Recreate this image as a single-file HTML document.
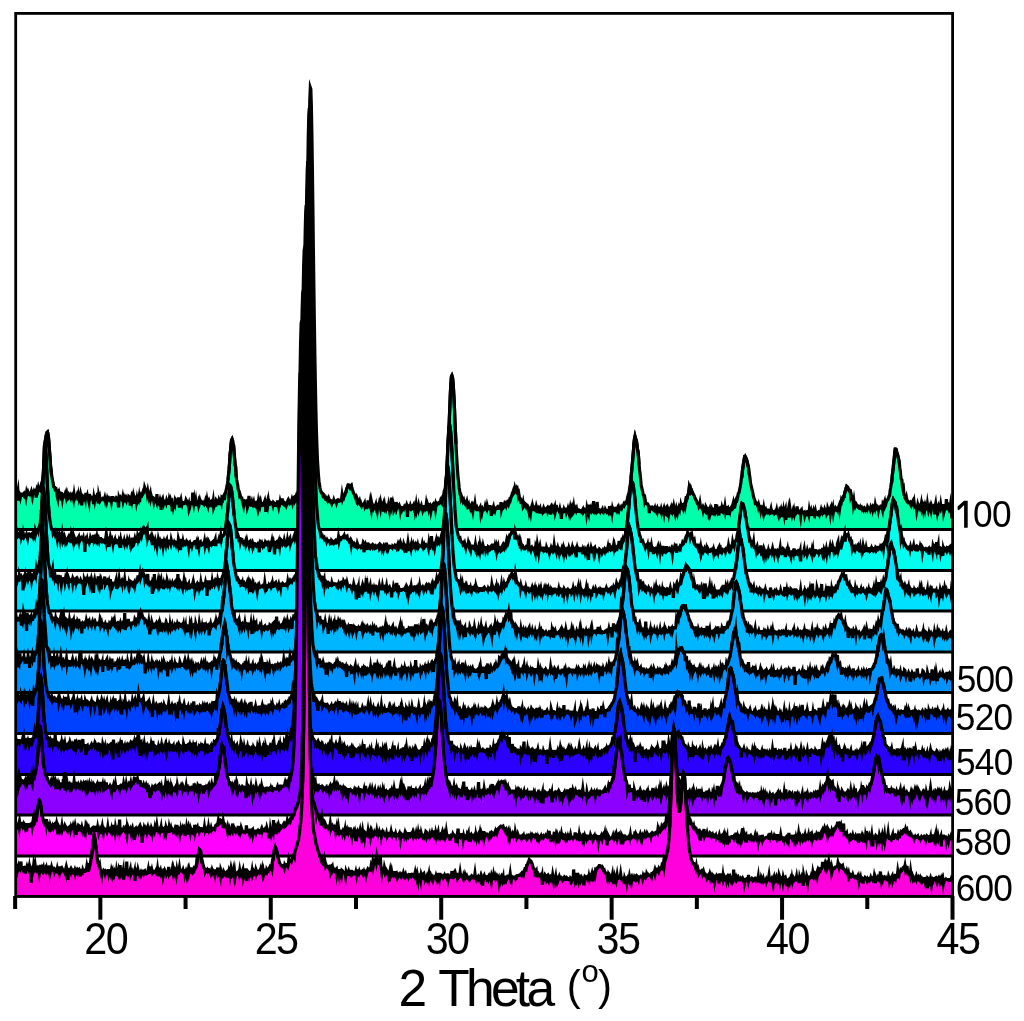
<!DOCTYPE html>
<html><head><meta charset="utf-8"><style>
html,body{margin:0;padding:0;background:#fff;}
body{width:1024px;height:1021px;overflow:hidden;}
svg{display:block;}
</style></head><body>
<svg width="1024" height="1021" viewBox="0 0 1024 1021"><defs><clipPath id="c"><rect x="15.3" y="13" width="937.7" height="884"/></clipPath></defs><g clip-path="url(#c)"><g stroke="#000" stroke-width="3.2" stroke-linejoin="miter" stroke-miterlimit="8"><path fill="#00FFAA" d="M15.30 529.5L15.30 493.5l.51 2 .51 -2 .51 1 .52 -1 .51 -2.5 .51 9.5 .51 -6 .51 -1 .51 1 .51 2.5 .51 -2.5 .52 -.5 .51 0 .51 1.5 .51 0 .51 -1 .51 1 .51 -1.5 .51 -1 .52 .5 .51 3 .51 -3.5 .51 2 .51 -.5 .51 -2 .51 1.5 .51 0 .52 .5 .51 -.5 .51 -.5 .51 -1.5 .51 3 .51 2 .51 -4 .52 1 .51 -.5 .51 -2 .51 1 .51 1 .51 -1.5 .51 5.5 .51 -3.5 .52 -4.5 .51 1 .51 -2.5 .51 2 .51 -.5 .51 .5 .51 -2.5 .51 -.5 .52 -2.5 .51 .5 .51 -3.5 .51 -4 .51 -3.5 .51 -5.5 .51 -4 .51 -6.5 .52 -8.5 .51 -5.5 .51 -7 .51 -4.5 .51 -.5 .51 2 .51 4 .52 5.5 .51 8 .51 6 .51 9 .51 3.5 .51 5 .51 2.5 .51 3.5 .52 1.5 .51 4 .51 1 .51 0 .51 2.5 .51 0 .51 -.5 .51 2 .52 5 .51 2 .51 -6 .51 -1 .51 2 .51 -.5 .51 0 .51 3.5 .52 -1 .51 -.5 .51 3.5 .51 -3.5 .51 .5 .51 0 .51 .5 .52 -1.5 .51 1.5 .51 -2 .51 3 .51 -2 .51 3 .51 -1 .51 -1.5 .52 1.5 .51 -1 .51 -1 .51 1.5 .51 -3.5 .51 5 .51 -.5 .51 -2 .52 1 .51 2.5 .51 -4 .51 3.5 .51 -1.5 .51 .5 .51 -.5 .51 -1 .52 -1.5 .51 1.5 .51 4.5 .51 -4 .51 3 .51 -1.5 .51 .5 .52 -3.5 .51 2.5 .51 8 .51 -8 .51 4 .51 -5 .51 .5 .51 -.5 .52 -.5 .51 2.5 .51 -5.5 .51 5.5 .51 -.5 .51 -2 .51 2.5 .51 .5 .52 2.5 .51 -7.5 .51 5.5 .51 -1 .51 -1.5 .51 0 .51 1 .51 0 .52 0 .51 6 .51 -6 .51 2.5 .51 -3.5 .51 0 .51 4 .52 -6 .51 3.5 .51 -5.5 .51 10.5 .51 -7.5 .51 2.5 .51 -1.5 .51 3.5 .52 -1 .51 0 .51 -.5 .51 0 .51 -.5 .51 .5 .51 1 .51 0 .52 -2 .51 2.5 .51 -2 .51 0 .51 2.5 .51 -2.5 .51 1.5 .51 -.5 .52 -1 .51 1 .51 -1 .51 -.5 .51 0 .51 3 .51 -3.5 .52 0 .51 0 .51 2 .51 -.5 .51 .5 .51 .5 .51 -1 .51 .5 .52 -1.5 .51 .5 .51 0 .51 4 .51 5 .51 -9.5 .51 1.5 .51 0 .52 -1.5 .51 1 .51 .5 .51 .5 .51 -2.5 .51 3.5 .51 -2 .51 2 .52 0 .51 -2.5 .51 1.5 .51 1 .51 -2.5 .51 1 .51 0 .52 .5 .51 -3.5 .51 .5 .51 2.5 .51 6 .51 -4.5 .51 -2.5 .51 2.5 .52 -3 .51 2 .51 4 .51 -7 .51 2 .51 .5 .51 -1.5 .51 -.5 .52 4 .51 -3 .51 2.5 .51 -1.5 .51 1 .51 -3 .51 4.5 .51 -4 .52 -2.5 .51 1 .51 0 .51 -1.5 .51 -2 .51 -1.5 .51 1 .52 -1 .51 -4 .51 1.5 .51 .5 .51 0 .51 .5 .51 3.5 .51 -2.5 .52 3 .51 0 .51 3.5 .51 -1.5 .51 -2 .51 4.5 .51 -2 .51 2 .52 0 .51 -.5 .51 .5 .51 3 .51 -2.5 .51 .5 .51 1 .51 -.5 .52 1.5 .51 -7.5 .51 7.5 .51 0 .51 1 .51 1 .51 -1.5 .52 -2 .51 2 .51 8 .51 -9 .51 -1.5 .51 -1 .51 3 .51 2 .52 -2 .51 -.5 .51 0 .51 .5 .51 1.5 .51 -2.5 .51 1.5 .51 1.5 .52 0 .51 0 .51 -3.5 .51 2 .51 1 .51 -3 .51 1.5 .51 -.5 .52 10.5 .51 -9.5 .51 4 .51 -2.5 .51 -.5 .51 1.5 .51 -4.5 .52 1 .51 1.5 .51 -.5 .51 .5 .51 -1 .51 -4 .51 5 .51 5 .52 -6 .51 .5 .51 -2 .51 3 .51 1.5 .51 -2 .51 0 .51 0 .52 .5 .51 -.5 .51 .5 .51 -.5 .51 -2.5 .51 1 .51 1 .51 2 .52 1.5 .51 -1.5 .51 5.5 .51 -1.5 .51 -4 .51 -1.5 .51 0 .52 0 .51 .5 .51 -10.5 .51 9 .51 2.5 .51 -3.5 .51 4 .51 0 .52 -3 .51 4.5 .51 -4.5 .51 0 .51 .5 .51 2.5 .51 -3 .51 1.5 .52 -2.5 .51 2 .51 -.5 .51 -.5 .51 .5 .51 1.5 .51 0 .51 .5 .52 .5 .51 -2 .51 .5 .51 -2 .51 2 .51 1 .51 -3.5 .52 3 .51 2 .51 -3 .51 -1.5 .51 1.5 .51 1.5 .51 -1 .51 1 .52 -1.5 .51 1 .51 1 .51 -3 .51 6 .51 -1.5 .51 -3 .51 -1 .52 4.5 .51 -5 .51 1 .51 -1.5 .51 .5 .51 -.5 .51 4 .51 -5 .52 1 .51 -.5 .51 -.5 .51 2 .51 -4.5 .51 .5 .51 1 .52 -2.5 .51 -1 .51 4.5 .51 -5.5 .51 -1 .51 -2.5 .51 -2.5 .51 -2.5 .52 -2.5 .51 -3.5 .51 -5 .51 -5 .51 -6.5 .51 -9 .51 -4 .51 -6.5 .52 -4 .51 -1 .51 1.5 .51 4.5 .51 .5 .51 7 .51 6.5 .51 6 .52 2 .51 9.5 .51 3.5 .51 2.5 .51 2.5 .51 4.5 .51 1.5 .52 .5 .51 4.5 .51 -.5 .51 2 .51 .5 .51 0 .51 2.5 .51 2.5 .52 2 .51 -5 .51 3.5 .51 -2 .51 .5 .51 -.5 .51 1.5 .51 -.5 .52 5 .51 -1.5 .51 -4 .51 -6 .51 6 .51 2 .51 .5 .51 -1 .52 -1.5 .51 3 .51 .5 .51 -2 .51 -1.5 .51 3 .51 .5 .52 -2 .51 -.5 .51 1.5 .51 -1.5 .51 0 .51 3.5 .51 -3.5 .51 4 .52 -2.5 .51 -2 .51 2.5 .51 -2.5 .51 2.5 .51 .5 .51 0 .51 -2 .52 0 .51 .5 .51 -1.5 .51 -1.5 .51 3 .51 8 .51 -9 .51 .5 .52 -2 .51 3 .51 -3.5 .51 3.5 .51 0 .51 -2 .51 1 .51 0 .52 -.5 .51 .5 .51 -.5 .51 2 .51 -2.5 .51 .5 .51 1 .52 1.5 .51 0 .51 -1.5 .51 -.5 .51 1 .51 -4 .51 4.5 .51 2 .52 -3 .51 .5 .51 -3 .51 2 .51 0 .51 0 .51 -5 .51 4 .52 1.5 .51 .5 .51 -2 .51 .5 .51 0 .51 1 .51 1.5 .51 -1.5 .52 -1.5 .51 -2 .51 -1 .51 1 .51 1 .51 2 .51 -.5 .52 -1 .51 0 .51 -2 .51 2 .51 -3.5 .51 -.5 .51 3.5 .51 -5.5 .52 3.5 .51 -1.5 .51 -1.5 .51 2.5 .51 -1 .51 -1.5 .51 -1 .51 -.5 .52 -1.5 .51 -1.5 .51 -2.5 .51 -2.5 .51 .5 .51 -4 .51 -5.5 .51 -4 .52 -7.5 .51 -11 .51 -12 .51 -17.5 .51 -20.5 .51 -25.5 .51 -30 .52 -34.5 .51 -38 .51 -41 .51 -40.5 .51 -39 .51 -33.5 .51 -24 .51 -12 .52 1.5 .51 16 .51 27 .51 35 .51 39.5 .51 42.5 .51 39.5 .51 37 .52 33 .51 28.5 .51 24.5 .51 20.5 .51 15 .51 13 .51 8 .51 7.5 .52 6 .51 3 .51 3.5 .51 3 .51 .5 .51 1.5 .51 .5 .52 1.5 .51 -1 .51 .5 .51 .5 .51 2 .51 1.5 .51 1 .51 0 .52 -1 .51 1.5 .51 1 .51 -1 .51 -1.5 .51 1.5 .51 1 .51 -.5 .52 .5 .51 1 .51 1.5 .51 -1.5 .51 .5 .51 -.5 .51 -2 .51 1.5 .52 0 .51 .5 .51 -.5 .51 1.5 .51 -2 .51 -.5 .51 1 .52 0 .51 -1 .51 .5 .51 0 .51 -1 .51 -.5 .51 0 .51 -4 .52 3.5 .51 -1.5 .51 .5 .51 -2.5 .51 0 .51 -2 .51 -1 .51 -.5 .52 -3 .51 -1 .51 -1.5 .51 -1.5 .51 0 .51 .5 .51 0 .51 1.5 .52 -1 .51 -.5 .51 2.5 .51 2 .51 .5 .51 2 .51 1 .52 1 .51 1 .51 2 .51 1 .51 1.5 .51 -2 .51 1.5 .51 2.5 .52 -1 .51 .5 .51 -1 .51 2.5 .51 -.5 .51 2.5 .51 1 .51 -1.5 .52 .5 .51 0 .51 0 .51 -1 .51 -1 .51 3.5 .51 -1 .51 .5 .52 1 .51 .5 .51 -.5 .51 -6.5 .51 4.5 .51 0 .51 1 .52 -3.5 .51 4 .51 2.5 .51 -6 .51 2.5 .51 -.5 .51 1 .51 2.5 .52 -1 .51 -1 .51 -.5 .51 -1.5 .51 3.5 .51 -1 .51 3 .51 -4 .52 .5 .51 -.5 .51 -2.5 .51 2 .51 2.5 .51 -4.5 .51 2.5 .51 -1 .52 1.5 .51 -1.5 .51 6.5 .51 -4 .51 -2.5 .51 3.5 .51 -1 .52 1.5 .51 -2 .51 1 .51 .5 .51 -1.5 .51 -2.5 .51 3 .51 3 .52 -3.5 .51 -1 .51 1.5 .51 -10 .51 9 .51 -.5 .51 -3 .51 2 .52 4 .51 -1.5 .51 .5 .51 1 .51 -7 .51 6 .51 -1.5 .51 -1.5 .52 .5 .51 1 .51 -1 .51 1.5 .51 3.5 .51 -3 .51 .5 .52 1.5 .51 -1.5 .51 -.5 .51 0 .51 1 .51 -1.5 .51 1 .51 0 .52 -1 .51 -1.5 .51 2.5 .51 9 .51 -10 .51 1 .51 -1 .51 1 .52 .5 .51 -2.5 .51 1.5 .51 -.5 .51 1.5 .51 -.5 .51 -2 .51 -1 .52 3 .51 -1 .51 4 .51 -2.5 .51 -3.5 .51 4 .51 -2.5 .52 .5 .51 2 .51 -3 .51 2.5 .51 -1.5 .51 .5 .51 0 .51 -1.5 .52 2.5 .51 -.5 .51 2.5 .51 -1.5 .51 -1.5 .51 -1 .51 0 .51 2 .52 -1 .51 -4 .51 2.5 .51 5 .51 -4.5 .51 2 .51 -3.5 .51 .5 .52 -.5 .51 1.5 .51 4.5 .51 -2.5 .51 -1 .51 -1.5 .51 1 .52 -1.5 .51 1.5 .51 -1 .51 -1.5 .51 4 .51 -3.5 .51 0 .51 -1.5 .52 .5 .51 0 .51 -1 .51 -.5 .51 .5 .51 -.5 .51 -2 .51 1 .52 1 .51 -3 .51 -3 .51 -.5 .51 -1.5 .51 -3.5 .51 -1 .51 -2.5 .52 -5.5 .51 -5 .51 -5.5 .51 -8.5 .51 -9.5 .51 -11 .51 -12 .52 -13 .51 -13 .51 -12.5 .51 -9 .51 -6.5 .51 -1 .51 1.5 .51 4.5 .52 7 .51 9 .51 11.5 .51 13.5 .51 10.5 .51 11 .51 11 .51 7.5 .52 8 .51 7.5 .51 3.5 .51 6 .51 3 .51 4 .51 1 .51 3 .52 -1.5 .51 1.5 .51 0 .51 2.5 .51 -1 .51 2 .51 1 .52 -.5 .51 1.5 .51 -1 .51 -1.5 .51 3 .51 2.5 .51 -.5 .51 -1.5 .52 2.5 .51 .5 .51 1 .51 -3 .51 -1 .51 2.5 .51 0 .51 3 .52 -3.5 .51 1.5 .51 -.5 .51 -3.5 .51 4 .51 .5 .51 -.5 .51 -1 .52 1.5 .51 -.5 .51 .5 .51 .5 .51 -1 .51 -1 .51 4.5 .52 -3.5 .51 -.5 .51 3.5 .51 -2.5 .51 .5 .51 -.5 .51 .5 .51 -.5 .52 -2.5 .51 2 .51 0 .51 1 .51 -3.5 .51 2 .51 0 .51 1 .52 0 .51 -2.5 .51 0 .51 1.5 .51 8 .51 -7.5 .51 .5 .51 -.5 .52 -1.5 .51 3 .51 -1 .51 1.5 .51 -2 .51 0 .51 -.5 .52 -.5 .51 -.5 .51 1.5 .51 0 .51 -1 .51 0 .51 -1 .51 3 .52 -7.5 .51 7 .51 -2 .51 0 .51 -1 .51 1 .51 -1 .51 -2 .52 1 .51 -1 .51 1.5 .51 -2 .51 -1 .51 1 .51 -1 .51 1.5 .52 -1.5 .51 -2.5 .51 .5 .51 -2 .51 -2 .51 -.5 .51 -2.5 .52 -1 .51 -1.5 .51 1.5 .51 -1 .51 -3 .51 2 .51 -1 .51 -1 .52 2 .51 -1 .51 2.5 .51 4 .51 -1.5 .51 3 .51 1.5 .51 0 .52 3.5 .51 0 .51 -.5 .51 2.5 .51 -2 .51 3.5 .51 -1 .51 .5 .52 -2 .51 .5 .51 2.5 .51 -.5 .51 1 .51 1.5 .51 -1.5 .52 1 .51 3.5 .51 -2.5 .51 0 .51 3 .51 -4 .51 -1.5 .51 4.5 .52 -4.5 .51 2 .51 0 .51 -.5 .51 1.5 .51 .5 .51 -1 .51 -2.5 .52 2 .51 4.5 .51 -4 .51 1 .51 -1.5 .51 1 .51 -1 .51 5 .52 -4.5 .51 .5 .51 .5 .51 1.5 .51 -1.5 .51 -1.5 .51 2 .52 -1 .51 1 .51 -1 .51 -.5 .51 1 .51 -1 .51 2 .51 -2 .52 1 .51 -1.5 .51 1 .51 -1 .51 6 .51 -4 .51 -2 .51 2 .52 .5 .51 -2.5 .51 1.5 .51 -1.5 .51 -1.5 .51 5 .51 -2 .51 -5 .52 4.5 .51 .5 .51 0 .51 -.5 .51 0 .51 1.5 .51 -2 .52 2.5 .51 -.5 .51 8 .51 -9 .51 0 .51 1.5 .51 0 .51 -2 .52 1.5 .51 -.5 .51 -1.5 .51 0 .51 3 .51 -1.5 .51 .5 .51 -2 .52 2 .51 -5 .51 5 .51 -2.5 .51 3.5 .51 -2.5 .51 2 .51 -2.5 .52 2.5 .51 -1.5 .51 -3 .51 4 .51 -1 .51 .5 .51 -1.5 .52 1.5 .51 -1.5 .51 2.5 .51 0 .51 0 .51 0 .51 -1 .51 .5 .52 -.5 .51 0 .51 1 .51 -1 .51 0 .51 -1 .51 2.5 .51 -1 .52 -1.5 .51 .5 .51 0 .51 0 .51 3.5 .51 -4.5 .51 2.5 .51 -1 .52 2 .51 -8 .51 7 .51 -1 .51 .5 .51 -2 .51 2 .52 -1 .51 1 .51 .5 .51 -10.5 .51 8 .51 1 .51 2 .51 .5 .52 -2 .51 .5 .51 -9 .51 6 .51 2.5 .51 .5 .51 -1 .51 .5 .52 1 .51 -1.5 .51 0 .51 .5 .51 -1 .51 2.5 .51 .5 .51 -1.5 .52 .5 .51 0 .51 -2 .51 1 .51 1 .51 -1 .51 0 .52 1 .51 1 .51 -1.5 .51 -3.5 .51 0 .51 3 .51 -1.5 .51 1 .52 3 .51 -4 .51 2 .51 -.5 .51 -1.5 .51 .5 .51 .5 .51 -1 .52 .5 .51 1 .51 -2 .51 -1 .51 1.5 .51 -1.5 .51 2 .51 -2 .52 0 .51 .5 .51 -1 .51 1 .51 -1.5 .51 -.5 .51 0 .52 -1.5 .51 1 .51 -1 .51 -1 .51 -1.5 .51 0 .51 .5 .51 -3.5 .52 -2 .51 -2.5 .51 -1 .51 -3 .51 -4 .51 -2.5 .51 -5 .51 -5 .52 -6 .51 -5 .51 -7 .51 -5.5 .51 -7.5 .51 -4 .51 -2.5 .51 2 .52 1 .51 2 .51 3.5 .51 4.5 .51 2 .51 6 .51 7 .52 5.5 .51 4 .51 5.5 .51 5 .51 3 .51 2 .51 2 .51 3 .52 .5 .51 2.5 .51 4 .51 -1.5 .51 3 .51 .5 .51 0 .51 .5 .52 0 .51 1.5 .51 2 .51 5.5 .51 -5.5 .51 .5 .51 -1 .51 0 .52 0 .51 2 .51 .5 .51 -1.5 .51 .5 .51 1 .51 -1.5 .52 2 .51 1 .51 -2 .51 -1 .51 2.5 .51 -2.5 .51 0 .51 2 .52 1 .51 -.5 .51 1 .51 -2 .51 2.5 .51 -2.5 .51 .5 .51 .5 .52 -1.5 .51 3.5 .51 -3.5 .51 1.5 .51 -1 .51 4.5 .51 .5 .51 -4 .52 -2 .51 1.5 .51 3 .51 -3.5 .51 0 .51 -1 .51 1.5 .52 -2 .51 2 .51 -1.5 .51 2.5 .51 -1.5 .51 -3 .51 2.5 .51 2.5 .52 -5 .51 4.5 .51 -2.5 .51 2 .51 2.5 .51 -2.5 .51 -1 .51 -2 .52 1.5 .51 -4 .51 5 .51 -4.5 .51 2 .51 -.5 .51 -.5 .51 1.5 .52 -3.5 .51 0 .51 -1 .51 2.5 .51 -3.5 .51 -3.5 .51 .5 .52 -1.5 .51 -2.5 .51 -1 .51 -1.5 .51 -4.5 .51 2 .51 1 .51 -2 .52 2 .51 -.5 .51 1.5 .51 1 .51 .5 .51 1 .51 1 .51 2 .52 .5 .51 1.5 .51 .5 .51 1.5 .51 1.5 .51 .5 .51 .5 .51 2 .52 -1 .51 -2.5 .51 3.5 .51 0 .51 1 .51 1 .51 -1 .52 2.5 .51 -2.5 .51 1 .51 1 .51 2 .51 .5 .51 -5 .51 1 .52 2 .51 0 .51 -.5 .51 3.5 .51 -2 .51 -1.5 .51 4 .51 -2 .52 -1 .51 4.5 .51 -5.5 .51 1 .51 1 .51 -2 .51 -.5 .51 3 .52 -1 .51 -7 .51 7 .51 -1 .51 -1 .51 3 .51 -1 .52 4.5 .51 -5 .51 -1 .51 1.5 .51 -.5 .51 .5 .51 -3 .51 2 .52 1 .51 -2.5 .51 -3.5 .51 5.5 .51 -3.5 .51 4 .51 -2.5 .51 -.5 .52 .5 .51 -.5 .51 7 .51 -6 .51 -.5 .51 0 .51 2 .51 -2.5 .52 -.5 .51 3.5 .51 -5 .51 -.5 .51 -2 .51 4 .51 -.5 .52 -3.5 .51 1 .51 -2.5 .51 -3 .51 -1 .51 1 .51 -2 .51 -3.5 .52 -.5 .51 -1.5 .51 -3 .51 -2 .51 -3.5 .51 -4.5 .51 -1.5 .51 -5.5 .52 -4 .51 -3.5 .51 -3 .51 -3 .51 .5 .51 -1.5 .51 1 .51 1 .52 2 .51 2 .51 2.5 .51 2 .51 6 .51 1.5 .51 3.5 .52 5 .51 2 .51 2 .51 2.5 .51 2 .51 2.5 .51 2.5 .51 1.5 .52 1.5 .51 2.5 .51 -.5 .51 .5 .51 1.5 .51 1 .51 0 .51 2 .52 -2 .51 2 .51 1 .51 -.5 .51 3 .51 -2.5 .51 -.5 .51 1 .52 .5 .51 3 .51 -3.5 .51 3 .51 -2 .51 -.5 .51 2.5 .52 -1 .51 1 .51 -1.5 .51 0 .51 1 .51 1 .51 1 .51 -1 .52 -1 .51 -2 .51 3 .51 -.5 .51 1.5 .51 0 .51 -1.5 .51 0 .52 2 .51 -.5 .51 -1.5 .51 .5 .51 -2 .51 3 .51 0 .51 1.5 .52 -5 .51 3.5 .51 -2.5 .51 1 .51 -1.5 .51 4 .51 -1 .51 -2 .52 1.5 .51 4.5 .51 -5 .51 3 .51 -4 .51 -1.5 .51 10.5 .52 -8 .51 .5 .51 .5 .51 -1 .51 -2.5 .51 8 .51 -5 .51 -4 .52 3.5 .51 -.5 .51 1 .51 2.5 .51 -2 .51 4.5 .51 -4 .51 -2.5 .52 3 .51 -2 .51 .5 .51 .5 .51 -1 .51 -5.5 .51 3.5 .51 1 .52 0 .51 2 .51 .5 .51 -1 .51 3.5 .51 -4.5 .51 -1 .52 2.5 .51 0 .51 -.5 .51 .5 .51 -.5 .51 3 .51 -2 .51 0 .52 .5 .51 -2 .51 -.5 .51 0 .51 1 .51 2 .51 -4.5 .51 2.5 .52 0 .51 -1.5 .51 3.5 .51 0 .51 -2.5 .51 1 .51 1 .51 -3 .52 1.5 .51 1.5 .51 -2.5 .51 2.5 .51 -.5 .51 0 .51 .5 .52 -1.5 .51 -.5 .51 .5 .51 2 .51 -1.5 .51 -1 .51 -2 .51 2 .52 1 .51 -1.5 .51 1.5 .51 -.5 .51 -1 .51 -2 .51 1.5 .51 -1 .52 .5 .51 3.5 .51 -1 .51 -4.5 .51 1.5 .51 .5 .51 1.5 .51 -1.5 .52 3.5 .51 -4 .51 -2 .51 2.5 .51 -1 .51 -2 .51 4.5 .52 -3 .51 0 .51 0 .51 -1 .51 1 .51 -1 .51 0 .51 1.5 .52 -1.5 .51 -.5 .51 -1.5 .51 3.5 .51 -3.5 .51 -2 .51 0 .51 -4 .52 1 .51 -.5 .51 -2.5 .51 -1.5 .51 0 .51 -3 .51 -2 .51 -1.5 .52 -2 .51 -1.5 .51 .5 .51 .5 .51 1.5 .51 1 .51 0 .52 1 .51 0 .51 5.5 .51 -1.5 .51 2.5 .51 1 .51 -.5 .51 5.5 .52 -3 .51 4 .51 -.5 .51 2.5 .51 -1 .51 -1 .51 1 .51 0 .52 .5 .51 1.5 .51 0 .51 1 .51 0 .51 -1.5 .51 1 .51 -.5 .52 1.5 .51 -1 .51 .5 .51 1.5 .51 -1 .51 -1 .51 .5 .52 1.5 .51 -1 .51 -.5 .51 1 .51 -2.5 .51 1 .51 0 .51 0 .52 0 .51 1.5 .51 -2 .51 1.5 .51 -.5 .51 -1 .51 2.5 .51 -2 .52 -1 .51 1.5 .51 1 .51 -4 .51 2.5 .51 .5 .51 -.5 .51 -1.5 .52 .5 .51 3 .51 -3 .51 0 .51 1 .51 -.5 .51 -1.5 .52 0 .51 1.5 .51 2 .51 -5 .51 1 .51 -2 .51 -1.5 .51 4.5 .52 -1 .51 -4.5 .51 .5 .51 -1.5 .51 0 .51 -1 .51 -1.5 .51 -1.5 .52 -.5 .51 -5 .51 -2.5 .51 -4 .51 -1.5 .51 -5.5 .51 -5 .51 -4 .52 -5 .51 -4.5 .51 -5.5 .51 -4 .51 0 .51 .5 .51 3 .52 1 .51 2 .51 2.5 .51 2 .51 3 .51 5 .51 3.5 .51 6 .52 2 .51 .5 .51 6.5 .51 2.5 .51 -1 .51 6.5 .51 1 .51 2.5 .52 .5 .51 1 .51 -2 .51 2.5 .51 1.5 .51 0 .51 1.5 .51 0 .52 0 .51 -.5 .51 2 .51 1 .51 -2 .51 -1 .51 -1 .52 3.5 .51 0 .51 -2.5 .51 4 .51 -.5 .51 .5 .51 .5 .51 4 .52 -3 .51 -3 .51 2 .51 -1.5 .51 1 .51 -.5 .51 2 .51 -1 .52 -3 .51 4 .51 -2 .51 2.5 .51 -7 .51 5.5 .51 -.5 .51 2.5 .52 -3.5 .51 1.5 .51 2 .51 0 .51 -4.5 .51 3.5 .51 2.5 .52 -2 .51 -1 .51 -1.5 .51 1.5 .51 2.5 .51 -4 .51 1.5 .51 0 .52 0 .51 -1.5 .51 -.5 .51 9 .51 -8 .51 -2.5 .51 4.5 .51 -.5 .52 3.5 .51 -3.5 .51 -1.5 .51 2.5 .51 -2.5 .51 1 .51 1 .51 -3.5 .52 3.5 .51 -1 .51 -.5 .51 -1.5 .51 0 .51 7 .51 -2 .52 -3.5 .51 0 .51 .5 .51 -8.5 .51 7.5 .51 -4 .51 4.5 .51 .5 .52 1.5 .51 -1.5 .51 1 .51 -3.5 .51 4.5 .51 -2.5 .51 -.5 .51 -.5 .52 5L953.01 529.5Z"/><path fill="none" stroke-miterlimit="40" d="M43.42 474.0l.51 -5.5 .51 -4 .51 -6.5 .52 -8.5 .51 -5.5 .51 -7 .51 -4.5 .51 -.5 .51 2 .51 4 .52 5.5 .51 8 .51 6 .51 9 .51 3.5M44.44 464.5l.51 -6.5 .52 -8.5 .51 -5.5 .51 -7 .51 -4.5 .51 -.5 .51 2 .51 4 .52 5.5 .51 8 .51 6 .51 9 .51 3.5 .51 5M228.00 480.0l.51 -5 .51 -5 .51 -6.5 .51 -9 .51 -4 .51 -6.5 .52 -4 .51 -1 .51 1.5 .51 4.5 .51 .5 .51 7 .51 6.5 .51 6 .52 2 .51 9.5M229.02 470.0l.51 -6.5 .51 -9 .51 -4 .51 -6.5 .52 -4 .51 -1 .51 1.5 .51 4.5 .51 .5 .51 7 .51 6.5 .51 6 .52 2 .51 9.5M344.06 495.5l.51 0 .51 -2 .51 -1 .51 -.5 .52 -3 .51 -1 .51 -1.5 .51 -1.5 .51 0 .51 .5 .51 0 .51 1.5 .52 -1 .51 -.5 .51 2.5 .51 2M447.85 453.5l.51 -11 .51 -12 .52 -13 .51 -13 .51 -12.5 .51 -9 .51 -6.5 .51 -1 .51 1.5 .51 4.5 .52 7 .51 9 .51 11.5 .51 13.5 .51 10.5 .51 11M448.87 430.5l.52 -13 .51 -13 .51 -12.5 .51 -9 .51 -6.5 .51 -1 .51 1.5 .51 4.5 .52 7 .51 9 .51 11.5 .51 13.5 .51 10.5 .51 11M630.89 479.0l.51 -5 .52 -6 .51 -5 .51 -7 .51 -5.5 .51 -7.5 .51 -4 .51 -2.5 .51 2 .52 1 .51 2 .51 3.5 .51 4.5 .51 2 .51 6 .51 7M632.43 463.0l.51 -7 .51 -5.5 .51 -7.5 .51 -4 .51 -2.5 .51 2 .52 1 .51 2 .51 3.5 .51 4.5 .51 2 .51 6 .51 7M685.09 506.0l.51 -3.5 .51 -3.5 .51 .5 .52 -1.5 .51 -2.5 .51 -1 .51 -1.5 .51 -4.5 .51 2 .51 1 .51 -2 .52 2 .51 -.5 .51 1.5 .51 1 .51 .5M741.33 478.5l.51 -1.5 .51 -5.5 .52 -4 .51 -3.5 .51 -3 .51 -3 .51 .5 .51 -1.5 .51 1 .51 1 .52 2 .51 2 .51 2.5 .51 2 .51 6 .51 1.5M741.33 478.5l.51 -1.5 .51 -5.5 .52 -4 .51 -3.5 .51 -3 .51 -3 .51 .5 .51 -1.5 .51 1 .51 1 .52 2 .51 2 .51 2.5 .51 2 .51 6 .51 1.5M842.57 500.5l.51 -2.5 .51 -1.5 .51 0 .51 -3 .51 -2 .51 -1.5 .52 -2 .51 -1.5 .51 .5 .51 .5 .51 1.5 .51 1 .51 0 .52 1 .51 0 .51 5.5M891.14 484.0l.51 -1.5 .51 -5.5 .51 -5 .51 -4 .52 -5 .51 -4.5 .51 -5.5 .51 -4 .51 0 .51 .5 .51 3 .52 1 .51 2 .51 2.5 .51 2 .51 3M894.21 458.5l.51 -5.5 .51 -4 .51 0 .51 .5 .51 3 .52 1 .51 2 .51 2.5 .51 2 .51 3"/><path fill="#00FFEE" d="M15.30 570.5L15.30 533.0l.51 4.5 .51 0 .51 -3.5 .52 3 .51 -.5 .51 -.5 .51 -.5 .51 -1.5 .51 3 .51 .5 .51 -7.5 .52 6 .51 -2 .51 1.5 .51 4 .51 -5 .51 2.5 .51 -1 .51 0 .52 -.5 .51 .5 .51 -1.5 .51 1.5 .51 2 .51 -3.5 .51 0 .51 -.5 .52 .5 .51 1 .51 .5 .51 -1.5 .51 -.5 .51 1 .51 -1 .52 2 .51 -2 .51 .5 .51 1.5 .51 -4.5 .51 2 .51 -2 .51 -1 .52 0 .51 -1 .51 1.5 .51 -3 .51 -.5 .51 -2.5 .51 -2.5 .51 -6 .52 -5 .51 -8 .51 -8.5 .51 -10.5 .51 -12.5 .51 -14 .51 -12 .51 -3 .52 4 .51 6.5 .51 10.5 .51 13 .51 11.5 .51 9.5 .51 8 .52 8 .51 3.5 .51 4 .51 3.5 .51 2 .51 2.5 .51 .5 .51 0 .52 3.5 .51 -1 .51 0 .51 -1 .51 2 .51 2.5 .51 -.5 .51 .5 .52 3 .51 -4.5 .51 1.5 .51 .5 .51 -1.5 .51 3 .51 -5.5 .51 5 .52 0 .51 2 .51 -4.5 .51 3.5 .51 1.5 .51 -2 .51 -1.5 .52 2 .51 3 .51 -1.5 .51 -.5 .51 2 .51 -1.5 .51 -2 .51 -1 .52 2.5 .51 -.5 .51 0 .51 -2 .51 6 .51 -7.5 .51 2 .51 2 .52 -3 .51 4 .51 -3.5 .51 1.5 .51 2.5 .51 -1.5 .51 .5 .51 1 .52 -2 .51 -1 .51 0 .51 -1 .51 3.5 .51 -3 .51 0 .52 1.5 .51 -1 .51 1 .51 .5 .51 0 .51 -1.5 .51 3 .51 0 .52 11 .51 -11.5 .51 -1.5 .51 1 .51 -1.5 .51 3 .51 -.5 .51 -.5 .52 0 .51 2 .51 -1.5 .51 -3 .51 1.5 .51 2 .51 0 .51 -1.5 .52 -1.5 .51 -3.5 .51 5 .51 -1.5 .51 1.5 .51 -1.5 .51 2 .52 1 .51 -4 .51 2.5 .51 .5 .51 -1.5 .51 2 .51 -2.5 .51 0 .52 0 .51 2.5 .51 .5 .51 -1 .51 -.5 .51 .5 .51 0 .51 1.5 .52 .5 .51 -.5 .51 -4 .51 3.5 .51 -3.5 .51 4 .51 0 .51 5 .52 -8 .51 .5 .51 1.5 .51 -3.5 .51 2.5 .51 0 .51 -1 .52 2 .51 3 .51 -3.5 .51 0 .51 .5 .51 -1.5 .51 2.5 .51 -.5 .52 .5 .51 -1 .51 .5 .51 0 .51 1.5 .51 -2.5 .51 1.5 .51 -1.5 .52 7.5 .51 -7.5 .51 2 .51 -1.5 .51 0 .51 0 .51 1.5 .51 -2 .52 2.5 .51 -2.5 .51 0 .51 1.5 .51 1.5 .51 -3 .51 2 .52 -.5 .51 .5 .51 -2 .51 2.5 .51 -2 .51 .5 .51 4.5 .51 -1.5 .52 -7 .51 8.5 .51 -.5 .51 -4.5 .51 .5 .51 -2.5 .51 2 .51 -.5 .52 1 .51 0 .51 -4 .51 2.5 .51 -2 .51 -1.5 .51 2 .51 -1.5 .52 -1 .51 -2.5 .51 2 .51 -2.5 .51 -1 .51 -2 .51 1 .52 -2 .51 1 .51 -1 .51 .5 .51 3 .51 -2 .51 -1.5 .51 8.5 .52 -2 .51 1 .51 1.5 .51 .5 .51 0 .51 -1.5 .51 2.5 .51 -.5 .52 6 .51 -7 .51 1.5 .51 .5 .51 -.5 .51 3.5 .51 -2.5 .51 2 .52 .5 .51 3 .51 -5 .51 3.5 .51 -5 .51 2 .51 1.5 .52 1.5 .51 -2.5 .51 1.5 .51 1 .51 -5.5 .51 4 .51 3.5 .51 -3.5 .52 -2 .51 1.5 .51 0 .51 2 .51 -4 .51 -1 .51 4.5 .51 1 .52 -4 .51 0 .51 .5 .51 1 .51 0 .51 1.5 .51 -4 .51 2 .52 .5 .51 -.5 .51 0 .51 1.5 .51 -1.5 .51 1 .51 .5 .52 1.5 .51 -2 .51 .5 .51 -1 .51 2 .51 -5.5 .51 2 .51 6 .52 -4 .51 7 .51 -4.5 .51 -6.5 .51 5 .51 .5 .51 -3 .51 2.5 .52 0 .51 -1 .51 1 .51 -1 .51 -1 .51 2 .51 .5 .51 -1.5 .52 1 .51 3 .51 -4.5 .51 -.5 .51 2 .51 .5 .51 1 .52 1.5 .51 -2 .51 -1.5 .51 0 .51 0 .51 -1.5 .51 -.5 .51 0 .52 2.5 .51 -1.5 .51 6.5 .51 -7 .51 -1 .51 3 .51 3 .51 -4.5 .52 0 .51 -.5 .51 2.5 .51 .5 .51 -.5 .51 -.5 .51 -.5 .51 -.5 .52 1 .51 -2.5 .51 4 .51 -2.5 .51 1 .51 -2 .51 1.5 .52 4.5 .51 -4 .51 2 .51 -4 .51 1 .51 0 .51 1.5 .51 .5 .52 -1.5 .51 -1 .51 -.5 .51 2.5 .51 0 .51 -2 .51 -1.5 .51 -1.5 .52 6.5 .51 -4.5 .51 0 .51 0 .51 .5 .51 0 .51 -2 .51 2 .52 0 .51 -3.5 .51 -3 .51 3.5 .51 -3 .51 .5 .51 -.5 .52 -.5 .51 -.5 .51 -1 .51 -3.5 .51 -3 .51 -1.5 .51 -4.5 .51 -5 .52 -3.5 .51 -6 .51 -5.5 .51 -6 .51 -4.5 .51 -5.5 .51 .5 .51 2 .52 2.5 .51 3.5 .51 4.5 .51 6.5 .51 4.5 .51 6 .51 3.5 .51 4 .52 3.5 .51 2.5 .51 9.5 .51 -5.5 .51 1.5 .51 1.5 .51 3 .52 -.5 .51 0 .51 4 .51 -2 .51 -.5 .51 1 .51 -.5 .51 1.5 .52 .5 .51 1.5 .51 -.5 .51 -.5 .51 -1.5 .51 3.5 .51 -1.5 .51 -2.5 .52 2.5 .51 -.5 .51 .5 .51 2 .51 -3.5 .51 -.5 .51 4 .51 .5 .52 -.5 .51 -1.5 .51 2.5 .51 -2.5 .51 1.5 .51 -2 .51 0 .52 1 .51 1 .51 .5 .51 -1 .51 -.5 .51 -.5 .51 -1 .51 0 .52 9.5 .51 -9.5 .51 -1.5 .51 .5 .51 3.5 .51 .5 .51 -2 .51 1.5 .52 -1.5 .51 .5 .51 1 .51 -1 .51 -2 .51 1 .51 -.5 .51 2 .52 0 .51 -1 .51 2.5 .51 -1 .51 6.5 .51 -7 .51 -1 .51 1.5 .52 -2 .51 -2.5 .51 3 .51 .5 .51 -2 .51 2.5 .51 9.5 .52 -10 .51 -1.5 .51 -.5 .51 6 .51 -3.5 .51 -2 .51 0 .51 -1.5 .52 2 .51 3 .51 -4 .51 2 .51 0 .51 -4 .51 .5 .51 2.5 .52 -1 .51 .5 .51 -2.5 .51 2.5 .51 -1 .51 .5 .51 2 .51 -1 .52 -3 .51 3.5 .51 -.5 .51 -1.5 .51 -2.5 .51 -1 .51 5 .52 -2 .51 -1 .51 .5 .51 -1 .51 0 .51 -.5 .51 -2.5 .51 -1.5 .52 2.5 .51 -2 .51 1 .51 -3 .51 1 .51 -2.5 .51 -1.5 .51 0 .52 -.5 .51 -3.5 .51 -2 .51 -2 .51 -8 .51 -5.5 .51 -9.5 .51 -14.5 .52 -10.5 .51 -18.5 .51 -24 .51 -28 .51 -33 .51 -37 .51 -41 .52 -43.5 .51 -42.5 .51 -38.5 .51 -32.5 .51 -21 .51 -7.5 .51 7 .51 21 .52 31.5 .51 39 .51 42 .51 43 .51 41.5 .51 37.5 .51 33 .51 28.5 .52 23 .51 19.5 .51 14 .51 13 .51 8 .51 6 .51 6.5 .51 4.5 .52 2 .51 1 .51 1.5 .51 3.5 .51 -1 .51 1.5 .51 0 .52 2.5 .51 .5 .51 0 .51 -.5 .51 2 .51 -.5 .51 .5 .51 0 .52 2 .51 -1.5 .51 1 .51 -.5 .51 0 .51 .5 .51 0 .51 2.5 .52 -.5 .51 -2 .51 1 .51 -1 .51 .5 .51 .5 .51 1.5 .51 -.5 .52 -2 .51 -.5 .51 1 .51 1 .51 -.5 .51 -1.5 .51 .5 .52 -3.5 .51 3.5 .51 -2.5 .51 1.5 .51 0 .51 -.5 .51 -2 .51 0 .52 0 .51 -1 .51 0 .51 -1 .51 2.5 .51 0 .51 -2 .51 0 .52 1 .51 -.5 .51 3 .51 0 .51 1 .51 1 .51 -.5 .51 -1 .52 1.5 .51 3.5 .51 -3.5 .51 1 .51 .5 .51 1 .51 -.5 .52 1.5 .51 -1 .51 .5 .51 1.5 .51 -.5 .51 1 .51 -3 .51 1.5 .52 .5 .51 1 .51 -.5 .51 0 .51 0 .51 1 .51 -1 .51 -.5 .52 1 .51 -2.5 .51 1.5 .51 7 .51 -7.5 .51 1 .51 -1.5 .51 1.5 .52 1 .51 3 .51 -7.5 .51 3.5 .51 .5 .51 1 .51 .5 .52 -1.5 .51 1 .51 -1 .51 -1 .51 -.5 .51 1.5 .51 -1.5 .51 .5 .52 1 .51 1.5 .51 -.5 .51 -1 .51 1 .51 -.5 .51 -.5 .51 -.5 .52 1 .51 -1 .51 2.5 .51 -1 .51 .5 .51 -3 .51 .5 .51 3 .52 -2 .51 0 .51 2.5 .51 -2.5 .51 1 .51 1 .51 -.5 .52 -4 .51 0 .51 4.5 .51 -1 .51 2 .51 -1.5 .51 -2 .51 0 .52 .5 .51 1 .51 0 .51 0 .51 .5 .51 -2 .51 .5 .51 0 .52 0 .51 .5 .51 -1.5 .51 .5 .51 0 .51 1.5 .51 -1.5 .51 5 .52 -4.5 .51 -1.5 .51 2.5 .51 -.5 .51 0 .51 -3.5 .51 1.5 .52 2 .51 -.5 .51 1 .51 1 .51 -4 .51 1.5 .51 0 .51 6.5 .52 -6.5 .51 .5 .51 1.5 .51 -2 .51 -3.5 .51 3.5 .51 0 .51 5 .52 -3.5 .51 -1.5 .51 2.5 .51 -3 .51 3 .51 -.5 .51 -1 .51 -2.5 .52 1.5 .51 0 .51 -1 .51 2.5 .51 -1.5 .51 1.5 .51 -.5 .52 -2 .51 2.5 .51 -1 .51 -1 .51 .5 .51 0 .51 0 .51 0 .52 .5 .51 -2.5 .51 2.5 .51 1.5 .51 -1 .51 -2 .51 1.5 .51 -1 .52 -.5 .51 1 .51 0 .51 -.5 .51 .5 .51 2 .51 -4.5 .51 3 .52 .5 .51 -4.5 .51 5 .51 -11.5 .51 8 .51 1.5 .51 -2.5 .52 .5 .51 2 .51 2.5 .51 -3 .51 -2 .51 -2 .51 4 .51 -4.5 .52 1.5 .51 -1.5 .51 1.5 .51 1 .51 -2 .51 -2 .51 0 .51 -2 .52 2.5 .51 -6 .51 -2.5 .51 -4.5 .51 -3.5 .51 -6.5 .51 -7 .51 -8 .52 -9 .51 -11 .51 -12 .51 -11.5 .51 -11.5 .51 -10.5 .51 -7.5 .52 -2.5 .51 0 .51 3.5 .51 5 .51 8 .51 9 .51 10.5 .51 11 .52 11 .51 8.5 .51 8 .51 10 .51 6 .51 8.5 .51 3 .51 2.5 .52 2 .51 2.5 .51 2.5 .51 0 .51 1.5 .51 -.5 .51 2.5 .51 1 .52 .5 .51 0 .51 1.5 .51 -1 .51 1 .51 1 .51 -1.5 .52 2.5 .51 2 .51 -2.5 .51 .5 .51 -.5 .51 .5 .51 -3 .51 2 .52 2 .51 -2 .51 1.5 .51 2.5 .51 -3 .51 0 .51 1 .51 0 .52 1 .51 .5 .51 -1.5 .51 1.5 .51 -3.5 .51 3.5 .51 2 .51 -2.5 .52 -.5 .51 2.5 .51 -2.5 .51 2 .51 2 .51 -5 .51 3 .52 -2 .51 2 .51 -1.5 .51 1.5 .51 -3.5 .51 2 .51 -.5 .51 0 .52 0 .51 3 .51 -2 .51 -1 .51 0 .51 2 .51 -2.5 .51 .5 .52 .5 .51 -.5 .51 2 .51 -.5 .51 -2 .51 .5 .51 -2.5 .51 0 .52 3.5 .51 0 .51 0 .51 -2.5 .51 2.5 .51 -1 .51 3 .52 -4.5 .51 1.5 .51 -1.5 .51 4 .51 -1 .51 -1 .51 -.5 .51 0 .52 3.5 .51 -.5 .51 -4 .51 -1 .51 1.5 .51 -1.5 .51 1.5 .51 -2.5 .52 -.5 .51 1.5 .51 -2.5 .51 -2.5 .51 2 .51 -2 .51 1.5 .51 -2 .52 -1.5 .51 -3.5 .51 0 .51 -1 .51 -.5 .51 -1.5 .51 -.5 .52 -.5 .51 0 .51 1 .51 0 .51 7.5 .51 -6.5 .51 2 .51 1 .52 .5 .51 1 .51 1 .51 2 .51 -1.5 .51 2.5 .51 2 .51 5 .52 -4.5 .51 2.5 .51 -1.5 .51 .5 .51 1.5 .51 .5 .51 1.5 .51 0 .52 -1 .51 0 .51 -1 .51 -1 .51 0 .51 1.5 .51 -2.5 .52 -6.5 .51 12.5 .51 -2.5 .51 0 .51 1.5 .51 -2.5 .51 -.5 .51 1 .52 .5 .51 .5 .51 1 .51 -1 .51 2 .51 2 .51 -6 .51 1.5 .52 1.5 .51 -5 .51 3 .51 -.5 .51 4.5 .51 -3.5 .51 -2 .51 3.5 .52 0 .51 -1 .51 -1 .51 0 .51 1.5 .51 -.5 .51 2 .52 -.5 .51 -1 .51 .5 .51 .5 .51 -3 .51 1.5 .51 0 .51 1 .52 0 .51 2 .51 -4.5 .51 4 .51 -1.5 .51 -2 .51 1.5 .51 -1 .52 1 .51 1.5 .51 -1 .51 -4.5 .51 3.5 .51 -1 .51 1 .51 2 .52 -5 .51 4 .51 -2 .51 2 .51 -.5 .51 3 .51 -3 .52 0 .51 1.5 .51 -1.5 .51 -1.5 .51 2 .51 2 .51 -2.5 .51 3.5 .52 -3.5 .51 1.5 .51 1 .51 1.5 .51 -3.5 .51 .5 .51 -1.5 .51 .5 .52 1.5 .51 -3 .51 1.5 .51 0 .51 3 .51 -1 .51 -1.5 .51 -2 .52 3 .51 -1 .51 -1.5 .51 1 .51 1.5 .51 -1 .51 -1 .52 8.5 .51 -7 .51 -2.5 .51 2 .51 -1 .51 -.5 .51 .5 .51 1 .52 -.5 .51 -.5 .51 1 .51 .5 .51 2.5 .51 0 .51 -4 .51 1 .52 0 .51 2 .51 -2.5 .51 1 .51 1 .51 -1.5 .51 3.5 .51 -2 .52 8.5 .51 -10 .51 -.5 .51 .5 .51 .5 .51 -2.5 .51 2 .52 -1 .51 -1 .51 0 .51 3.5 .51 -3.5 .51 -.5 .51 4.5 .51 -2.5 .52 1 .51 -.5 .51 0 .51 1 .51 -.5 .51 -.5 .51 3.5 .51 -4 .52 .5 .51 .5 .51 0 .51 0 .51 2.5 .51 -1 .51 -2 .51 .5 .52 -1 .51 1.5 .51 -2 .51 .5 .51 1 .51 -1 .51 .5 .52 -2.5 .51 3.5 .51 -8 .51 5.5 .51 .5 .51 -1 .51 1.5 .51 -.5 .52 -1 .51 1 .51 -.5 .51 -3 .51 3 .51 -2.5 .51 2.5 .51 1.5 .52 -.5 .51 -1.5 .51 .5 .51 -2.5 .51 -.5 .51 0 .51 -4.5 .51 6 .52 .5 .51 -3 .51 -2 .51 1.5 .51 -3.5 .51 -1.5 .51 2 .52 -1 .51 -2.5 .51 -.5 .51 -1 .51 -5.5 .51 -2.5 .51 -3 .51 -3 .52 -5.5 .51 -4.5 .51 -5.5 .51 -6.5 .51 -6 .51 -5.5 .51 -5 .51 -3 .52 1.5 .51 .5 .51 1.5 .51 3 .51 4 .51 3.5 .51 5 .51 6.5 .52 5.5 .51 4.5 .51 4.5 .51 3.5 .51 4 .51 2.5 .51 2 .52 3 .51 .5 .51 2 .51 3.5 .51 0 .51 0 .51 -.5 .51 1.5 .52 1 .51 2 .51 .5 .51 1.5 .51 -2 .51 -.5 .51 2 .51 0 .52 -2 .51 3 .51 -5.5 .51 4.5 .51 4.5 .51 -4 .51 .5 .51 -2.5 .52 3.5 .51 -.5 .51 0 .51 5.5 .51 -5 .51 .5 .51 -.5 .52 1 .51 -1 .51 .5 .51 2 .51 -3.5 .51 -1.5 .51 3 .51 -1 .52 0 .51 4 .51 -4 .51 2 .51 -.5 .51 1 .51 -5 .51 5.5 .52 -1 .51 .5 .51 .5 .51 -2.5 .51 .5 .51 -2 .51 0 .51 3.5 .52 -.5 .51 -.5 .51 0 .51 -1 .51 1 .51 .5 .51 .5 .52 -1.5 .51 1.5 .51 3 .51 -5 .51 1 .51 0 .51 -2 .51 2 .52 0 .51 -6.5 .51 8 .51 0 .51 -2.5 .51 -1 .51 0 .51 -.5 .52 1 .51 -1.5 .51 1 .51 -2.5 .51 -.5 .51 0 .51 -2 .51 1 .52 -.5 .51 -1.5 .51 -.5 .51 -2 .51 -1.5 .51 1 .51 -2.5 .52 -1 .51 -3 .51 1 .51 .5 .51 .5 .51 0 .51 3 .51 -2 .52 1 .51 -1.5 .51 3.5 .51 0 .51 1 .51 2 .51 -1 .51 3.5 .52 .5 .51 1 .51 -.5 .51 0 .51 1.5 .51 1 .51 1.5 .51 -1.5 .52 2 .51 -.5 .51 3 .51 -4 .51 3 .51 -3 .51 1 .52 .5 .51 2 .51 -1 .51 -1.5 .51 1.5 .51 0 .51 .5 .51 -2.5 .52 2 .51 1 .51 -2.5 .51 1 .51 1.5 .51 0 .51 -1.5 .51 0 .52 -.5 .51 .5 .51 -.5 .51 1.5 .51 -1.5 .51 3.5 .51 -2.5 .51 1.5 .52 -1.5 .51 0 .51 2 .51 -1 .51 -.5 .51 1.5 .51 -4 .52 -1 .51 6.5 .51 -9 .51 4.5 .51 1 .51 -1.5 .51 0 .51 2.5 .52 -1 .51 -.5 .51 0 .51 0 .51 -.5 .51 2 .51 -2 .51 .5 .52 -.5 .51 -1.5 .51 1 .51 -3.5 .51 2.5 .51 1.5 .51 -2.5 .51 -.5 .52 2 .51 -1.5 .51 -.5 .51 -4 .51 2.5 .51 -.5 .51 1.5 .52 -3.5 .51 -1 .51 -1 .51 -.5 .51 -2.5 .51 -3 .51 -2 .51 -.5 .52 -7.5 .51 -2 .51 -5 .51 -3.5 .51 -5 .51 -3.5 .51 -2 .51 .5 .52 0 .51 1.5 .51 2 .51 1.5 .51 3 .51 4.5 .51 .5 .51 4.5 .52 3.5 .51 3 .51 0 .51 6.5 .51 2 .51 3.5 .51 -.5 .52 2 .51 1 .51 2 .51 -1 .51 2 .51 0 .51 -3 .51 5 .52 .5 .51 0 .51 -.5 .51 3 .51 -2.5 .51 -1.5 .51 2.5 .51 2.5 .52 -1 .51 0 .51 -.5 .51 1 .51 -5.5 .51 5.5 .51 -1 .51 1 .52 2.5 .51 -2.5 .51 3 .51 -4 .51 1.5 .51 .5 .51 2.5 .52 -3 .51 -.5 .51 -.5 .51 2.5 .51 -2.5 .51 2 .51 -2 .51 .5 .52 1 .51 -.5 .51 1.5 .51 -2.5 .51 -2 .51 2.5 .51 1.5 .51 2 .52 -4.5 .51 0 .51 1.5 .51 1 .51 -.5 .51 1.5 .51 2 .51 -4.5 .52 .5 .51 1.5 .51 -2 .51 -3 .51 4.5 .51 .5 .51 -2 .51 -1 .52 2 .51 1 .51 .5 .51 -2.5 .51 1 .51 5 .51 -4.5 .52 -1.5 .51 1.5 .51 0 .51 -3 .51 2.5 .51 -1 .51 2.5 .51 -.5 .52 1.5 .51 2 .51 -4 .51 -.5 .51 -.5 .51 -.5 .51 2 .51 -4.5 .52 4.5 .51 .5 .51 -1.5 .51 1 .51 -1 .51 -.5 .51 .5 .51 1.5 .52 -.5 .51 -4 .51 4.5 .51 -2 .51 10 .51 -9.5 .51 0 .52 .5 .51 -.5 .51 .5 .51 -.5 .51 -2.5 .51 4 .51 -1 .51 -.5 .52 -.5 .51 2 .51 -2.5 .51 2 .51 -1.5 .51 .5 .51 -.5 .51 -1 .52 1 .51 1 .51 1.5 .51 -3 .51 3 .51 -3 .51 5.5 .51 -3.5 .52 1 .51 -1.5 .51 -2 .51 0 .51 1.5 .51 0 .51 .5 .52 -.5 .51 -.5 .51 2 .51 -1 .51 -1 .51 -.5 .51 -.5 .51 0 .52 2 .51 -4.5 .51 4 .51 2 .51 -4 .51 1.5 .51 2 .51 -1.5 .52 -2.5 .51 3.5 .51 -4 .51 .5 .51 1 .51 .5 .51 1.5 .51 -4.5 .52 -2.5 .51 2 .51 3 .51 0 .51 0 .51 -3.5 .51 2 .52 2.5 .51 -2 .51 1 .51 1 .51 -2 .51 .5 .51 1 .51 -7.5 .52 -1.5 .51 7.5 .51 -2 .51 -1 .51 0 .51 .5 .51 -3 .51 -2.5 .52 2 .51 -2 .51 -1 .51 -3 .51 0 .51 -2.5 .51 6.5 .51 -6 .52 -1 .51 0 .51 .5 .51 .5 .51 -1 .51 2 .51 1 .52 3 .51 1 .51 -1 .51 2.5 .51 -.5 .51 5.5 .51 -2 .51 0 .52 0 .51 2.5 .51 -1 .51 2 .51 -1.5 .51 0 .51 -1 .51 2 .52 .5 .51 -2 .51 2 .51 -.5 .51 -2 .51 5.5 .51 -4 .51 0 .52 3.5 .51 -2 .51 -3.5 .51 3 .51 -1.5 .51 1.5 .51 1 .52 -.5 .51 -2.5 .51 2.5 .51 .5 .51 -.5 .51 -1.5 .51 0 .51 2 .52 1 .51 -.5 .51 -2 .51 -1 .51 2.5 .51 0 .51 -1 .51 1 .52 -1 .51 .5 .51 -1 .51 1 .51 -2.5 .51 .5 .51 1.5 .51 -1 .52 .5 .51 -1 .51 .5 .51 .5 .51 0 .51 -2 .51 1 .52 -2.5 .51 -.5 .51 0 .51 -.5 .51 3.5 .51 -4.5 .51 -1 .51 .5 .52 -3 .51 1.5 .51 -2.5 .51 3 .51 -6 .51 1 .51 -5.5 .51 -1.5 .52 -6 .51 -3 .51 -4 .51 -3.5 .51 -4.5 .51 -4 .51 -4 .51 -1.5 .52 1 .51 .5 .51 2 .51 0 .51 3 .51 3.5 .51 -.5 .52 4.5 .51 3.5 .51 3.5 .51 5 .51 .5 .51 4 .51 2 .51 6 .52 -3 .51 5 .51 -1 .51 2 .51 -.5 .51 3.5 .51 -1 .51 1 .52 1 .51 1 .51 1 .51 1 .51 .5 .51 -1.5 .51 0 .51 .5 .52 -.5 .51 2.5 .51 -2.5 .51 2 .51 -.5 .51 .5 .51 -1 .52 -.5 .51 -2 .51 3 .51 .5 .51 -2 .51 0 .51 -.5 .51 2 .52 1.5 .51 0 .51 -2.5 .51 .5 .51 .5 .51 0 .51 -2.5 .51 1.5 .52 -1 .51 1.5 .51 4 .51 -3.5 .51 1 .51 -.5 .51 .5 .51 0 .52 -.5 .51 1 .51 -.5 .51 1 .51 -.5 .51 -1 .51 -.5 .52 6 .51 -5 .51 0 .51 0 .51 -1 .51 -.5 .51 0 .51 3 .52 -5 .51 1.5 .51 -3.5 .51 6 .51 0 .51 -2 .51 2 .51 -8 .52 5 .51 1 .51 -2.5 .51 9 .51 -7 .51 0 .51 .5 .51 4.5 .52 -2.5 .51 0 .51 -1 .51 7 .51 -7 .51 2 .51 -1 .52 -1.5 .51 .5 .51 1 .51 -1 .51 1.5 .51 -1.5 .51 -1.5 .51 0 .52 1.5 .51 -2 .51 -.5 .51 3.5 .51 -1.5 .51 -1 .51 2 .51 .5 .52 0L953.01 570.5Z"/><path fill="none" stroke-miterlimit="40" d="M41.38 511.5l.51 -8 .51 -8.5 .51 -10.5 .51 -12.5 .51 -14 .51 -12 .51 -3 .52 4 .51 6.5 .51 10.5 .51 13 .51 11.5 .51 9.5M42.91 484.5l.51 -12.5 .51 -14 .51 -12 .51 -3 .52 4 .51 6.5 .51 10.5 .51 13 .51 11.5 .51 9.5 .51 8 .52 8M225.95 526.0l.51 -4.5 .51 -5 .52 -3.5 .51 -6 .51 -5.5 .51 -6 .51 -4.5 .51 -5.5 .51 .5 .51 2 .52 2.5 .51 3.5 .51 4.5 .51 6.5 .51 4.5 .51 6M227.49 513.0l.51 -6 .51 -5.5 .51 -6 .51 -4.5 .51 -5.5 .51 .5 .51 2 .52 2.5 .51 3.5 .51 4.5 .51 6.5 .51 4.5 .51 6M445.29 501.5l.52 -9 .51 -11 .51 -12 .51 -11.5 .51 -11.5 .51 -10.5 .51 -7.5 .52 -2.5 .51 0 .51 3.5 .51 5 .51 8 .51 9 .51 10.5 .51 11 .52 11M446.83 469.5l.51 -11.5 .51 -11.5 .51 -10.5 .51 -7.5 .52 -2.5 .51 0 .51 3.5 .51 5 .51 8 .51 9 .51 10.5 .51 11 .52 11M627.31 522.0l.52 -5.5 .51 -4.5 .51 -5.5 .51 -6.5 .51 -6 .51 -5.5 .51 -5 .51 -3 .52 1.5 .51 .5 .51 1.5 .51 3 .51 4 .51 3.5 .51 5 .51 6.5M629.36 500.0l.51 -6 .51 -5.5 .51 -5 .51 -3 .52 1.5 .51 .5 .51 1.5 .51 3 .51 4 .51 3.5 .51 5 .51 6.5M737.75 532.5l.51 -.5 .52 -7.5 .51 -2 .51 -5 .51 -3.5 .51 -5 .51 -3.5 .51 -2 .51 .5 .52 0 .51 1.5 .51 2 .51 1.5 .51 3 .51 4.5 .51 .5M740.31 514.0l.51 -5 .51 -3.5 .51 -2 .51 .5 .52 0 .51 1.5 .51 2 .51 1.5 .51 3 .51 4.5 .51 .5M889.09 530.0l.52 -6 .51 -3 .51 -4 .51 -3.5 .51 -4.5 .51 -4 .51 -4 .51 -1.5 .52 1 .51 .5 .51 2 .51 0 .51 3 .51 3.5 .51 -.5 .52 4.5M891.65 509.0l.51 -4 .51 -4 .51 -1.5 .52 1 .51 .5 .51 2 .51 0 .51 3 .51 3.5 .51 -.5 .52 4.5"/><path fill="#00E1FF" d="M15.30 611.0L15.30 576.5l.51 0 .51 2 .51 -.5 .52 2 .51 -2 .51 0 .51 3.5 .51 -6 .51 2 .51 -1 .51 -.5 .52 1.5 .51 0 .51 2 .51 11 .51 -13 .51 -1 .51 1 .51 -2 .52 4.5 .51 -2 .51 -1.5 .51 1 .51 -1.5 .51 2.5 .51 -2 .51 -7.5 .52 8.5 .51 1 .51 -4 .51 1 .51 4.5 .51 -3 .51 -1 .52 1 .51 -2 .51 -1.5 .51 1.5 .51 -2 .51 2 .51 -5 .51 3 .52 -1 .51 -2.5 .51 -2 .51 -2 .51 -3 .51 -3 .51 -6.5 .51 -5.5 .52 -8.5 .51 -12 .51 -11.5 .51 -13 .51 -10 .51 -1 .51 5 .51 5.5 .52 10 .51 12 .51 10.5 .51 9.5 .51 8 .51 9 .51 2 .52 3 .51 2 .51 2 .51 7.5 .51 -4 .51 -1.5 .51 0 .51 -2.5 .52 6.5 .51 -1 .51 1.5 .51 2.5 .51 -2 .51 3.5 .51 .5 .51 -3 .52 .5 .51 2.5 .51 -6 .51 5 .51 1 .51 0 .51 -5.5 .51 5 .52 4 .51 -3.5 .51 -1.5 .51 0 .51 -1 .51 0 .51 0 .52 3.5 .51 -3 .51 2 .51 -1 .51 -3 .51 4.5 .51 1 .51 1.5 .52 -4.5 .51 1.5 .51 0 .51 -.5 .51 1 .51 0 .51 -1.5 .51 3 .52 -4.5 .51 1 .51 2.5 .51 -1 .51 -1.5 .51 -.5 .51 4 .51 -2 .52 .5 .51 -1.5 .51 1.5 .51 -.5 .51 .5 .51 .5 .51 0 .52 -2 .51 1 .51 1.5 .51 -1 .51 0 .51 6 .51 7.5 .51 -15 .52 1.5 .51 -1 .51 2.5 .51 -1.5 .51 -.5 .51 -2 .51 2 .51 .5 .52 -1 .51 2.5 .51 -5 .51 4 .51 -2 .51 4 .51 -3 .51 2 .52 0 .51 10 .51 -11.5 .51 -2 .51 3 .51 -1 .51 .5 .52 .5 .51 -1.5 .51 2 .51 -6.5 .51 6.5 .51 0 .51 2.5 .51 -3.5 .52 2.5 .51 5 .51 -8.5 .51 1.5 .51 0 .51 .5 .51 0 .51 -.5 .52 -6 .51 8 .51 -1 .51 -2.5 .51 -.5 .51 3 .51 0 .51 -1 .52 -1.5 .51 3 .51 -2 .51 -3 .51 9.5 .51 -2.5 .51 -3 .52 0 .51 2.5 .51 -1.5 .51 -.5 .51 0 .51 0 .51 -1 .51 -2 .52 8.5 .51 -4 .51 1 .51 -1.5 .51 -1 .51 -4 .51 4 .51 -1 .52 1 .51 -1.5 .51 -1 .51 2.5 .51 -5 .51 4 .51 1 .51 .5 .52 -4 .51 4 .51 -1.5 .51 0 .51 0 .51 .5 .51 1.5 .52 2 .51 -3 .51 2.5 .51 -3.5 .51 -1 .51 .5 .51 1.5 .51 1 .52 -1.5 .51 .5 .51 1.5 .51 -2 .51 -1 .51 3 .51 -2.5 .51 0 .52 -1.5 .51 -.5 .51 0 .51 -5 .51 3.5 .51 -1 .51 -1 .51 -3 .52 3.5 .51 -2 .51 -2 .51 -1 .51 3.5 .51 0 .51 -1.5 .52 1.5 .51 3.5 .51 -2.5 .51 1 .51 1 .51 2 .51 -.5 .51 -6.5 .52 11.5 .51 -4 .51 .5 .51 2.5 .51 -.5 .51 -.5 .51 -.5 .51 -1 .52 12 .51 -9.5 .51 1.5 .51 -1.5 .51 -10.5 .51 11.5 .51 -1.5 .51 2 .52 .5 .51 -3 .51 0 .51 -2.5 .51 4 .51 -2 .51 -2 .52 4 .51 -1.5 .51 -2 .51 6.5 .51 -3.5 .51 .5 .51 -1.5 .51 5.5 .52 -4.5 .51 -1 .51 2 .51 -1 .51 -.5 .51 1 .51 -4.5 .51 2 .52 5.5 .51 -3.5 .51 -.5 .51 2 .51 -2.5 .51 1.5 .51 -1 .51 .5 .52 -1.5 .51 2 .51 0 .51 0 .51 -1.5 .51 -1 .51 2.5 .52 -.5 .51 .5 .51 1 .51 -3.5 .51 -8.5 .51 10.5 .51 0 .51 2 .52 -1.5 .51 -2.5 .51 1 .51 2 .51 1.5 .51 1.5 .51 -4 .51 .5 .52 -4 .51 3.5 .51 1.5 .51 -2 .51 3 .51 -1.5 .51 -.5 .51 1.5 .52 -1.5 .51 -1 .51 5.5 .51 -4 .51 0 .51 -.5 .51 0 .52 1 .51 -.5 .51 -2 .51 5 .51 -5 .51 2.5 .51 4.5 .51 -3 .52 -1 .51 -1 .51 -1 .51 2.5 .51 -1.5 .51 -1.5 .51 .5 .51 3.5 .52 -2 .51 .5 .51 -4 .51 3 .51 -1.5 .51 0 .51 2 .51 -1.5 .52 .5 .51 .5 .51 -.5 .51 -2.5 .51 2.5 .51 0 .51 11 .52 -11 .51 1 .51 -5.5 .51 6 .51 -1 .51 -1 .51 2 .51 -1 .52 .5 .51 -4 .51 3.5 .51 0 .51 -1.5 .51 -1.5 .51 2 .51 -1.5 .52 -1.5 .51 1.5 .51 0 .51 1 .51 -4 .51 2 .51 2.5 .51 -2.5 .52 -1 .51 -1.5 .51 0 .51 2 .51 -3 .51 -2 .51 -.5 .52 -2.5 .51 -3 .51 -2.5 .51 -1 .51 -4.5 .51 -8 .51 -5 .51 -4.5 .52 -7.5 .51 -5 .51 -5.5 .51 -3 .51 1 .51 1 .51 3 .51 5.5 .52 5 .51 6.5 .51 5 .51 5 .51 6 .51 4 .51 1.5 .51 3.5 .52 2 .51 3.5 .51 1 .51 2.5 .51 0 .51 -1 .51 1 .52 2.5 .51 0 .51 1.5 .51 -1 .51 1.5 .51 -.5 .51 -1.5 .51 3.5 .52 -5.5 .51 5 .51 0 .51 -1 .51 -.5 .51 2 .51 -1.5 .51 -1.5 .52 3.5 .51 0 .51 -2.5 .51 4 .51 -1.5 .51 -2.5 .51 2 .51 6 .52 -6 .51 1.5 .51 -3 .51 2.5 .51 -2 .51 2.5 .51 -1.5 .52 0 .51 -1 .51 1 .51 2 .51 3 .51 -4 .51 -1.5 .51 1 .52 -1.5 .51 1.5 .51 .5 .51 -.5 .51 0 .51 0 .51 -.5 .51 1 .52 0 .51 -1 .51 1.5 .51 -4.5 .51 3.5 .51 4 .51 -.5 .51 -4.5 .52 0 .51 1.5 .51 -.5 .51 -1.5 .51 1 .51 .5 .51 -1 .51 -1 .52 2.5 .51 -1 .51 -2.5 .51 3 .51 0 .51 -.5 .51 0 .52 -3 .51 -.5 .51 3 .51 .5 .51 -.5 .51 2 .51 -2 .51 -1.5 .52 2.5 .51 -1 .51 0 .51 2.5 .51 -4 .51 0 .51 .5 .51 -1 .52 .5 .51 1 .51 .5 .51 0 .51 0 .51 -1 .51 -.5 .51 -.5 .52 1.5 .51 -3.5 .51 2.5 .51 -.5 .51 -.5 .51 -1.5 .51 -1.5 .52 .5 .51 0 .51 1 .51 -1.5 .51 0 .51 -1 .51 .5 .51 -1 .52 -2.5 .51 -.5 .51 1 .51 -3 .51 0 .51 -2 .51 -2 .51 -3 .52 -3 .51 -5.5 .51 -4.5 .51 -8 .51 -12 .51 -14 .51 -18 .51 -24 .52 -26 .51 -31.5 .51 -36.5 .51 -39.5 .51 -41.5 .51 -41.5 .51 -38.5 .52 -31.5 .51 -21.5 .51 -8.5 .51 6 .51 19 .51 31 .51 37.5 .51 41 .52 42 .51 40 .51 36.5 .51 33 .51 28.5 .51 23 .51 19.5 .51 14 .52 10.5 .51 14.5 .51 1 .51 8.5 .51 -.5 .51 4 .51 1 .51 3.5 .52 -.5 .51 1.5 .51 3 .51 0 .51 1 .51 -2 .51 .5 .52 3.5 .51 -2 .51 1 .51 -1.5 .51 6 .51 -3 .51 -.5 .51 1 .52 0 .51 2.5 .51 -1 .51 1 .51 -2 .51 .5 .51 1 .51 1 .52 0 .51 0 .51 -2.5 .51 2 .51 -.5 .51 -.5 .51 .5 .51 0 .52 -.5 .51 .5 .51 0 .51 1 .51 -1.5 .51 0 .51 1.5 .52 -1.5 .51 2 .51 -1 .51 -1.5 .51 -.5 .51 2 .51 -2.5 .51 -.5 .52 0 .51 1.5 .51 -2.5 .51 1 .51 1 .51 .5 .51 -1 .51 1.5 .52 2 .51 -3 .51 2 .51 .5 .51 .5 .51 .5 .51 0 .51 -.5 .52 1 .51 .5 .51 1.5 .51 -2.5 .51 -.5 .51 1 .51 -3 .52 2 .51 .5 .51 0 .51 2 .51 11 .51 -11.5 .51 -1 .51 3.5 .52 -2.5 .51 10 .51 -9.5 .51 -.5 .51 0 .51 -.5 .51 2 .51 -2 .52 2 .51 -4 .51 1.5 .51 2 .51 -1.5 .51 4 .51 -5 .51 3 .52 -11.5 .51 12.5 .51 -5 .51 2.5 .51 5.5 .51 -6 .51 .5 .52 -2 .51 5 .51 -2.5 .51 1.5 .51 0 .51 -2 .51 1 .51 1.5 .52 -2.5 .51 1.5 .51 -1 .51 -1 .51 1 .51 2 .51 -3 .51 .5 .52 3.5 .51 -3.5 .51 -2.5 .51 2.5 .51 .5 .51 0 .51 .5 .51 0 .52 -3 .51 3 .51 0 .51 0 .51 -1 .51 1.5 .51 -1.5 .52 .5 .51 -2.5 .51 3.5 .51 -1.5 .51 1.5 .51 -1.5 .51 .5 .51 -1 .52 1.5 .51 1.5 .51 0 .51 7 .51 -7.5 .51 -1 .51 .5 .51 -3.5 .52 1.5 .51 2 .51 -.5 .51 -1.5 .51 1 .51 -5.5 .51 5.5 .51 .5 .52 -3.5 .51 5.5 .51 -2 .51 1 .51 0 .51 .5 .51 0 .52 -1 .51 0 .51 0 .51 -.5 .51 0 .51 .5 .51 -1 .51 -1 .52 2 .51 2 .51 -4.5 .51 1 .51 1 .51 5 .51 -3 .51 -1 .52 -2 .51 .5 .51 -2.5 .51 4 .51 -1 .51 .5 .51 -1 .51 1 .52 -1 .51 -1 .51 .5 .51 -.5 .51 2.5 .51 -1.5 .51 1 .52 -1.5 .51 2 .51 -2 .51 2.5 .51 -4 .51 3 .51 -1 .51 -1 .52 .5 .51 0 .51 -1 .51 1 .51 2.5 .51 -1.5 .51 -1 .51 -1 .52 -1 .51 2 .51 -2 .51 1 .51 -1 .51 2 .51 .5 .51 -1.5 .52 1.5 .51 -2 .51 .5 .51 -1.5 .51 9 .51 -8.5 .51 -1.5 .52 2 .51 -2 .51 -.5 .51 -1 .51 1.5 .51 -2 .51 -3 .51 3 .52 -.5 .51 -3 .51 -1.5 .51 1 .51 -1 .51 -4 .51 -1.5 .51 -3.5 .52 -4.5 .51 -5 .51 -6.5 .51 -9 .51 -8.5 .51 -10 .51 -11.5 .51 -12 .52 -13 .51 -8.5 .51 -9 .51 -3.5 .51 -.5 .51 2.5 .51 6.5 .52 6 .51 10.5 .51 10.5 .51 10.5 .51 10.5 .51 10 .51 8.5 .51 9 .52 5.5 .51 7.5 .51 3.5 .51 4 .51 1 .51 4 .51 2.5 .51 .5 .52 .5 .51 0 .51 1.5 .51 1 .51 1 .51 2.5 .51 -3 .51 4 .52 -2 .51 -2 .51 4 .51 -4.5 .51 4.5 .51 -1 .51 .5 .52 1.5 .51 -2 .51 2 .51 -2 .51 2 .51 4.5 .51 -6.5 .51 0 .52 2 .51 .5 .51 -1.5 .51 2.5 .51 1.5 .51 -2.5 .51 -1 .51 .5 .52 .5 .51 -1 .51 2 .51 0 .51 .5 .51 -4.5 .51 2 .51 1 .52 -.5 .51 1 .51 1.5 .51 -.5 .51 -.5 .51 -1.5 .51 0 .52 1.5 .51 .5 .51 0 .51 -1.5 .51 -.5 .51 -.5 .51 1 .51 -1 .52 1 .51 0 .51 0 .51 0 .51 .5 .51 1 .51 -2 .51 1 .52 -.5 .51 1 .51 0 .51 -1 .51 0 .51 -4 .51 3 .51 -1 .52 1.5 .51 -.5 .51 .5 .51 1 .51 -1.5 .51 2 .51 1 .52 -4.5 .51 2 .51 -1 .51 4 .51 -2.5 .51 -1 .51 .5 .51 4 .52 -4.5 .51 -3.5 .51 3.5 .51 -2 .51 1.5 .51 0 .51 -3 .51 2 .52 -1.5 .51 -1 .51 -.5 .51 1 .51 -1.5 .51 -1 .51 -.5 .51 -2.5 .52 0 .51 -2 .51 .5 .51 -1 .51 -2 .51 -1 .51 1 .52 1.5 .51 -1.5 .51 0 .51 1 .51 2 .51 -4 .51 3 .51 3 .52 2.5 .51 1 .51 0 .51 1.5 .51 .5 .51 0 .51 -.5 .51 4 .52 -3 .51 2 .51 -.5 .51 .5 .51 1 .51 -.5 .51 2 .51 0 .52 -.5 .51 2 .51 -3.5 .51 2 .51 -1 .51 -1 .51 0 .52 2 .51 1 .51 -1 .51 -.5 .51 .5 .51 0 .51 -1.5 .51 3.5 .52 -3.5 .51 1.5 .51 -1 .51 2 .51 -2 .51 3.5 .51 -2 .51 -1.5 .52 1.5 .51 2.5 .51 -2.5 .51 .5 .51 -2 .51 2 .51 -1.5 .51 2 .52 -2.5 .51 3 .51 1.5 .51 -5 .51 4 .51 -1.5 .51 0 .52 -2.5 .51 1.5 .51 -1.5 .51 3 .51 -1 .51 .5 .51 -6.5 .51 7 .52 -2.5 .51 2 .51 -1 .51 -3 .51 8 .51 -4 .51 1.5 .51 -2 .52 1 .51 .5 .51 -1.5 .51 .5 .51 -2 .51 0 .51 .5 .51 1 .52 1.5 .51 -1.5 .51 -.5 .51 1.5 .51 -2.5 .51 2.5 .51 -1.5 .52 1 .51 -1 .51 1 .51 1.5 .51 -1 .51 6 .51 -7.5 .51 3.5 .52 -4 .51 1 .51 1 .51 1 .51 -2 .51 -.5 .51 4 .51 -3 .52 -1 .51 .5 .51 0 .51 1 .51 -.5 .51 -.5 .51 2.5 .51 -1 .52 -1 .51 -2.5 .51 2.5 .51 2.5 .51 -3.5 .51 -1 .51 1.5 .52 .5 .51 -1 .51 2 .51 -3.5 .51 -2 .51 5 .51 .5 .51 -1 .52 -2.5 .51 4.5 .51 -3 .51 1.5 .51 -.5 .51 1 .51 1 .51 -2 .52 -.5 .51 2 .51 -2 .51 0 .51 -3 .51 3 .51 -1.5 .51 4 .52 -2.5 .51 -.5 .51 .5 .51 .5 .51 2.5 .51 -4 .51 7 .52 -5.5 .51 0 .51 -1.5 .51 2 .51 0 .51 0 .51 -.5 .51 -2 .52 1.5 .51 3.5 .51 -1 .51 -2.5 .51 0 .51 -1 .51 .5 .51 2 .52 .5 .51 -3.5 .51 .5 .51 .5 .51 1.5 .51 1 .51 -4.5 .51 4.5 .52 -2 .51 -.5 .51 0 .51 -.5 .51 -1.5 .51 1.5 .51 .5 .52 1 .51 -1 .51 .5 .51 .5 .51 -2 .51 -.5 .51 3 .51 -1 .52 -1.5 .51 1 .51 -.5 .51 -2 .51 1.5 .51 2 .51 -6 .51 3.5 .52 -2 .51 -3 .51 1.5 .51 1 .51 -.5 .51 1 .51 -1.5 .51 -1 .52 -1.5 .51 1 .51 -3 .51 -1 .51 -3.5 .51 2.5 .51 -6.5 .52 1.5 .51 -5.5 .51 -2.5 .51 -3.5 .51 -6.5 .51 -3 .51 -6 .51 -5.5 .52 -5.5 .51 -5 .51 -1.5 .51 -2 .51 1.5 .51 2 .51 2.5 .51 2.5 .52 4 .51 4 .51 5 .51 4.5 .51 3.5 .51 6 .51 4 .51 3.5 .52 2.5 .51 2.5 .51 2 .51 -1 .51 4.5 .51 1 .51 5 .52 -2.5 .51 -4.5 .51 6.5 .51 -1 .51 -3.5 .51 5 .51 2.5 .51 -.5 .52 -2 .51 2 .51 0 .51 2.5 .51 .5 .51 -4 .51 .5 .51 2 .52 0 .51 0 .51 -2 .51 1 .51 1 .51 2 .51 -1.5 .51 -1 .52 1 .51 .5 .51 -.5 .51 0 .51 3 .51 -4 .51 2 .52 -1.5 .51 -2.5 .51 3.5 .51 -1 .51 0 .51 -1.5 .51 1 .51 1 .52 -1.5 .51 2 .51 -1.5 .51 -.5 .51 1 .51 5 .51 -4.5 .51 2.5 .52 -3 .51 -1 .51 .5 .51 1 .51 -.5 .51 6 .51 -6 .51 -.5 .52 1 .51 -.5 .51 3.5 .51 0 .51 -3.5 .51 -2 .51 2.5 .52 0 .51 0 .51 -.5 .51 0 .51 8 .51 -7.5 .51 -4 .51 1 .52 .5 .51 -.5 .51 -2 .51 2 .51 -2.5 .51 2 .51 -3 .51 0 .52 .5 .51 -.5 .51 -1.5 .51 -4 .51 1.5 .51 -2.5 .51 -1 .51 -2 .52 -1.5 .51 -2.5 .51 -1 .51 -1 .51 .5 .51 -3 .51 1 .52 -.5 .51 .5 .51 1.5 .51 0 .51 2 .51 1 .51 1.5 .51 -.5 .52 4 .51 2 .51 1 .51 1 .51 1.5 .51 6 .51 -5 .51 2.5 .52 1.5 .51 -1 .51 0 .51 1 .51 -.5 .51 1.5 .51 1 .51 .5 .52 1 .51 -2 .51 1 .51 0 .51 -2 .51 2 .51 .5 .52 .5 .51 8.5 .51 -9 .51 1.5 .51 -8 .51 6 .51 2.5 .51 -2 .52 2 .51 1 .51 -2 .51 -.5 .51 -.5 .51 -3 .51 4.5 .51 .5 .52 -1 .51 -2.5 .51 3.5 .51 .5 .51 6 .51 -8 .51 -1.5 .51 2.5 .52 2 .51 -1.5 .51 1 .51 1 .51 -3 .51 0 .51 1 .52 0 .51 1 .51 -2 .51 0 .51 -1 .51 2.5 .51 1 .51 -3 .52 -1.5 .51 -4 .51 5 .51 .5 .51 0 .51 .5 .51 -4 .51 2 .52 -.5 .51 -2 .51 3 .51 -1.5 .51 0 .51 -1.5 .51 -1.5 .51 1.5 .52 -1 .51 -2.5 .51 1.5 .51 -4.5 .51 -.5 .51 -1 .51 -3 .52 -2 .51 -5 .51 0 .51 -5.5 .51 -3 .51 -4.5 .51 -5 .51 -5 .52 -4.5 .51 -2.5 .51 -4 .51 3 .51 2.5 .51 0 .51 5 .51 .5 .52 3 .51 3.5 .51 4.5 .51 4 .51 4 .51 3.5 .51 5 .51 0 .52 2 .51 2.5 .51 1.5 .51 4 .51 1 .51 1.5 .51 -.5 .52 0 .51 7.5 .51 -5.5 .51 1 .51 -.5 .51 1 .51 -1.5 .51 3.5 .52 -1 .51 .5 .51 .5 .51 .5 .51 -1.5 .51 1.5 .51 -.5 .51 1.5 .52 -1.5 .51 -1 .51 2 .51 .5 .51 1 .51 -2 .51 1 .51 0 .52 -1 .51 -1 .51 0 .51 4 .51 -2.5 .51 -2 .51 2 .52 .5 .51 .5 .51 -.5 .51 .5 .51 0 .51 2 .51 -.5 .51 4 .52 -10.5 .51 5.5 .51 -.5 .51 -.5 .51 1 .51 -.5 .51 2 .51 -2.5 .52 -1 .51 1 .51 .5 .51 .5 .51 -2 .51 1 .51 0 .51 1 .52 .5 .51 -1 .51 .5 .51 0 .51 -2.5 .51 2 .51 .5 .51 .5 .52 .5 .51 -1 .51 0 .51 0 .51 -6 .51 7 .51 -.5 .52 0 .51 -3 .51 3 .51 -2 .51 -1 .51 1.5 .51 -.5 .51 1 .52 .5 .51 -4 .51 .5 .51 1 .51 2.5 .51 0 .51 -1 .51 2 .52 1.5 .51 -2 .51 -5 .51 4 .51 -.5 .51 2.5 .51 -3 .51 .5 .52 .5 .51 2 .51 -1.5 .51 .5 .51 -3.5 .51 4 .51 0 .52 -.5 .51 0 .51 -.5 .51 0 .51 -1.5 .51 3.5 .51 -4.5 .51 1 .52 1 .51 0 .51 -1 .51 3.5 .51 -2.5 .51 -.5 .51 1.5 .51 -3 .52 3.5 .51 1.5 .51 -2 .51 .5 .51 -10.5 .51 7.5 .51 2.5 .51 0 .52 -1 .51 .5 .51 2 .51 -1 .51 0 .51 -6 .51 2 .52 2 .51 1.5 .51 -1.5 .51 -1 .51 3.5 .51 -2.5 .51 4 .51 -12 .52 10.5 .51 -.5 .51 .5 .51 -2 .51 0 .51 0 .51 1.5 .51 -2.5 .52 3.5 .51 -2 .51 -7 .51 6 .51 -1 .51 1.5 .51 -6 .51 6 .52 -1.5 .51 -.5 .51 6 .51 -6.5 .51 2.5 .51 -2 .51 -2 .52 .5 .51 1 .51 -1.5 .51 -1 .51 1.5 .51 -1.5 .51 -1 .51 .5 .52 -2.5 .51 -2.5 .51 -1 .51 0 .51 -1.5 .51 -1.5 .51 -1.5 .51 -.5 .52 -1.5 .51 .5 .51 0 .51 -1 .51 2.5 .51 .5 .51 3.5 .51 -6 .52 4 .51 1.5 .51 3.5 .51 1 .51 .5 .51 0 .51 -1 .52 4 .51 .5 .51 1 .51 -2 .51 1 .51 0 .51 2 .51 -.5 .52 1 .51 0 .51 1.5 .51 -4 .51 2.5 .51 1 .51 .5 .51 -2.5 .52 1.5 .51 .5 .51 0 .51 -2.5 .51 0 .51 1 .51 -1.5 .51 2.5 .52 -.5 .51 -1.5 .51 -.5 .51 1.5 .51 1 .51 0 .51 1 .52 -.5 .51 -1 .51 3 .51 -2 .51 -.5 .51 0 .51 -2 .51 2.5 .52 0 .51 -2.5 .51 .5 .51 2 .51 .5 .51 -2 .51 -1 .51 1.5 .52 -2.5 .51 3.5 .51 1 .51 -3.5 .51 1 .51 -4.5 .51 3 .51 1.5 .52 -1 .51 -7.5 .51 7 .51 -.5 .51 1 .51 -2.5 .51 -2 .52 2.5 .51 -2.5 .51 -.5 .51 0 .51 -3 .51 2 .51 -2.5 .51 -.5 .52 -1.5 .51 -2 .51 -4.5 .51 -4 .51 -2.5 .51 -4.5 .51 -4 .51 -3 .52 -5 .51 -3.5 .51 -1.5 .51 -1 .51 2 .51 1.5 .51 1 .51 1.5 .52 1 .51 3.5 .51 2 .51 3 .51 3.5 .51 2.5 .51 4 .52 6 .51 -1 .51 4 .51 1.5 .51 .5 .51 1 .51 -1.5 .51 5.5 .52 0 .51 -1 .51 2 .51 -.5 .51 2.5 .51 0 .51 -1.5 .51 3 .52 -2.5 .51 1.5 .51 1 .51 1 .51 -2.5 .51 1 .51 -2 .51 4 .52 -1 .51 2 .51 -2.5 .51 1 .51 -.5 .51 .5 .51 -.5 .52 .5 .51 1.5 .51 -2 .51 1.5 .51 -2 .51 .5 .51 .5 .51 1 .52 -1 .51 1.5 .51 0 .51 -.5 .51 -1 .51 -2.5 .51 3 .51 -1.5 .52 -2 .51 3.5 .51 1 .51 -2 .51 -.5 .51 2.5 .51 -1 .51 0 .52 1.5 .51 -1 .51 0 .51 .5 .51 -2.5 .51 5 .51 -6 .52 4.5 .51 -1.5 .51 -1.5 .51 2.5 .51 -6.5 .51 6 .51 -2 .51 1 .52 -.5 .51 -.5 .51 0 .51 .5 .51 .5 .51 .5 .51 -1 .51 3.5 .52 -1 .51 -1.5 .51 .5 .51 -.5 .51 5 .51 -3 .51 -3.5 .51 2 .52 6 .51 -6 .51 -1.5 .51 2.5 .51 -3.5 .51 -1 .51 4 .52 -4.5 .51 2 .51 2 .51 -1.5 .51 2.5 .51 -1.5 .51 0 .51 -.5 .52 1 .51 -.5 .51 -.5 .51 1.5 .51 2.5 .51 -5.5 .51 2 .51 0 .52 -3.5L953.01 611.0Z"/><path fill="none" stroke-miterlimit="40" d="M40.35 553.0l.51 -5.5 .52 -8.5 .51 -12 .51 -11.5 .51 -13 .51 -10 .51 -1 .51 5 .51 5.5 .52 10 .51 12 .51 10.5M41.89 527.0l.51 -11.5 .51 -13 .51 -10 .51 -1 .51 5 .51 5.5 .52 10 .51 12 .51 10.5 .51 9.5 .51 8 .51 9M224.93 567.0l.51 -4.5 .51 -8 .51 -5 .51 -4.5 .52 -7.5 .51 -5 .51 -5.5 .51 -3 .51 1 .51 1 .51 3 .51 5.5 .52 5 .51 6.5 .51 5 .51 5M226.46 549.5l.51 -4.5 .52 -7.5 .51 -5 .51 -5.5 .51 -3 .51 1 .51 1 .51 3 .51 5.5 .52 5 .51 6.5 .51 5 .51 5M443.76 535.0l.51 -10 .51 -11.5 .51 -12 .52 -13 .51 -8.5 .51 -9 .51 -3.5 .51 -.5 .51 2.5 .51 6.5 .52 6 .51 10.5 .51 10.5 .51 10.5 .51 10.5 .51 10M444.78 513.5l.51 -12 .52 -13 .51 -8.5 .51 -9 .51 -3.5 .51 -.5 .51 2.5 .51 6.5 .52 6 .51 10.5 .51 10.5 .51 10.5 .51 10.5 .51 10M625.27 562.0l.51 -6.5 .51 -3 .51 -6 .51 -5.5 .52 -5.5 .51 -5 .51 -1.5 .51 -2 .51 1.5 .51 2 .51 2.5 .51 2.5 .52 4 .51 4 .51 5 .51 4.5M626.80 546.5l.51 -5.5 .52 -5.5 .51 -5 .51 -1.5 .51 -2 .51 1.5 .51 2 .51 2.5 .51 2.5 .52 4 .51 4 .51 5 .51 4.5M682.02 577.5l.51 -1 .51 -2 .52 -1.5 .51 -2.5 .51 -1 .51 -1 .51 .5 .51 -3 .51 1 .52 -.5 .51 .5 .51 1.5 .51 0 .51 2 .51 1 .51 1.5M735.71 568.5l.51 -5.5 .51 -3 .51 -4.5 .51 -5 .51 -5 .52 -4.5 .51 -2.5 .51 -4 .51 3 .51 2.5 .51 0 .51 5 .51 .5 .52 3 .51 3.5 .51 4.5M737.75 550.5l.51 -5 .52 -4.5 .51 -2.5 .51 -4 .51 3 .51 2.5 .51 0 .51 5 .51 .5 .52 3 .51 3.5 .51 4.5M887.05 568.5l.51 -2.5 .51 -4.5 .51 -4 .51 -3 .52 -5 .51 -3.5 .51 -1.5 .51 -1 .51 2 .51 1.5 .51 1 .51 1.5 .52 1 .51 3.5 .51 2 .51 3M889.09 554.5l.52 -5 .51 -3.5 .51 -1.5 .51 -1 .51 2 .51 1.5 .51 1 .51 1.5 .52 1 .51 3.5 .51 2 .51 3"/><path fill="#00B6FF" d="M15.30 652.0L15.30 617.5l.51 -2 .51 4.5 .51 -1 .52 -.5 .51 .5 .51 1 .51 0 .51 -1 .51 -1.5 .51 3 .51 .5 .52 4.5 .51 -5 .51 1.5 .51 -3.5 .51 -5.5 .51 2.5 .51 3 .51 -1.5 .52 4.5 .51 -5 .51 14.5 .51 -18 .51 6.5 .51 0 .51 1 .51 -4 .52 .5 .51 1 .51 -1 .51 2.5 .51 -2 .51 2 .51 0 .52 -2.5 .51 0 .51 0 .51 -3.5 .51 1 .51 -1.5 .51 -4 .51 3 .52 -7 .51 3 .51 -5 .51 -1 .51 -5.5 .51 -7 .51 -9 .51 -11 .52 -12.5 .51 -11.5 .51 -10.5 .51 -2.5 .51 4.5 .51 6.5 .51 10 .51 12.5 .52 12 .51 7.5 .51 7.5 .51 5.5 .51 5 .51 3 .51 3 .52 3 .51 .5 .51 0 .51 2 .51 0 .51 3 .51 1.5 .51 -1.5 .52 0 .51 1.5 .51 0 .51 0 .51 2.5 .51 -3.5 .51 2.5 .51 0 .52 -1 .51 1 .51 -1 .51 .5 .51 1.5 .51 2 .51 -3.5 .51 1.5 .52 -2 .51 -10.5 .51 12.5 .51 2 .51 -2 .51 -3.5 .51 4.5 .52 2 .51 -4 .51 -2 .51 .5 .51 5.5 .51 -3 .51 0 .51 2 .52 .5 .51 -4 .51 3 .51 -2 .51 -.5 .51 8 .51 -2.5 .51 -1.5 .52 -3 .51 -1.5 .51 5 .51 -2 .51 -1.5 .51 -.5 .51 2 .51 -1 .52 6 .51 -5.5 .51 1.5 .51 -5.5 .51 4.5 .51 -.5 .51 .5 .52 4.5 .51 -6.5 .51 12 .51 -9 .51 -1.5 .51 .5 .51 0 .51 5 .52 -3.5 .51 -2 .51 .5 .51 -3 .51 2 .51 1 .51 -1 .51 2.5 .52 -1.5 .51 -1.5 .51 2.5 .51 0 .51 -.5 .51 1.5 .51 -2.5 .51 -1.5 .52 2 .51 .5 .51 .5 .51 -1.5 .51 2 .51 -2 .51 1.5 .52 -.5 .51 0 .51 -.5 .51 .5 .51 .5 .51 .5 .51 -3.5 .51 3 .52 -2.5 .51 2.5 .51 -1.5 .51 2.5 .51 .5 .51 -2 .51 .5 .51 2.5 .52 -1.5 .51 -1.5 .51 1.5 .51 -1 .51 .5 .51 2 .51 2 .51 -3.5 .52 .5 .51 -2 .51 1 .51 -1 .51 2 .51 -1 .51 -2.5 .52 2 .51 -.5 .51 -2.5 .51 1.5 .51 -2 .51 4 .51 1 .51 -2 .52 0 .51 -.5 .51 3 .51 -1 .51 3 .51 -1 .51 -2.5 .51 -1.5 .52 3 .51 -2 .51 1.5 .51 -.5 .51 -1.5 .51 1 .51 4 .51 -4.5 .52 -11.5 .51 17 .51 -5 .51 -.5 .51 -.5 .51 1.5 .51 -.5 .52 -6 .51 4.5 .51 0 .51 0 .51 .5 .51 1.5 .51 -2.5 .51 0 .52 .5 .51 -.5 .51 -.5 .51 -.5 .51 1 .51 -3.5 .51 1 .51 0 .52 1.5 .51 -2 .51 .5 .51 -1.5 .51 -1 .51 -6.5 .51 6 .51 -2 .52 -2 .51 2.5 .51 .5 .51 -1.5 .51 2 .51 .5 .51 1 .52 0 .51 2.5 .51 -1 .51 0 .51 1 .51 1.5 .51 1 .51 2 .52 -1 .51 -3 .51 4 .51 9 .51 -8.5 .51 -.5 .51 1 .51 -4 .52 2 .51 .5 .51 .5 .51 3.5 .51 -5 .51 0 .51 1 .51 -1 .52 4 .51 -5 .51 3.5 .51 -3 .51 -1 .51 4 .51 -2.5 .52 3.5 .51 4 .51 -6 .51 1.5 .51 1 .51 -4.5 .51 5 .51 -3.5 .52 .5 .51 2 .51 -1.5 .51 -2 .51 2.5 .51 -2 .51 2 .51 -.5 .52 2.5 .51 -2.5 .51 .5 .51 5 .51 -6 .51 3 .51 -1.5 .51 0 .52 -2 .51 2.5 .51 -1 .51 1 .51 .5 .51 -2 .51 1.5 .52 -1.5 .51 1 .51 -.5 .51 -2.5 .51 1.5 .51 1 .51 -1.5 .51 -1 .52 .5 .51 0 .51 1 .51 -.5 .51 1.5 .51 .5 .51 -1 .51 -2 .52 3.5 .51 -1 .51 2.5 .51 -2.5 .51 6 .51 -7 .51 .5 .51 .5 .52 5.5 .51 -4.5 .51 -1 .51 2.5 .51 -5 .51 2 .51 -2 .52 4.5 .51 -3.5 .51 .5 .51 0 .51 -.5 .51 2 .51 0 .51 3 .52 -6 .51 2 .51 2.5 .51 -1 .51 -1.5 .51 0 .51 2 .51 -4.5 .52 3 .51 0 .51 1 .51 2 .51 -2.5 .51 4 .51 -4.5 .51 1 .52 -5 .51 3.5 .51 3 .51 -1.5 .51 -1.5 .51 2 .51 -.5 .52 -1 .51 -1 .51 .5 .51 9.5 .51 -13 .51 3.5 .51 -2 .51 2.5 .52 -1.5 .51 1 .51 -.5 .51 0 .51 -.5 .51 -1 .51 1 .51 -2 .52 1.5 .51 -3.5 .51 2 .51 .5 .51 -.5 .51 -1 .51 -2 .51 .5 .52 -3 .51 2.5 .51 -4 .51 -3.5 .51 -1 .51 -8.5 .51 1.5 .52 -5 .51 -4 .51 -6.5 .51 -5.5 .51 -6 .51 -5.5 .51 -4 .51 -1.5 .52 3.5 .51 1 .51 4.5 .51 5.5 .51 4.5 .51 5.5 .51 3 .51 7 .52 4.5 .51 3 .51 4 .51 .5 .51 2 .51 -4 .51 8 .51 0 .52 1 .51 2 .51 1 .51 -.5 .51 -1 .51 -1 .51 5.5 .52 2 .51 -4.5 .51 3 .51 -1.5 .51 -.5 .51 -.5 .51 4 .51 -1.5 .52 -2 .51 -.5 .51 2 .51 -3 .51 3.5 .51 0 .51 -1 .51 1.5 .52 -1 .51 2.5 .51 -6 .51 7.5 .51 -3 .51 0 .51 .5 .51 -3.5 .52 4.5 .51 5.5 .51 -7 .51 -.5 .51 -3 .51 3.5 .51 -1.5 .52 -5 .51 6 .51 -1.5 .51 6 .51 -5 .51 0 .51 2.5 .51 -.5 .52 -.5 .51 -1.5 .51 2 .51 .5 .51 -2 .51 3.5 .51 -3 .51 .5 .52 1 .51 .5 .51 -2.5 .51 -.5 .51 2 .51 .5 .51 -1 .51 .5 .52 -.5 .51 1 .51 -1 .51 .5 .51 0 .51 -3 .51 .5 .51 2.5 .52 -4 .51 4.5 .51 -3 .51 -2 .51 -.5 .51 5.5 .51 -2 .52 -1 .51 3 .51 -1.5 .51 -10.5 .51 10 .51 .5 .51 .5 .51 -1 .52 -1.5 .51 1.5 .51 -1 .51 0 .51 0 .51 -.5 .51 4 .51 -4.5 .52 -1 .51 -1.5 .51 3.5 .51 0 .51 1.5 .51 -3.5 .51 1.5 .51 -1.5 .52 -2.5 .51 2.5 .51 .5 .51 3 .51 -1.5 .51 -3 .51 .5 .52 -2 .51 1.5 .51 6.5 .51 -8.5 .51 -1.5 .51 0 .51 -4.5 .51 4.5 .52 -4 .51 -.5 .51 -1.5 .51 -5 .51 0 .51 -3 .51 -4.5 .51 -8 .52 -8 .51 -10 .51 -16 .51 -18 .51 -24.5 .51 -26 .51 -32 .51 -36.5 .52 -40 .51 -41.5 .51 -40.5 .51 -38 .51 -30 .51 -19.5 .51 -7 .52 8 .51 20.5 .51 31.5 .51 37.5 .51 42 .51 40.5 .51 39.5 .51 36.5 .52 32 .51 27 .51 22.5 .51 19.5 .51 12.5 .51 12 .51 7.5 .51 7.5 .52 2 .51 4 .51 3 .51 2.5 .51 0 .51 6 .51 -2.5 .51 1 .52 2 .51 -.5 .51 -.5 .51 3 .51 -1 .51 .5 .51 1.5 .52 .5 .51 -.5 .51 4.5 .51 -1.5 .51 -1.5 .51 -2.5 .51 3 .51 .5 .52 -.5 .51 0 .51 1.5 .51 8 .51 -8.5 .51 -3 .51 3 .51 1 .52 1 .51 -3.5 .51 2.5 .51 -.5 .51 1 .51 -2 .51 2.5 .51 -2.5 .52 6.5 .51 -11.5 .51 3 .51 1.5 .51 1 .51 1 .51 -2 .52 -3 .51 1.5 .51 .5 .51 -1.5 .51 2 .51 -1 .51 1.5 .51 -.5 .52 -1 .51 2 .51 -1 .51 3 .51 -1.5 .51 2.5 .51 -2 .51 1 .52 3.5 .51 -1.5 .51 -1.5 .51 -1 .51 2 .51 2.5 .51 -3.5 .51 0 .52 -2 .51 0 .51 4 .51 2 .51 -3 .51 -1 .51 2.5 .52 -1.5 .51 .5 .51 -1.5 .51 .5 .51 3 .51 -3.5 .51 0 .51 1.5 .52 -1 .51 1.5 .51 0 .51 -1 .51 .5 .51 -.5 .51 -1.5 .51 2.5 .52 -2 .51 3.5 .51 -2.5 .51 1 .51 -2.5 .51 1 .51 2 .51 .5 .52 -2.5 .51 1 .51 -1.5 .51 1.5 .51 -.5 .51 -.5 .51 2 .52 1.5 .51 -.5 .51 -2.5 .51 1 .51 0 .51 6 .51 -7 .51 1.5 .52 0 .51 -2 .51 1.5 .51 0 .51 -1 .51 1.5 .51 1 .51 0 .52 -2 .51 0 .51 0 .51 0 .51 2.5 .51 -3.5 .51 0 .51 2 .52 .5 .51 2.5 .51 -4.5 .51 .5 .51 .5 .51 -1 .51 -3 .52 5 .51 -1 .51 -2 .51 2 .51 -1.5 .51 1 .51 -1 .51 1.5 .52 -.5 .51 2 .51 -1 .51 1 .51 -3.5 .51 -1 .51 4.5 .51 0 .52 -1 .51 1.5 .51 -1 .51 2 .51 -2 .51 1.5 .51 0 .51 -1.5 .52 -.5 .51 .5 .51 -2 .51 4.5 .51 0 .51 -5.5 .51 3 .52 -2.5 .51 3.5 .51 -5 .51 5 .51 -1 .51 1 .51 -.5 .51 .5 .52 -1 .51 -.5 .51 -.5 .51 0 .51 1.5 .51 0 .51 -2.5 .51 .5 .52 .5 .51 1.5 .51 -4.5 .51 4 .51 2 .51 1 .51 -2 .51 2 .52 -4.5 .51 -.5 .51 0 .51 -4 .51 5.5 .51 -1.5 .51 0 .52 -1 .51 2.5 .51 -2 .51 -.5 .51 2 .51 -.5 .51 -2.5 .51 5 .52 -.5 .51 0 .51 -1 .51 -2.5 .51 -8.5 .51 5.5 .51 4.5 .51 4 .52 -2.5 .51 -2 .51 1.5 .51 -2 .51 1 .51 0 .51 -1 .51 -.5 .52 -2 .51 2 .51 5 .51 -5.5 .51 2 .51 -4 .51 1.5 .52 -1.5 .51 0 .51 -1 .51 -.5 .51 -.5 .51 .5 .51 -3.5 .51 -.5 .52 -1.5 .51 -2.5 .51 -.5 .51 -2.5 .51 -6 .51 -5.5 .51 -3 .51 -9 .52 -10 .51 -10 .51 -11 .51 -12 .51 -11.5 .51 -9 .51 -9.5 .51 -3 .52 .5 .51 3 .51 4.5 .51 7 .51 8 .51 10.5 .51 11.5 .52 11 .51 8 .51 9.5 .51 7 .51 6 .51 6 .51 3.5 .51 4.5 .52 -1 .51 5 .51 4 .51 1 .51 -1 .51 1.5 .51 1 .51 2 .52 2.5 .51 -8 .51 6 .51 -.5 .51 -.5 .51 4.5 .51 -3 .51 2.5 .52 -2 .51 -.5 .51 1 .51 3.5 .51 -2.5 .51 -.5 .51 -1 .52 9.5 .51 -4.5 .51 -3 .51 0 .51 -.5 .51 0 .51 .5 .51 1 .52 1 .51 -4.5 .51 1.5 .51 2 .51 -1.5 .51 0 .51 1.5 .51 -1.5 .52 .5 .51 1.5 .51 -3.5 .51 3 .51 2.5 .51 -3 .51 0 .51 0 .52 1 .51 .5 .51 -2.5 .51 3 .51 -.5 .51 -.5 .51 -.5 .52 -3.5 .51 4 .51 1.5 .51 -2 .51 2 .51 5 .51 -2.5 .51 -5.5 .52 .5 .51 -2 .51 3.5 .51 -1.5 .51 1.5 .51 -1 .51 -.5 .51 .5 .52 -1 .51 -1 .51 2 .51 -1.5 .51 3.5 .51 3 .51 -6 .51 1 .52 0 .51 -2 .51 6 .51 -4 .51 -6 .51 2.5 .51 2 .52 -.5 .51 -2.5 .51 2.5 .51 -.5 .51 2.5 .51 -4 .51 1 .51 -4.5 .52 4.5 .51 -1 .51 -1 .51 -1.5 .51 1 .51 -3.5 .51 1 .51 -2.5 .52 -2 .51 .5 .51 -3 .51 1 .51 -.5 .51 -1 .51 1 .51 -3 .52 4.5 .51 -1 .51 1 .51 -5.5 .51 8 .51 2.5 .51 0 .52 5.5 .51 -4.5 .51 1 .51 2 .51 -.5 .51 3.5 .51 -2.5 .51 1.5 .52 3 .51 -3 .51 1 .51 -.5 .51 .5 .51 0 .51 2.5 .51 2 .52 -4.5 .51 3 .51 -2.5 .51 1 .51 1.5 .51 -2 .51 2 .51 -1 .52 4.5 .51 -4 .51 5.5 .51 -5 .51 1.5 .51 -2.5 .51 0 .52 -3 .51 -1 .51 4 .51 -1.5 .51 1 .51 0 .51 1.5 .51 -2 .52 2.5 .51 0 .51 0 .51 -1 .51 2 .51 -2.5 .51 2 .51 1.5 .52 -3.5 .51 0 .51 -.5 .51 2 .51 0 .51 -2.5 .51 4 .51 -3.5 .52 -1 .51 2.5 .51 -2 .51 0 .51 .5 .51 2.5 .51 -1 .52 0 .51 1 .51 -.5 .51 -1 .51 1 .51 0 .51 2 .51 0 .52 -1 .51 -1.5 .51 .5 .51 1.5 .51 -2 .51 .5 .51 4 .51 -6.5 .52 2 .51 0 .51 5 .51 -6 .51 1 .51 -1.5 .51 2 .51 .5 .52 -.5 .51 0 .51 0 .51 -.5 .51 1 .51 0 .51 1 .52 -4 .51 -1 .51 7.5 .51 -4 .51 -1.5 .51 2.5 .51 -1.5 .51 -1 .52 1.5 .51 -1 .51 2 .51 -4 .51 2.5 .51 -1 .51 0 .51 5 .52 -3 .51 -1 .51 1.5 .51 -1 .51 1.5 .51 -1.5 .51 -3 .51 3 .52 -1 .51 5.5 .51 -5.5 .51 2 .51 -2 .51 0 .51 4 .52 -3 .51 -2 .51 1.5 .51 -.5 .51 2.5 .51 .5 .51 -1 .51 -3.5 .52 3 .51 -4 .51 3.5 .51 .5 .51 -1 .51 3.5 .51 -3.5 .51 -1 .52 1 .51 .5 .51 -.5 .51 -1.5 .51 2.5 .51 -.5 .51 -2 .51 .5 .52 4.5 .51 -3.5 .51 1 .51 .5 .51 -3.5 .51 -2 .51 4.5 .52 -3.5 .51 3.5 .51 -1 .51 0 .51 0 .51 -.5 .51 .5 .51 -.5 .52 1 .51 -1.5 .51 0 .51 0 .51 -4 .51 5.5 .51 0 .51 -1 .52 -1.5 .51 2 .51 -.5 .51 0 .51 1 .51 -.5 .51 0 .51 .5 .52 0 .51 -1 .51 -.5 .51 0 .51 -.5 .51 .5 .51 -.5 .52 4.5 .51 -3.5 .51 -2.5 .51 2.5 .51 0 .51 -1.5 .51 .5 .51 -3.5 .52 10.5 .51 -7.5 .51 0 .51 -6.5 .51 4.5 .51 -.5 .51 1 .51 -2.5 .52 0 .51 .5 .51 2 .51 -3.5 .51 -2 .51 -1.5 .51 -.5 .51 -2.5 .52 -1.5 .51 -3 .51 -8.5 .51 2 .51 -3.5 .51 -3.5 .51 -4.5 .52 -6 .51 -6.5 .51 -5 .51 -5 .51 -4.5 .51 -1.5 .51 1 .51 .5 .52 2 .51 2.5 .51 3 .51 4.5 .51 5.5 .51 5.5 .51 2.5 .51 8 .52 4 .51 1 .51 3.5 .51 2 .51 5.5 .51 -.5 .51 0 .51 4 .52 1.5 .51 0 .51 2 .51 3 .51 -1.5 .51 -.5 .51 -1.5 .52 3 .51 -2.5 .51 2.5 .51 1.5 .51 -.5 .51 1 .51 .5 .51 2.5 .52 1.5 .51 -3 .51 1 .51 1 .51 -12 .51 9 .51 1 .51 -.5 .52 2.5 .51 -.5 .51 -1 .51 -.5 .51 1 .51 -2.5 .51 4.5 .51 -2.5 .52 .5 .51 -2 .51 1 .51 .5 .51 0 .51 -2 .51 2 .52 .5 .51 .5 .51 0 .51 -2 .51 2.5 .51 -2.5 .51 0 .51 1.5 .52 -.5 .51 -2.5 .51 3 .51 .5 .51 -1 .51 0 .51 -1.5 .51 1 .52 -1.5 .51 2.5 .51 -3.5 .51 2 .51 -1.5 .51 1.5 .51 .5 .51 -1 .52 0 .51 1 .51 -.5 .51 -2.5 .51 .5 .51 2 .51 -2 .52 .5 .51 -1 .51 3 .51 -2 .51 -2 .51 0 .51 0 .51 .5 .52 0 .51 -2.5 .51 -5.5 .51 2 .51 -.5 .51 -4 .51 1.5 .51 -3.5 .52 -1.5 .51 .5 .51 -2.5 .51 -1 .51 -3.5 .51 -1 .51 -1 .51 0 .52 1 .51 -.5 .51 0 .51 1.5 .51 -.5 .51 3.5 .51 1 .52 .5 .51 2.5 .51 .5 .51 3 .51 2 .51 0 .51 1.5 .51 2 .52 2 .51 -.5 .51 2 .51 0 .51 1 .51 0 .51 2 .51 1.5 .52 -5 .51 4 .51 1.5 .51 -2.5 .51 -.5 .51 3 .51 -3 .51 1.5 .52 1.5 .51 -1.5 .51 -.5 .51 1.5 .51 -1 .51 2 .51 -1 .52 1 .51 .5 .51 -3.5 .51 0 .51 4 .51 -1 .51 0 .51 -.5 .52 -6 .51 6.5 .51 -1 .51 1.5 .51 -1.5 .51 -2 .51 4.5 .51 -2 .52 -.5 .51 .5 .51 0 .51 -.5 .51 2 .51 -1 .51 2.5 .51 -3 .52 -1.5 .51 2 .51 0 .51 -2 .51 .5 .51 -4.5 .51 4 .52 2.5 .51 -2 .51 -.5 .51 1 .51 -.5 .51 -.5 .51 -2.5 .51 1.5 .52 4 .51 -4.5 .51 -1.5 .51 0 .51 1.5 .51 -.5 .51 -.5 .51 -.5 .52 -1 .51 -2 .51 1 .51 -1.5 .51 0 .51 -2.5 .51 -1 .51 -1.5 .52 -3.5 .51 -2.5 .51 -2 .51 -2.5 .51 -5.5 .51 -4 .51 -6 .52 -2 .51 -2.5 .51 -6 .51 -.5 .51 1 .51 1.5 .51 2.5 .51 .5 .52 2.5 .51 2.5 .51 3 .51 5 .51 2.5 .51 2.5 .51 5 .51 4.5 .52 -.5 .51 3 .51 1 .51 3 .51 1.5 .51 1 .51 -.5 .51 3.5 .52 .5 .51 5 .51 -3.5 .51 -2 .51 2 .51 -4.5 .51 8.5 .52 -3 .51 0 .51 -1 .51 2 .51 -1 .51 0 .51 .5 .51 -.5 .52 1 .51 -2.5 .51 4 .51 -1.5 .51 .5 .51 0 .51 0 .51 .5 .52 -1.5 .51 2 .51 0 .51 0 .51 0 .51 -1 .51 0 .51 3 .52 -1.5 .51 0 .51 -1.5 .51 1.5 .51 -1 .51 2 .51 -.5 .52 -4 .51 5.5 .51 -1 .51 -2.5 .51 2 .51 .5 .51 0 .51 -2 .52 .5 .51 -2 .51 2 .51 .5 .51 -2.5 .51 4 .51 -3 .51 1.5 .52 -.5 .51 -.5 .51 .5 .51 .5 .51 -1 .51 0 .51 .5 .51 2 .52 -2 .51 -1 .51 .5 .51 1 .51 -1 .51 -.5 .51 2 .51 -.5 .52 -1 .51 -.5 .51 1.5 .51 -.5 .51 .5 .51 .5 .51 -2 .52 5.5 .51 -4 .51 0 .51 -1 .51 -.5 .51 .5 .51 1 .51 -.5 .52 1.5 .51 -.5 .51 0 .51 -.5 .51 -.5 .51 -1.5 .51 1 .51 -2 .52 3.5 .51 -1 .51 0 .51 -.5 .51 1.5 .51 -1 .51 -1.5 .51 2 .52 -1.5 .51 1 .51 0 .51 0 .51 1.5 .51 -2 .51 .5 .52 -.5 .51 1 .51 2.5 .51 -3 .51 -2 .51 3.5 .51 0 .51 -2 .52 -1 .51 .5 .51 2.5 .51 -1.5 .51 1 .51 -1 .51 1.5 .51 -.5 .52 2 .51 -2 .51 0 .51 -2.5 .51 5 .51 -3.5 .51 2 .51 3 .52 -2 .51 -1.5 .51 -1 .51 -5.5 .51 5 .51 .5 .51 -3 .52 2 .51 2 .51 -1 .51 -1.5 .51 1 .51 .5 .51 -1 .51 1 .52 0 .51 0 .51 2 .51 -3.5 .51 1.5 .51 -1.5 .51 1 .51 -2.5 .52 2 .51 -1 .51 .5 .51 -1 .51 -.5 .51 .5 .51 2 .51 -2.5 .52 4.5 .51 -4 .51 -7.5 .51 6 .51 -2.5 .51 0 .51 0 .52 0 .51 -3 .51 1.5 .51 -2 .51 -2.5 .51 -1 .51 -2.5 .51 0 .52 -1 .51 .5 .51 -1.5 .51 .5 .51 2 .51 0 .51 -1.5 .51 3 .52 .5 .51 1 .51 1.5 .51 1.5 .51 1.5 .51 1 .51 -2.5 .51 4 .52 -1 .51 2 .51 .5 .51 1 .51 8 .51 -9 .51 .5 .52 .5 .51 1.5 .51 -.5 .51 2 .51 -3 .51 8 .51 -6 .51 -1.5 .52 1.5 .51 -.5 .51 1 .51 -1 .51 3.5 .51 -4 .51 1.5 .51 .5 .52 0 .51 -.5 .51 -.5 .51 1 .51 3 .51 -1 .51 -.5 .51 -1 .52 -.5 .51 -1 .51 .5 .51 -1.5 .51 1.5 .51 7 .51 -8 .52 1.5 .51 -1 .51 -3 .51 2.5 .51 -1 .51 1 .51 2 .51 4.5 .52 -5 .51 -1.5 .51 1 .51 2 .51 -4 .51 0 .51 1 .51 1 .52 -2.5 .51 1.5 .51 .5 .51 -1.5 .51 -2.5 .51 1.5 .51 -4.5 .51 1 .52 1 .51 -4 .51 2.5 .51 -.5 .51 -3 .51 -1 .51 2 .52 -5 .51 -3.5 .51 -3 .51 -1.5 .51 -3.5 .51 -4 .51 -2.5 .51 -4.5 .52 -3.5 .51 -1.5 .51 1 .51 -.5 .51 1.5 .51 2 .51 2.5 .51 1.5 .52 1.5 .51 2 .51 4 .51 3.5 .51 2 .51 2.5 .51 4.5 .51 .5 .52 3.5 .51 0 .51 1.5 .51 0 .51 1 .51 2.5 .51 0 .52 -3.5 .51 6 .51 -.5 .51 2 .51 -1.5 .51 0 .51 .5 .51 .5 .52 .5 .51 .5 .51 1 .51 .5 .51 -2 .51 .5 .51 2 .51 -1.5 .52 0 .51 .5 .51 -1.5 .51 1.5 .51 .5 .51 1 .51 -1.5 .51 -1.5 .52 1.5 .51 1.5 .51 2 .51 -3.5 .51 1 .51 -.5 .51 0 .52 -1 .51 2 .51 0 .51 1 .51 -1.5 .51 -.5 .51 .5 .51 -3 .52 2 .51 2 .51 .5 .51 -2.5 .51 0 .51 0 .51 1.5 .51 -.5 .52 .5 .51 0 .51 -1.5 .51 2 .51 -3 .51 3.5 .51 -2 .51 -.5 .52 5.5 .51 -6 .51 .5 .51 .5 .51 8 .51 -9 .51 3 .52 -2.5 .51 2 .51 -2 .51 -.5 .51 2 .51 -.5 .51 0 .51 .5 .52 .5 .51 -1.5 .51 3.5 .51 -4.5 .51 2.5 .51 -2.5 .51 -.5 .51 4 .52 -.5 .51 -4 .51 2 .51 1 .51 .5 .51 -3 .51 1 .51 2 .52 0 .51 -1.5 .51 -1 .51 2.5 .51 -1.5 .51 0 .51 2 .52 -2 .51 .5 .51 1.5 .51 -3 .51 2.5 .51 .5 .51 1.5 .51 -1 .52 -1 .51 -1 .51 1 .51 -1.5 .51 1 .51 -2 .51 .5 .51 4 .52 -1L953.01 652.0Z"/><path fill="none" stroke-miterlimit="40" d="M39.33 596.5l.51 -7 .51 -9 .51 -11 .52 -12.5 .51 -11.5 .51 -10.5 .51 -2.5 .51 4.5 .51 6.5 .51 10 .51 12.5 .52 12M40.86 569.5l.52 -12.5 .51 -11.5 .51 -10.5 .51 -2.5 .51 4.5 .51 6.5 .51 10 .51 12.5 .52 12 .51 7.5 .51 7.5 .51 5.5M222.88 604.5l.52 -5 .51 -4 .51 -6.5 .51 -5.5 .51 -6 .51 -5.5 .51 -4 .51 -1.5 .52 3.5 .51 1 .51 4.5 .51 5.5 .51 4.5 .51 5.5 .51 3 .51 7M223.91 595.5l.51 -6.5 .51 -5.5 .51 -6 .51 -5.5 .51 -4 .51 -1.5 .52 3.5 .51 1 .51 4.5 .51 5.5 .51 4.5 .51 5.5 .51 3 .51 7M441.20 589.0l.52 -10 .51 -10 .51 -11 .51 -12 .51 -11.5 .51 -9 .51 -9.5 .51 -3 .52 .5 .51 3 .51 4.5 .51 7 .51 8 .51 10.5 .51 11.5 .52 11M442.74 558.0l.51 -12 .51 -11.5 .51 -9 .51 -9.5 .51 -3 .52 .5 .51 3 .51 4.5 .51 7 .51 8 .51 10.5 .51 11.5 .52 11M622.20 604.0l.51 -3.5 .51 -4.5 .52 -6 .51 -6.5 .51 -5 .51 -5 .51 -4.5 .51 -1.5 .51 1 .51 .5 .52 2 .51 2.5 .51 3 .51 4.5 .51 5.5 .51 5.5M623.74 590.0l.51 -6.5 .51 -5 .51 -5 .51 -4.5 .51 -1.5 .51 1 .51 .5 .52 2 .51 2.5 .51 3 .51 4.5 .51 5.5 .51 5.5M678.44 619.0l.51 -3.5 .52 -1.5 .51 .5 .51 -2.5 .51 -1 .51 -3.5 .51 -1 .51 -1 .51 0 .52 1 .51 -.5 .51 0 .51 1.5 .51 -.5 .51 3.5 .51 1M732.13 611.0l.51 -2.5 .51 -5.5 .51 -4 .51 -6 .52 -2 .51 -2.5 .51 -6 .51 -.5 .51 1 .51 1.5 .51 2.5 .51 .5 .52 2.5 .51 2.5 .51 3 .51 5M734.17 593.0l.52 -2 .51 -2.5 .51 -6 .51 -.5 .51 1 .51 1.5 .51 2.5 .51 .5 .52 2.5 .51 2.5 .51 3 .51 5M881.94 614.5l.51 -3 .51 -1.5 .51 -3.5 .51 -4 .51 -2.5 .51 -4.5 .52 -3.5 .51 -1.5 .51 1 .51 -.5 .51 1.5 .51 2 .51 2.5 .51 1.5 .52 1.5 .51 2M884.49 600.0l.51 -4.5 .52 -3.5 .51 -1.5 .51 1 .51 -.5 .51 1.5 .51 2 .51 2.5 .51 1.5 .52 1.5 .51 2"/><path fill="#0092FF" d="M15.30 692.5L15.30 659.0l.51 -3 .51 3.5 .51 -5 .52 3 .51 2 .51 8 .51 -10.5 .51 2.5 .51 -6 .51 6.5 .51 1 .52 -1 .51 -1 .51 -.5 .51 1 .51 0 .51 -2.5 .51 3 .51 -1 .52 0 .51 4.5 .51 -4.5 .51 -.5 .51 .5 .51 -3 .51 2.5 .51 1.5 .52 8 .51 -8 .51 0 .51 -1 .51 -2 .51 2 .51 -3.5 .52 2.5 .51 4 .51 -5 .51 -4 .51 0 .51 .5 .51 -1 .51 0 .52 -6 .51 -4 .51 -6 .51 -4 .51 -10 .51 -9.5 .51 -10 .51 -13.5 .52 -9.5 .51 0 .51 2 .51 6 .51 9.5 .51 10 .51 11.5 .51 8.5 .52 14 .51 -2.5 .51 7.5 .51 .5 .51 1.5 .51 3 .51 1.5 .52 3.5 .51 -2 .51 3 .51 0 .51 3.5 .51 -2.5 .51 .5 .51 -3 .52 10.5 .51 -3 .51 -4.5 .51 3.5 .51 -2 .51 -1 .51 2 .51 -1.5 .52 -2.5 .51 2.5 .51 2 .51 -1 .51 -1 .51 -1 .51 1.5 .51 -3.5 .52 4 .51 2.5 .51 -3 .51 -.5 .51 7 .51 -6 .51 .5 .52 1.5 .51 -1 .51 0 .51 -3 .51 5 .51 -3 .51 1 .51 0 .52 -.5 .51 0 .51 5 .51 -3.5 .51 .5 .51 -2 .51 0 .51 -2 .52 2.5 .51 2 .51 -1 .51 0 .51 0 .51 -1.5 .51 3 .51 -1 .52 -.5 .51 0 .51 .5 .51 1 .51 -4.5 .51 2 .51 -3.5 .52 -8 .51 10.5 .51 1.5 .51 0 .51 -1 .51 1 .51 2 .51 -1.5 .52 4 .51 -3.5 .51 2.5 .51 -1.5 .51 -2.5 .51 1 .51 3 .51 1 .52 -3 .51 -3 .51 2 .51 0 .51 3.5 .51 -3.5 .51 -2.5 .51 1 .52 1.5 .51 0 .51 1 .51 1.5 .51 1.5 .51 -5 .51 2.5 .52 -3 .51 3.5 .51 -3 .51 4 .51 -3 .51 -1 .51 1.5 .51 .5 .52 -1 .51 1.5 .51 .5 .51 -2 .51 9 .51 -10.5 .51 0 .51 2 .52 -.5 .51 1.5 .51 0 .51 -4 .51 -1 .51 4.5 .51 2 .51 4.5 .52 -7 .51 .5 .51 -2 .51 2 .51 1.5 .51 -1 .51 -6 .52 7 .51 -1.5 .51 0 .51 1 .51 .5 .51 0 .51 -2 .51 .5 .52 .5 .51 -1.5 .51 3.5 .51 -1.5 .51 4.5 .51 -6 .51 5 .51 -5.5 .52 1.5 .51 -.5 .51 0 .51 -2 .51 2.5 .51 0 .51 -4.5 .51 4.5 .52 0 .51 0 .51 -1.5 .51 1.5 .51 -.5 .51 4 .51 -5.5 .52 2.5 .51 1 .51 -2 .51 .5 .51 1 .51 -1 .51 -4 .51 3.5 .52 -.5 .51 -.5 .51 -.5 .51 0 .51 -1.5 .51 1.5 .51 -.5 .51 -1 .52 -1 .51 -1.5 .51 -2 .51 4 .51 -1 .51 -.5 .51 -2.5 .51 3 .52 -1.5 .51 -.5 .51 2 .51 2 .51 -.5 .51 0 .51 -1.5 .52 4 .51 1.5 .51 8.5 .51 -9.5 .51 0 .51 .5 .51 .5 .51 1 .52 -4 .51 4 .51 -1.5 .51 -.5 .51 0 .51 -.5 .51 2.5 .51 -3 .52 3 .51 .5 .51 -2 .51 1.5 .51 -2 .51 .5 .51 -1 .51 1.5 .52 -.5 .51 1 .51 -2.5 .51 1 .51 4.5 .51 -3 .51 -1.5 .52 1.5 .51 2 .51 -1.5 .51 1.5 .51 -3.5 .51 2 .51 2 .51 -.5 .52 -5.5 .51 1.5 .51 2 .51 .5 .51 4.5 .51 -5.5 .51 .5 .51 11 .52 -12.5 .51 .5 .51 1.5 .51 -1.5 .51 -1.5 .51 1 .51 2 .51 -2.5 .52 4 .51 -1.5 .51 0 .51 -.5 .51 .5 .51 -2.5 .51 2 .52 -2 .51 .5 .51 2 .51 0 .51 .5 .51 -.5 .51 -1 .51 .5 .52 -3.5 .51 1.5 .51 2 .51 0 .51 0 .51 -.5 .51 .5 .51 0 .52 -2 .51 3.5 .51 .5 .51 -5.5 .51 2 .51 2 .51 1 .51 -1 .52 -3.5 .51 4 .51 0 .51 .5 .51 2 .51 -4.5 .51 1.5 .52 -2 .51 3 .51 3 .51 -2 .51 4.5 .51 -7 .51 .5 .51 .5 .52 1.5 .51 -2.5 .51 1 .51 -1.5 .51 -.5 .51 1.5 .51 0 .51 2 .52 -.5 .51 -1.5 .51 -1 .51 -2 .51 2 .51 0 .51 1 .51 -2 .52 3 .51 -.5 .51 1 .51 -3.5 .51 2.5 .51 -.5 .51 -1 .52 2 .51 -3 .51 0 .51 1 .51 1 .51 -1 .51 -1 .51 -.5 .52 4.5 .51 -3.5 .51 .5 .51 .5 .51 -.5 .51 -3.5 .51 2 .51 .5 .52 -3 .51 1 .51 8 .51 -9.5 .51 0 .51 -1 .51 -1.5 .51 2 .52 -6.5 .51 -1 .51 -3 .51 -5.5 .51 0 .51 -7 .51 -2 .52 -4.5 .51 -3.5 .51 -2 .51 4 .51 -1.5 .51 3.5 .51 3.5 .51 2.5 .52 11 .51 -2.5 .51 2.5 .51 3 .51 3 .51 1 .51 2 .51 1.5 .52 2 .51 3 .51 -2 .51 -.5 .51 3 .51 -1 .51 -.5 .51 1 .52 4 .51 .5 .51 -3 .51 1.5 .51 0 .51 -.5 .51 -1.5 .52 .5 .51 3 .51 -1 .51 -1 .51 0 .51 4 .51 -3.5 .51 0 .52 0 .51 -3.5 .51 6.5 .51 -5 .51 -3.5 .51 8 .51 -4 .51 3 .52 -1.5 .51 1.5 .51 -2.5 .51 5 .51 -5 .51 .5 .51 -.5 .51 .5 .52 1.5 .51 -1 .51 -1.5 .51 4 .51 -1.5 .51 -2 .51 .5 .52 1.5 .51 -1.5 .51 1 .51 0 .51 0 .51 -1 .51 2 .51 -.5 .52 .5 .51 -3 .51 2.5 .51 -1.5 .51 -4 .51 4 .51 -2.5 .51 3 .52 0 .51 .5 .51 1 .51 2.5 .51 -8.5 .51 4 .51 1.5 .51 .5 .52 5.5 .51 -7 .51 1.5 .51 -1 .51 -2 .51 3 .51 -2.5 .51 .5 .52 1 .51 0 .51 -1 .51 .5 .51 2.5 .51 -3 .51 -.5 .52 1.5 .51 1 .51 -1.5 .51 -1 .51 .5 .51 1 .51 -2 .51 1 .52 0 .51 -1.5 .51 -.5 .51 3 .51 -1 .51 0 .51 -.5 .51 0 .52 -1 .51 -4 .51 4 .51 -.5 .51 0 .51 -.5 .51 -2 .51 1.5 .52 -1.5 .51 -1.5 .51 .5 .51 5 .51 -4.5 .51 -3.5 .51 3.5 .52 -.5 .51 -1 .51 -2 .51 0 .51 -1.5 .51 1 .51 -4 .51 0 .52 -3 .51 -2 .51 -5 .51 -6 .51 -6.5 .51 -7 .51 -14.5 .51 -15.5 .52 -18.5 .51 -25 .51 -30 .51 -33 .51 -37 .51 -41 .51 -41 .51 -40 .52 -35.5 .51 -27 .51 -15.5 .51 -2 .51 12 .51 25 .51 33.5 .52 39 .51 41.5 .51 40.5 .51 38 .51 35 .51 30.5 .51 25.5 .51 20.5 .52 17 .51 12 .51 11.5 .51 6 .51 9 .51 2.5 .51 2.5 .51 4 .52 1 .51 1.5 .51 0 .51 3 .51 -2 .51 4.5 .51 -2 .51 .5 .52 1 .51 1 .51 -1 .51 1 .51 5.5 .51 -4.5 .51 .5 .52 1 .51 -2 .51 2 .51 1.5 .51 -1 .51 0 .51 0 .51 10 .52 -11 .51 0 .51 1 .51 3 .51 -3 .51 -1 .51 .5 .51 .5 .52 1.5 .51 -1.5 .51 .5 .51 2 .51 -2 .51 0 .51 .5 .51 -1 .52 1 .51 -1 .51 0 .51 -2.5 .51 1.5 .51 1 .51 -2.5 .52 2 .51 -.5 .51 -.5 .51 1.5 .51 -.5 .51 1.5 .51 .5 .51 -1.5 .52 -.5 .51 1 .51 4 .51 -5.5 .51 4 .51 -.5 .51 -1 .51 5 .52 5.5 .51 -9 .51 -1 .51 1 .51 1 .51 -.5 .51 .5 .51 -1 .52 2 .51 -1.5 .51 -1 .51 .5 .51 5.5 .51 -6.5 .51 3.5 .52 3 .51 -6 .51 -2 .51 4 .51 .5 .51 -1 .51 1 .51 -1.5 .52 2.5 .51 -2 .51 1 .51 -.5 .51 0 .51 0 .51 2.5 .51 -2 .52 1 .51 -5 .51 4.5 .51 -2.5 .51 1 .51 1 .51 5.5 .51 -7 .52 .5 .51 1 .51 1 .51 -2 .51 .5 .51 0 .51 .5 .52 1 .51 -4 .51 3.5 .51 -1 .51 3.5 .51 -3 .51 .5 .51 -2 .52 .5 .51 -5 .51 0 .51 6.5 .51 -.5 .51 2 .51 -3 .51 -4 .52 1.5 .51 4.5 .51 -2 .51 -1.5 .51 2.5 .51 -5 .51 6 .51 -1.5 .52 2.5 .51 -2 .51 -.5 .51 0 .51 0 .51 -.5 .51 3 .52 -1.5 .51 -2 .51 2 .51 -2 .51 2.5 .51 -.5 .51 1.5 .51 -11.5 .52 11 .51 -2.5 .51 .5 .51 3 .51 -2 .51 1 .51 0 .51 -2.5 .52 -2.5 .51 4 .51 -.5 .51 5.5 .51 -6 .51 .5 .51 .5 .51 -.5 .52 0 .51 .5 .51 -1.5 .51 0 .51 4 .51 -2 .51 -1.5 .52 3 .51 -3 .51 1 .51 -4.5 .51 6.5 .51 -.5 .51 -3.5 .51 2 .52 -.5 .51 -.5 .51 3 .51 -3 .51 .5 .51 -1 .51 1 .51 0 .52 0 .51 2.5 .51 -4 .51 2 .51 -1 .51 0 .51 2 .51 -2 .52 1 .51 -1.5 .51 0 .51 -9 .51 9 .51 4 .51 -4.5 .52 1 .51 1 .51 0 .51 -1.5 .51 0 .51 2.5 .51 -3.5 .51 1 .52 1.5 .51 -2 .51 -1 .51 1 .51 .5 .51 -.5 .51 -1.5 .51 2.5 .52 -5.5 .51 5 .51 .5 .51 -.5 .51 1 .51 -3 .51 2 .51 -1.5 .52 -1.5 .51 .5 .51 -1.5 .51 2.5 .51 -1.5 .51 -2 .51 1.5 .52 6.5 .51 -7 .51 -2.5 .51 0 .51 -2.5 .51 -.5 .51 -2.5 .51 -5 .52 -2.5 .51 -4.5 .51 -4.5 .51 -8 .51 -8.5 .51 -8.5 .51 -10.5 .51 -10 .52 -10.5 .51 -8.5 .51 -7.5 .51 -4.5 .51 0 .51 2 .51 4 .51 6.5 .52 7.5 .51 10.5 .51 7.5 .51 10 .51 9.5 .51 6 .51 7 .52 8 .51 6 .51 3 .51 4 .51 2.5 .51 1.5 .51 1.5 .51 1 .52 8 .51 -7.5 .51 5.5 .51 -2.5 .51 3 .51 -1.5 .51 -.5 .51 2 .52 -1.5 .51 2.5 .51 -2 .51 5.5 .51 -5.5 .51 1 .51 -4 .51 5 .52 -1 .51 1 .51 -7 .51 8 .51 0 .51 -2 .51 .5 .52 3 .51 -4.5 .51 2 .51 1 .51 -.5 .51 -1 .51 2.5 .51 -2.5 .52 -.5 .51 2.5 .51 -1.5 .51 2 .51 -1.5 .51 -1 .51 -1 .51 2 .52 .5 .51 1 .51 0 .51 -1 .51 .5 .51 .5 .51 0 .51 0 .52 -2 .51 -.5 .51 2.5 .51 -2 .51 3.5 .51 -2 .51 -3.5 .52 4 .51 -.5 .51 -1.5 .51 -1.5 .51 0 .51 3.5 .51 0 .51 -1 .52 -1 .51 3 .51 6.5 .51 -9 .51 -.5 .51 -6 .51 9 .51 0 .52 0 .51 -2.5 .51 -2 .51 -1.5 .51 1.5 .51 0 .51 1.5 .51 -1 .52 0 .51 -.5 .51 -1.5 .51 1.5 .51 -1 .51 -2 .51 2 .52 0 .51 -1.5 .51 0 .51 -1.5 .51 -.5 .51 -5.5 .51 .5 .51 1.5 .52 -1 .51 -1 .51 -3 .51 0 .51 -.5 .51 1 .51 -1.5 .51 1 .52 -2.5 .51 3 .51 -1.5 .51 5.5 .51 -1 .51 1 .51 2 .51 -.5 .52 1 .51 1.5 .51 -.5 .51 1.5 .51 1 .51 2 .51 -2 .52 2.5 .51 -2.5 .51 3.5 .51 2.5 .51 -5 .51 3 .51 -5 .51 5.5 .52 -1 .51 -.5 .51 -1.5 .51 8.5 .51 3 .51 -8.5 .51 1 .51 -2 .52 0 .51 2 .51 .5 .51 -2 .51 1.5 .51 -2.5 .51 -2.5 .51 4.5 .52 .5 .51 -.5 .51 0 .51 -2 .51 4.5 .51 -2 .51 -2.5 .52 1 .51 1.5 .51 0 .51 1 .51 -2 .51 1.5 .51 -2.5 .51 -.5 .52 .5 .51 1.5 .51 0 .51 4 .51 -4 .51 -1 .51 0 .51 2 .52 .5 .51 .5 .51 -1 .51 -4.5 .51 2.5 .51 4.5 .51 -2 .51 8.5 .52 -11.5 .51 3 .51 2.5 .51 -3.5 .51 1 .51 0 .51 -1.5 .52 -.5 .51 .5 .51 1.5 .51 -2 .51 1 .51 0 .51 2 .51 -1.5 .52 0 .51 -.5 .51 .5 .51 0 .51 -4 .51 3.5 .51 -1 .51 2.5 .52 .5 .51 -.5 .51 -1.5 .51 3 .51 -3 .51 8 .51 -8 .51 1 .52 1 .51 -3 .51 -1 .51 2.5 .51 .5 .51 0 .51 .5 .52 .5 .51 -2 .51 0 .51 -1 .51 0 .51 0 .51 2 .51 1 .52 -2.5 .51 1.5 .51 -2 .51 3 .51 3.5 .51 -4.5 .51 -1 .51 1.5 .52 -.5 .51 0 .51 -2.5 .51 .5 .51 0 .51 1.5 .51 0 .51 1 .52 -2.5 .51 0 .51 1.5 .51 0 .51 -.5 .51 1 .51 -.5 .52 -1.5 .51 3.5 .51 -6.5 .51 5.5 .51 -2 .51 -2 .51 1 .51 2 .52 1 .51 -2 .51 .5 .51 -1 .51 .5 .51 .5 .51 1.5 .51 -3 .52 1.5 .51 -1.5 .51 3 .51 .5 .51 -2 .51 -.5 .51 .5 .51 -1.5 .52 1.5 .51 -2.5 .51 3 .51 .5 .51 -1 .51 -2 .51 2.5 .52 -1.5 .51 -.5 .51 0 .51 -1 .51 -1.5 .51 2.5 .51 1.5 .51 -.5 .52 0 .51 -2 .51 2 .51 .5 .51 -2.5 .51 1 .51 3.5 .51 -4 .52 1 .51 .5 .51 -1.5 .51 1 .51 6 .51 -4.5 .51 -3 .51 1.5 .52 0 .51 -.5 .51 .5 .51 0 .51 -2 .51 2.5 .51 -1 .52 -1.5 .51 0 .51 -3 .51 3 .51 -1.5 .51 2 .51 1.5 .51 -5 .52 .5 .51 -1.5 .51 .5 .51 0 .51 -2.5 .51 -1 .51 -1 .51 -1.5 .52 -3 .51 -2 .51 -7.5 .51 2 .51 -4.5 .51 -3 .51 -4.5 .51 -6.5 .52 -5.5 .51 -5 .51 -4.5 .51 -4 .51 -1.5 .51 1.5 .51 1.5 .52 2 .51 2.5 .51 3 .51 4 .51 5.5 .51 4.5 .51 4 .51 2 .52 6.5 .51 3 .51 -3 .51 9.5 .51 1 .51 3 .51 -1.5 .51 3 .52 .5 .51 .5 .51 3.5 .51 0 .51 1 .51 2 .51 -3.5 .51 2.5 .52 -1.5 .51 3 .51 0 .51 -3 .51 2.5 .51 .5 .51 .5 .52 -1 .51 .5 .51 -1 .51 3 .51 -1 .51 0 .51 -.5 .51 1 .52 -.5 .51 2 .51 -1.5 .51 0 .51 1.5 .51 -.5 .51 -1.5 .51 .5 .52 1 .51 -.5 .51 -.5 .51 1 .51 -1 .51 7.5 .51 -5.5 .51 -2.5 .52 2 .51 0 .51 -4.5 .51 4.5 .51 -3 .51 1.5 .51 .5 .52 -1 .51 0 .51 2 .51 -.5 .51 .5 .51 -2 .51 1 .51 0 .52 .5 .51 .5 .51 -2.5 .51 .5 .51 2 .51 1 .51 -1 .51 -2 .52 -.5 .51 .5 .51 1 .51 -2.5 .51 1 .51 4 .51 -6 .51 1 .52 1.5 .51 1 .51 -2 .51 0 .51 -1.5 .51 .5 .51 1 .52 -1.5 .51 -1 .51 -2.5 .51 1.5 .51 -1.5 .51 .5 .51 -2 .51 -2 .52 1 .51 -2 .51 -8 .51 5.5 .51 -3 .51 0 .51 -2 .51 -2.5 .52 0 .51 -1 .51 .5 .51 -.5 .51 1 .51 -.5 .51 1.5 .51 1 .52 1 .51 0 .51 2.5 .51 3.5 .51 -.5 .51 1.5 .51 -.5 .52 6 .51 -1 .51 2 .51 -3 .51 -.5 .51 3 .51 5 .51 -3 .52 -1 .51 1.5 .51 -3 .51 7 .51 -2 .51 .5 .51 -2 .51 1.5 .52 -.5 .51 -.5 .51 .5 .51 .5 .51 .5 .51 3 .51 -3.5 .51 .5 .52 -2 .51 2 .51 1.5 .51 -2.5 .51 2.5 .51 -.5 .51 -.5 .52 -1.5 .51 1.5 .51 -1.5 .51 .5 .51 1 .51 .5 .51 -1 .51 1.5 .52 -1.5 .51 -.5 .51 -1 .51 5.5 .51 -4 .51 1.5 .51 .5 .51 5 .52 -5.5 .51 0 .51 -1.5 .51 1 .51 .5 .51 -2 .51 3 .51 -3.5 .52 .5 .51 1.5 .51 -2.5 .51 1 .51 2.5 .51 -2 .51 -1.5 .52 1.5 .51 1 .51 4.5 .51 -2 .51 -6 .51 2 .51 -6.5 .51 5.5 .52 -2 .51 1.5 .51 -.5 .51 0 .51 -1.5 .51 0 .51 1 .51 -4 .52 1.5 .51 -.5 .51 -2.5 .51 -.5 .51 -2.5 .51 -1.5 .51 -1 .51 -3.5 .52 -3 .51 -4 .51 -3.5 .51 -2.5 .51 -3.5 .51 -3.5 .51 -1.5 .52 1.5 .51 0 .51 -3.5 .51 7 .51 .5 .51 1.5 .51 4 .51 3.5 .52 -.5 .51 6 .51 2.5 .51 4.5 .51 3 .51 -1.5 .51 .5 .51 1.5 .52 2.5 .51 1.5 .51 -.5 .51 1 .51 2 .51 -1 .51 1 .51 -1 .52 2.5 .51 1 .51 .5 .51 -9.5 .51 8 .51 1.5 .51 -1.5 .52 0 .51 -.5 .51 2 .51 -.5 .51 -1.5 .51 1.5 .51 0 .51 -5 .52 5 .51 1.5 .51 -2 .51 3 .51 -1.5 .51 0 .51 1 .51 -1.5 .52 0 .51 0 .51 0 .51 -2 .51 3 .51 -3.5 .51 10.5 .51 -8.5 .52 1 .51 0 .51 0 .51 -.5 .51 5.5 .51 -5.5 .51 4 .52 -3 .51 -2 .51 1 .51 1.5 .51 -.5 .51 .5 .51 0 .51 -1.5 .52 .5 .51 -1.5 .51 6 .51 -5 .51 0 .51 1.5 .51 -2.5 .51 2.5 .52 4 .51 -4.5 .51 -.5 .51 -.5 .51 0 .51 1.5 .51 -1.5 .51 1 .52 -.5 .51 2 .51 -2.5 .51 0 .51 1.5 .51 -2 .51 2 .51 -.5 .52 -1.5 .51 0 .51 0 .51 -.5 .51 4.5 .51 -2 .51 -.5 .52 -1 .51 -1 .51 1 .51 2 .51 1.5 .51 -3.5 .51 1.5 .51 -1.5 .52 1.5 .51 -1 .51 -.5 .51 1.5 .51 1 .51 0 .51 -.5 .51 -6.5 .52 4.5 .51 13.5 .51 -8 .51 -3.5 .51 0 .51 0 .51 -1 .51 0 .52 0 .51 -1 .51 1 .51 .5 .51 0 .51 1 .51 -1.5 .52 -1.5 .51 5.5 .51 -5.5 .51 7 .51 -6.5 .51 7 .51 -6.5 .51 .5 .52 0 .51 -.5 .51 .5 .51 3 .51 -4 .51 1.5 .51 0 .51 -2.5 .52 4 .51 -2 .51 -1.5 .51 -1 .51 2 .51 .5 .51 1 .51 -1.5 .52 -1.5 .51 3 .51 -1.5 .51 .5 .51 -2 .51 2 .51 5.5 .52 -6.5 .51 .5 .51 3 .51 -.5 .51 -2 .51 -.5 .51 0 .51 -2.5 .52 1 .51 -1.5 .51 2 .51 0 .51 -.5 .51 1.5 .51 -2 .51 -.5 .52 -1 .51 -1.5 .51 1.5 .51 -2.5 .51 1.5 .51 -2.5 .51 -.5 .51 -3.5 .52 1 .51 0 .51 -3.5 .51 0 .51 -2.5 .51 -1.5 .51 .5 .52 0 .51 .5 .51 0 .51 -.5 .51 3 .51 -.5 .51 3 .51 -5.5 .52 8.5 .51 -.5 .51 1.5 .51 1.5 .51 -1 .51 3.5 .51 1 .51 5 .52 -5.5 .51 .5 .51 -.5 .51 .5 .51 1 .51 1.5 .51 -1 .51 2 .52 -2 .51 1 .51 -1 .51 2.5 .51 -2.5 .51 1.5 .51 .5 .52 -3 .51 1.5 .51 0 .51 .5 .51 1.5 .51 -1.5 .51 1 .51 -4.5 .52 6 .51 -1.5 .51 -.5 .51 .5 .51 -.5 .51 -.5 .51 2 .51 -1 .52 .5 .51 -2 .51 2 .51 -.5 .51 -1 .51 0 .51 .5 .51 1.5 .52 -2.5 .51 1 .51 .5 .51 1 .51 -2.5 .51 1.5 .51 .5 .52 -1 .51 -1 .51 2.5 .51 -2 .51 -1.5 .51 0 .51 .5 .51 4 .52 -7 .51 5.5 .51 -3 .51 -1 .51 -.5 .51 0 .51 -1 .51 -1.5 .52 0 .51 -2.5 .51 -.5 .51 -.5 .51 -3 .51 -2 .51 -1.5 .51 -3.5 .52 -5 .51 .5 .51 -5.5 .51 -3 .51 -2.5 .51 -2 .51 -.5 .52 1 .51 1.5 .51 .5 .51 3.5 .51 -3 .51 4 .51 3 .51 3 .52 3 .51 2.5 .51 2.5 .51 4 .51 -.5 .51 0 .51 4 .51 1 .52 0 .51 4 .51 -3 .51 4.5 .51 1 .51 -1.5 .51 .5 .51 .5 .52 1 .51 -2 .51 1.5 .51 0 .51 0 .51 -.5 .51 3 .52 -1 .51 -1 .51 -.5 .51 1.5 .51 .5 .51 1 .51 -2 .51 3.5 .52 -1.5 .51 -1.5 .51 .5 .51 .5 .51 .5 .51 -.5 .51 -4 .51 .5 .52 3.5 .51 2.5 .51 -2 .51 .5 .51 0 .51 -.5 .51 -1.5 .51 1.5 .52 0 .51 7 .51 -5 .51 1 .51 -3.5 .51 -1.5 .51 1 .52 2 .51 -.5 .51 1.5 .51 -1.5 .51 1 .51 -.5 .51 .5 .51 -.5 .52 -7 .51 4.5 .51 2 .51 .5 .51 0 .51 1 .51 -1 .51 0 .52 -.5 .51 -.5 .51 -1 .51 -2.5 .51 .5 .51 5 .51 -2.5 .51 0 .52 1 .51 2 .51 -.5 .51 .5 .51 -4.5 .51 2 .51 0 .52 0 .51 1.5 .51 -.5 .51 3 .51 -2 .51 -1 .51 -6 .51 4.5 .52 2.5 .51 4 .51 -6 .51 6 .51 -6 .51 2 .51 -4 .51 3 .52 5.5 .51 -5 .51 0 .51 0 .51 -1.5 .51 -1 .51 2 .51 -.5 .52 -.5 .51 .5 .51 .5 .51 -2.5 .51 1.5 .51 1.5 .51 1 .52 -1.5 .51 .5 .51 .5 .51 -.5 .51 -4 .51 5.5 .51 -1.5 .51 -.5 .52 -1 .51 3 .51 .5 .51 -3 .51 -1 .51 1 .51 0 .51 0 .52 2L953.01 692.5Z"/><path fill="none" stroke-miterlimit="40" d="M38.31 636.5l.51 -4 .51 -10 .51 -9.5 .51 -10 .51 -13.5 .52 -9.5 .51 0 .51 2 .51 6 .51 9.5 .51 10 .51 11.5M39.84 613.0l.51 -10 .51 -13.5 .52 -9.5 .51 0 .51 2 .51 6 .51 9.5 .51 10 .51 11.5 .51 8.5 .52 14M220.33 652.5l.51 -3 .51 -5.5 .51 0 .51 -7 .51 -2 .52 -4.5 .51 -3.5 .51 -2 .51 4 .51 -1.5 .51 3.5 .51 3.5 .51 2.5 .52 11 .51 -2.5 .51 2.5M221.35 644.0l.51 0 .51 -7 .51 -2 .52 -4.5 .51 -3.5 .51 -2 .51 4 .51 -1.5 .51 3.5 .51 3.5 .51 2.5 .52 11 .51 -2.5 .51 2.5M439.16 632.5l.51 -8.5 .51 -8.5 .51 -10.5 .51 -10 .52 -10.5 .51 -8.5 .51 -7.5 .51 -4.5 .51 0 .51 2 .51 4 .51 6.5 .52 7.5 .51 10.5 .51 7.5 .51 10M440.69 605.0l.51 -10 .52 -10.5 .51 -8.5 .51 -7.5 .51 -4.5 .51 0 .51 2 .51 4 .51 6.5 .52 7.5 .51 10.5 .51 7.5 .51 10M618.11 643.5l.51 -3 .51 -4.5 .51 -6.5 .52 -5.5 .51 -5 .51 -4.5 .51 -4 .51 -1.5 .51 1.5 .51 1.5 .52 2 .51 2.5 .51 3 .51 4 .51 5.5 .51 4.5M619.64 629.5l.52 -5.5 .51 -5 .51 -4.5 .51 -4 .51 -1.5 .51 1.5 .51 1.5 .52 2 .51 2.5 .51 3 .51 4 .51 5.5 .51 4.5M675.89 659.5l.51 -8 .51 5.5 .51 -3 .51 0 .51 -2 .51 -2.5 .52 0 .51 -1 .51 .5 .51 -.5 .51 1 .51 -.5 .51 1.5 .51 1 .52 1 .51 0M731.62 646.0l.51 -3.5 .51 -2.5 .51 -3.5 .51 -3.5 .51 -1.5 .52 1.5 .51 0 .51 -3.5 .51 7 .51 .5 .51 1.5 .51 4 .51 3.5 .52 -.5 .51 6M732.13 642.5l.51 -2.5 .51 -3.5 .51 -3.5 .51 -1.5 .52 1.5 .51 0 .51 -3.5 .51 7 .51 .5 .51 1.5 .51 4 .51 3.5 .52 -.5 .51 6 .51 2.5M876.82 656.5l.51 -3.5 .52 -5 .51 .5 .51 -5.5 .51 -3 .51 -2.5 .51 -2 .51 -.5 .52 1 .51 1.5 .51 .5 .51 3.5 .51 -3 .51 4 .51 3 .51 3M878.87 643.0l.51 -3 .51 -2.5 .51 -2 .51 -.5 .52 1 .51 1.5 .51 .5 .51 3.5 .51 -3 .51 4 .51 3 .51 3"/><path fill="#0040FF" d="M15.30 733.5L15.30 701.5l.51 -1 .51 -2 .51 -1 .52 2.5 .51 -1 .51 -1.5 .51 1.5 .51 .5 .51 .5 .51 .5 .51 -4.5 .52 2.5 .51 -1.5 .51 -5.5 .51 7.5 .51 0 .51 -2.5 .51 3.5 .51 -2 .52 5.5 .51 -4.5 .51 -4.5 .51 4.5 .51 -.5 .51 -1 .51 -1.5 .51 -1.5 .52 4.5 .51 -3 .51 8.5 .51 -5.5 .51 -2 .51 1 .51 8 .52 -9 .51 -4.5 .51 2 .51 -1.5 .51 -1.5 .51 -2 .51 -2 .51 4 .52 -8 .51 -6.5 .51 -4.5 .51 -7 .51 -9 .51 -11 .51 -10.5 .51 -9 .52 -1.5 .51 3 .51 5 .51 8.5 .51 10 .51 12.5 .51 6 .51 7.5 .52 2 .51 6.5 .51 1.5 .51 4 .51 1 .51 1.5 .51 3.5 .52 0 .51 -.5 .51 1 .51 2 .51 0 .51 1 .51 -3 .51 1.5 .52 1 .51 -1 .51 0 .51 -1 .51 .5 .51 2.5 .51 0 .51 .5 .52 0 .51 -2 .51 -1.5 .51 4.5 .51 -2.5 .51 -1.5 .51 2 .51 -.5 .52 .5 .51 2 .51 -1.5 .51 .5 .51 2.5 .51 -3 .51 1.5 .52 -1 .51 -4.5 .51 4 .51 1.5 .51 -1 .51 -.5 .51 4 .51 -5.5 .52 2.5 .51 .5 .51 -1 .51 0 .51 2.5 .51 -1.5 .51 -1 .51 -1.5 .52 .5 .51 -2.5 .51 4 .51 0 .51 10.5 .51 -11.5 .51 0 .51 2.5 .52 -2 .51 3.5 .51 -3.5 .51 -.5 .51 2.5 .51 -2.5 .51 .5 .52 .5 .51 -1.5 .51 3.5 .51 1.5 .51 -3 .51 -1 .51 0 .51 1 .52 3.5 .51 -5 .51 1.5 .51 -.5 .51 1 .51 1 .51 -2 .51 .5 .52 .5 .51 .5 .51 .5 .51 3 .51 -4.5 .51 -1.5 .51 2.5 .51 -1 .52 -.5 .51 .5 .51 2.5 .51 2.5 .51 -3 .51 -.5 .51 -.5 .52 .5 .51 -.5 .51 -3 .51 1.5 .51 2 .51 -1.5 .51 -.5 .51 13.5 .52 -10.5 .51 -2.5 .51 3.5 .51 -5 .51 1.5 .51 1 .51 3 .51 -3 .52 2.5 .51 -2.5 .51 .5 .51 -1.5 .51 -1.5 .51 3.5 .51 2.5 .51 -3 .52 .5 .51 0 .51 3.5 .51 -2.5 .51 4.5 .51 -9 .51 3.5 .52 -2 .51 -1.5 .51 3 .51 -1.5 .51 1 .51 -5 .51 6.5 .51 -1.5 .52 0 .51 2 .51 -2.5 .51 -.5 .51 3.5 .51 1.5 .51 -4.5 .51 6 .52 -6.5 .51 2.5 .51 9.5 .51 -10 .51 3.5 .51 0 .51 -4.5 .51 1 .52 1 .51 -4.5 .51 3.5 .51 0 .51 3.5 .51 -4 .51 -.5 .52 3.5 .51 0 .51 -2.5 .51 1.5 .51 -3 .51 0 .51 2 .51 -.5 .52 -3.5 .51 2.5 .51 -1 .51 -.5 .51 -.5 .51 -1.5 .51 3 .51 -2.5 .52 0 .51 6 .51 -6 .51 -1 .51 -4.5 .51 3.5 .51 1 .51 1 .52 0 .51 0 .51 -.5 .51 2 .51 -1.5 .51 4 .51 -3.5 .52 4.5 .51 -2 .51 1 .51 0 .51 -1 .51 -.5 .51 2 .51 1 .52 -2 .51 2 .51 1.5 .51 -3.5 .51 2 .51 0 .51 2 .51 -1 .52 10 .51 -9.5 .51 -3.5 .51 3.5 .51 -.5 .51 .5 .51 .5 .51 -2 .52 -1.5 .51 1 .51 4 .51 -3 .51 .5 .51 7.5 .51 -8 .52 -3.5 .51 5.5 .51 -1.5 .51 2 .51 -3 .51 1 .51 0 .51 1 .52 -3 .51 1.5 .51 1 .51 1 .51 -1.5 .51 .5 .51 -.5 .51 0 .52 0 .51 -3.5 .51 4 .51 7 .51 -6.5 .51 1.5 .51 -2 .51 -1.5 .52 2.5 .51 -2.5 .51 1 .51 -1.5 .51 0 .51 -.5 .51 1 .52 5 .51 -3 .51 1 .51 9.5 .51 -10 .51 -6.5 .51 4 .51 -2.5 .52 4 .51 .5 .51 -1.5 .51 1.5 .51 -4 .51 5.5 .51 -1 .51 -2 .52 3.5 .51 -3.5 .51 2.5 .51 0 .51 -1 .51 -1.5 .51 0 .51 1.5 .52 -1.5 .51 2.5 .51 -1 .51 -.5 .51 2 .51 -1.5 .51 1 .52 -3.5 .51 .5 .51 2 .51 -.5 .51 -6 .51 6 .51 4 .51 -1 .52 -2.5 .51 -.5 .51 -.5 .51 1.5 .51 -.5 .51 1 .51 -1 .51 1.5 .52 -2.5 .51 1 .51 1 .51 -2 .51 .5 .51 0 .51 -2 .51 1.5 .52 5 .51 -4 .51 -2 .51 1.5 .51 -1 .51 2.5 .51 -.5 .52 -2 .51 1.5 .51 .5 .51 1 .51 -2 .51 1.5 .51 -2.5 .51 -1 .52 3.5 .51 -3.5 .51 -1 .51 1.5 .51 -3.5 .51 0 .51 3 .51 1 .52 -4 .51 -1 .51 2 .51 -8 .51 1.5 .51 -.5 .51 -3 .51 -2 .52 -3.5 .51 -5 .51 -5 .51 -4 .51 -4.5 .51 -4 .51 -4 .52 -1 .51 .5 .51 3.5 .51 .5 .51 5 .51 5 .51 3.5 .51 5.5 .52 1.5 .51 6.5 .51 1.5 .51 2 .51 1.5 .51 1.5 .51 4.5 .51 0 .52 -.5 .51 -3.5 .51 5.5 .51 1 .51 -1.5 .51 3 .51 -3 .51 2.5 .52 -1 .51 2.5 .51 -4 .51 1.5 .51 .5 .51 1.5 .51 -1.5 .52 2 .51 -2.5 .51 .5 .51 -1.5 .51 3.5 .51 -2 .51 3 .51 -1.5 .52 1 .51 -2 .51 -1.5 .51 4 .51 -2 .51 2 .51 2 .51 -3 .52 1.5 .51 -1 .51 -1.5 .51 1.5 .51 -1.5 .51 1.5 .51 -2.5 .51 -4 .52 6 .51 0 .51 1 .51 1 .51 -1.5 .51 0 .51 -1 .52 1.5 .51 -2.5 .51 2.5 .51 -1.5 .51 0 .51 .5 .51 1 .51 4.5 .52 -6.5 .51 0 .51 2 .51 -.5 .51 2 .51 -3 .51 -2 .51 2.5 .52 2 .51 -1 .51 -1.5 .51 1 .51 2 .51 -2 .51 -1.5 .51 .5 .52 2 .51 -1.5 .51 1.5 .51 -3 .51 -1 .51 .5 .51 -.5 .51 5.5 .52 -5 .51 1.5 .51 -2.5 .51 3 .51 -2 .51 1 .51 0 .52 0 .51 .5 .51 -.5 .51 .5 .51 -1.5 .51 1 .51 .5 .51 0 .52 -2 .51 2.5 .51 -1.5 .51 0 .51 0 .51 0 .51 -.5 .51 -1 .52 .5 .51 1 .51 .5 .51 -.5 .51 -5.5 .51 6.5 .51 -5 .51 .5 .52 .5 .51 0 .51 -2 .51 .5 .51 0 .51 -4 .51 0 .52 0 .51 -1.5 .51 -1.5 .51 -4 .51 3.5 .51 -3.5 .51 -3.5 .51 -3 .52 -5.5 .51 -7 .51 -10.5 .51 -10.5 .51 -15 .51 -19.5 .51 -23.5 .51 -29 .52 -32 .51 -38 .51 -40 .51 -41.5 .51 -39.5 .51 -35.5 .51 -27.5 .51 -16.5 .52 -3 .51 11.5 .51 23.5 .51 33 .51 38.5 .51 42 .51 40 .52 38.5 .51 34.5 .51 30 .51 26 .51 21 .51 17.5 .51 12 .51 8 .52 10.5 .51 6 .51 3.5 .51 3 .51 3 .51 1.5 .51 8 .51 -5 .52 2 .51 .5 .51 .5 .51 2.5 .51 -2 .51 1 .51 9.5 .51 -8.5 .52 .5 .51 0 .51 0 .51 .5 .51 -1 .51 1.5 .51 -2 .52 5 .51 -1 .51 -2 .51 .5 .51 .5 .51 .5 .51 -.5 .51 1 .52 -.5 .51 1 .51 -1 .51 1 .51 .5 .51 2 .51 -1.5 .51 .5 .52 -1.5 .51 -1 .51 2.5 .51 .5 .51 -2.5 .51 0 .51 -.5 .51 2 .52 -2.5 .51 -1 .51 1 .51 0 .51 .5 .51 -1.5 .51 3 .52 -3 .51 -1.5 .51 0 .51 7 .51 -3.5 .51 -1 .51 1 .51 .5 .52 -1 .51 2.5 .51 -1 .51 2 .51 -1 .51 -2 .51 .5 .51 -1 .52 3 .51 -.5 .51 1.5 .51 .5 .51 -.5 .51 -.5 .51 -2.5 .51 3.5 .52 -1 .51 .5 .51 -2 .51 3 .51 -2.5 .51 1 .51 -2 .52 2 .51 .5 .51 -1.5 .51 6.5 .51 -5.5 .51 1 .51 -1.5 .51 5 .52 -4 .51 -.5 .51 0 .51 1 .51 .5 .51 -.5 .51 -.5 .51 0 .52 -2 .51 1.5 .51 1.5 .51 -.5 .51 1 .51 -1 .51 -2 .51 .5 .52 0 .51 0 .51 0 .51 -3 .51 4 .51 1.5 .51 -1.5 .52 0 .51 -3.5 .51 3 .51 .5 .51 0 .51 0 .51 -1.5 .51 3 .52 -1.5 .51 0 .51 2 .51 -2.5 .51 .5 .51 1 .51 -1.5 .51 2.5 .52 -2.5 .51 2.5 .51 -1.5 .51 -.5 .51 1.5 .51 -1 .51 -4 .51 4 .52 1 .51 -1.5 .51 0 .51 .5 .51 -1.5 .51 2 .51 1 .52 0 .51 -1 .51 -1 .51 0 .51 0 .51 .5 .51 -2 .51 2.5 .52 .5 .51 -3.5 .51 1.5 .51 0 .51 -.5 .51 2 .51 -2 .51 1.5 .52 -2 .51 2.5 .51 -1 .51 1 .51 -1 .51 1 .51 -2 .51 0 .52 1 .51 -1 .51 1 .51 3 .51 -1 .51 -3.5 .51 1.5 .52 -3.5 .51 2.5 .51 4.5 .51 -3 .51 -1 .51 .5 .51 2 .51 0 .52 9 .51 -10.5 .51 1.5 .51 -2 .51 1 .51 4 .51 .5 .51 -5 .52 2.5 .51 -1 .51 -1.5 .51 .5 .51 -3.5 .51 2.5 .51 .5 .51 -.5 .52 2 .51 -1 .51 2.5 .51 0 .51 -1 .51 2.5 .51 -5.5 .52 -.5 .51 1 .51 -3 .51 3 .51 2.5 .51 -2.5 .51 0 .51 1 .52 3.5 .51 -5 .51 -.5 .51 2.5 .51 -.5 .51 -4 .51 4 .51 -4 .52 1.5 .51 3.5 .51 -3 .51 0 .51 -2 .51 3 .51 -2.5 .51 -.5 .52 1.5 .51 -4 .51 1 .51 -1 .51 1 .51 -1 .51 0 .52 0 .51 -3 .51 -2.5 .51 -3 .51 -1.5 .51 -3 .51 -4.5 .51 -5 .52 -6.5 .51 -6.5 .51 -11 .51 -8.5 .51 -9.5 .51 -10 .51 -8.5 .51 -7.5 .52 -4 .51 -1.5 .51 1.5 .51 5.5 .51 5 .51 7.5 .51 8.5 .51 9.5 .52 9 .51 10 .51 8 .51 5 .51 4.5 .51 5.5 .51 6 .52 3 .51 1 .51 1 .51 3 .51 2 .51 1.5 .51 -1 .51 1 .52 2 .51 1 .51 -3 .51 3 .51 -2.5 .51 2.5 .51 .5 .51 -3 .52 5 .51 1 .51 -3 .51 .5 .51 -.5 .51 1.5 .51 1.5 .51 8 .52 -10.5 .51 3 .51 -.5 .51 -2 .51 4 .51 -4 .51 -1 .52 2 .51 7.5 .51 -7 .51 -.5 .51 -.5 .51 2 .51 -2 .51 1.5 .52 -2 .51 .5 .51 0 .51 2 .51 -1 .51 4 .51 -4 .51 7.5 .52 -7.5 .51 -2 .51 2.5 .51 0 .51 -2 .51 2 .51 -1 .51 1 .52 1 .51 .5 .51 -3 .51 2 .51 -1 .51 0 .51 -.5 .52 -1 .51 1 .51 1.5 .51 -1.5 .51 1 .51 -1 .51 1.5 .51 -1 .52 1.5 .51 -4 .51 .5 .51 1.5 .51 -.5 .51 0 .51 .5 .51 6 .52 -6.5 .51 -.5 .51 -.5 .51 3.5 .51 -1.5 .51 -2 .51 -2 .51 5 .52 -2 .51 -2.5 .51 1.5 .51 0 .51 0 .51 -1.5 .51 1 .52 -3.5 .51 3 .51 -2 .51 -1 .51 1 .51 -1 .51 .5 .51 -.5 .52 -4 .51 -.5 .51 -.5 .51 -2 .51 .5 .51 -3.5 .51 4.5 .51 -3 .52 .5 .51 2.5 .51 1.5 .51 -2.5 .51 4 .51 2.5 .51 -2.5 .51 1.5 .52 1.5 .51 -2 .51 2.5 .51 .5 .51 1.5 .51 1.5 .51 -1 .52 0 .51 .5 .51 .5 .51 0 .51 1.5 .51 -1 .51 -.5 .51 0 .52 1 .51 .5 .51 .5 .51 -1.5 .51 -3.5 .51 5.5 .51 .5 .51 -.5 .52 2.5 .51 -2.5 .51 2.5 .51 -4 .51 3.5 .51 -2.5 .51 1 .51 .5 .52 -2.5 .51 1 .51 .5 .51 .5 .51 -.5 .51 -1 .51 -1 .52 1.5 .51 2.5 .51 3 .51 -3.5 .51 -2 .51 2.5 .51 -2.5 .51 2 .52 -2 .51 1 .51 -2 .51 .5 .51 2 .51 -1 .51 4 .51 -1 .52 -7 .51 5 .51 1.5 .51 -1.5 .51 -1.5 .51 1.5 .51 1 .51 -3 .52 1.5 .51 -.5 .51 5.5 .51 -5 .51 .5 .51 -.5 .51 -.5 .52 .5 .51 1 .51 0 .51 -2 .51 0 .51 -1 .51 1.5 .51 .5 .52 .5 .51 0 .51 -.5 .51 .5 .51 1.5 .51 -5.5 .51 2 .51 .5 .52 2 .51 -2 .51 0 .51 .5 .51 1.5 .51 0 .51 -.5 .51 0 .52 1.5 .51 -3 .51 4 .51 -5 .51 1 .51 2.5 .51 -2 .52 2 .51 -2.5 .51 -1 .51 .5 .51 2 .51 -1 .51 1 .51 -8 .52 9.5 .51 -1 .51 -1 .51 .5 .51 0 .51 0 .51 -2 .51 0 .52 1.5 .51 .5 .51 -1 .51 0 .51 1.5 .51 2 .51 -2 .51 -.5 .52 -1 .51 0 .51 0 .51 2 .51 -2.5 .51 9 .51 -1.5 .52 -3 .51 -2.5 .51 .5 .51 .5 .51 0 .51 -1.5 .51 -1.5 .51 4.5 .52 -2 .51 -4 .51 3 .51 -2.5 .51 2.5 .51 0 .51 0 .51 1 .52 -1 .51 -.5 .51 1 .51 -2 .51 1.5 .51 -1 .51 -3 .51 4.5 .52 0 .51 -1.5 .51 1 .51 0 .51 3 .51 -4 .51 .5 .52 1 .51 -.5 .51 -4.5 .51 7.5 .51 -2.5 .51 1 .51 -2 .51 0 .52 1 .51 0 .51 5 .51 -5.5 .51 -2.5 .51 1 .51 1.5 .51 -.5 .52 -1 .51 .5 .51 -1 .51 -5 .51 6 .51 -.5 .51 -3 .51 2.5 .52 1.5 .51 4.5 .51 -6.5 .51 0 .51 0 .51 0 .51 0 .52 -1 .51 0 .51 -1 .51 .5 .51 -1.5 .51 -1.5 .51 0 .51 -1 .52 -1.5 .51 -.5 .51 -.5 .51 -1 .51 -2 .51 -1 .51 -3.5 .51 -4 .52 -1.5 .51 -3 .51 -6 .51 -5.5 .51 -4 .51 -6 .51 -5 .51 -2.5 .52 -3 .51 -1.5 .51 3 .51 1.5 .51 2.5 .51 2 .51 4 .52 3.5 .51 5 .51 5 .51 4 .51 4 .51 4 .51 4 .51 1.5 .52 2 .51 3 .51 -.5 .51 1.5 .51 0 .51 3.5 .51 -1 .51 -3 .52 5 .51 .5 .51 .5 .51 .5 .51 .5 .51 -1 .51 1.5 .51 .5 .52 0 .51 .5 .51 .5 .51 1 .51 -2 .51 1 .51 1.5 .52 -.5 .51 -1 .51 0 .51 -2 .51 3.5 .51 -.5 .51 -2 .51 2.5 .52 2 .51 -4 .51 2.5 .51 -1.5 .51 .5 .51 -2 .51 2.5 .51 2 .52 -2.5 .51 2.5 .51 -2.5 .51 1.5 .51 -5 .51 6 .51 -3 .51 -3.5 .52 3.5 .51 .5 .51 1 .51 -3 .51 3 .51 -1.5 .51 1.5 .52 3 .51 -4.5 .51 1 .51 -2 .51 2.5 .51 -2 .51 -1.5 .51 2.5 .52 -2.5 .51 -1.5 .51 3 .51 4 .51 -5 .51 3 .51 -2 .51 1 .52 -.5 .51 -1 .51 1.5 .51 -3.5 .51 3 .51 2.5 .51 -5 .51 .5 .52 0 .51 2 .51 -1.5 .51 0 .51 -2 .51 1 .51 -3 .52 -1.5 .51 1 .51 1 .51 -2.5 .51 -1 .51 -2 .51 2 .51 2.5 .52 -7 .51 -2.5 .51 -1 .51 -1 .51 -1.5 .51 1 .51 -2 .51 0 .52 .5 .51 0 .51 0 .51 2 .51 1 .51 .5 .51 3 .51 3 .52 -1 .51 0 .51 .5 .51 2 .51 1.5 .51 .5 .51 3 .52 -1 .51 -.5 .51 1 .51 1.5 .51 -9 .51 11 .51 -.5 .51 -1 .52 2.5 .51 0 .51 -1.5 .51 0 .51 -.5 .51 2 .51 -5.5 .51 4 .52 2 .51 0 .51 -1 .51 0 .51 -1.5 .51 7 .51 -5 .51 -9 .52 8.5 .51 4.5 .51 -2.5 .51 -2 .51 5.5 .51 -6 .51 0 .52 .5 .51 .5 .51 .5 .51 -.5 .51 -4 .51 5 .51 -.5 .51 .5 .52 1.5 .51 -3 .51 -.5 .51 -.5 .51 1 .51 -.5 .51 1 .51 2 .52 -4.5 .51 2.5 .51 -2 .51 -3 .51 5 .51 -1.5 .51 0 .51 -1 .52 0 .51 -1 .51 .5 .51 2 .51 -1 .51 1 .51 -1.5 .52 -1 .51 -.5 .51 2 .51 -3 .51 -2 .51 4 .51 -3.5 .51 -.5 .52 .5 .51 -1 .51 .5 .51 -5.5 .51 -.5 .51 -2.5 .51 -2 .51 -3.5 .52 -2.5 .51 -2.5 .51 -4.5 .51 -5.5 .51 -2.5 .51 -3 .51 -2.5 .51 -.5 .52 .5 .51 2.5 .51 1.5 .51 1.5 .51 1.5 .51 3 .51 3.5 .52 4 .51 3 .51 4.5 .51 .5 .51 4.5 .51 -3 .51 5 .51 1.5 .52 .5 .51 2 .51 .5 .51 0 .51 3 .51 2.5 .51 .5 .51 -.5 .52 0 .51 .5 .51 -3 .51 2 .51 2 .51 -.5 .51 -1.5 .51 1 .52 0 .51 .5 .51 2.5 .51 -2.5 .51 .5 .51 -1 .51 -1.5 .52 2 .51 .5 .51 .5 .51 0 .51 .5 .51 .5 .51 0 .51 -1.5 .52 1.5 .51 1 .51 -2.5 .51 2 .51 0 .51 -1.5 .51 .5 .51 1 .52 -1.5 .51 -1.5 .51 0 .51 3.5 .51 -1 .51 -2 .51 3.5 .51 -3 .52 2.5 .51 -2.5 .51 .5 .51 3.5 .51 -5 .51 1 .51 0 .52 .5 .51 2 .51 -2.5 .51 .5 .51 3.5 .51 -4 .51 3.5 .51 -2 .52 0 .51 5.5 .51 -6 .51 -2.5 .51 2.5 .51 -5 .51 3 .51 2.5 .52 -2 .51 3.5 .51 -3 .51 -1.5 .51 1.5 .51 .5 .51 0 .51 1 .52 .5 .51 0 .51 -1.5 .51 2 .51 -1 .51 2.5 .51 -4 .51 10 .52 -6 .51 -1.5 .51 -.5 .51 -3.5 .51 3.5 .51 2 .51 -3.5 .52 -1 .51 2 .51 6.5 .51 -8 .51 0 .51 5.5 .51 -4 .51 4 .52 -4 .51 -.5 .51 .5 .51 -1 .51 2.5 .51 0 .51 -1.5 .51 -2.5 .52 4 .51 -2 .51 -7 .51 7 .51 1 .51 3 .51 -2.5 .51 -2.5 .52 2 .51 1.5 .51 -3 .51 3 .51 0 .51 -.5 .51 -5 .52 -5 .51 6.5 .51 1.5 .51 .5 .51 -1 .51 .5 .51 1 .51 -2 .52 -1 .51 2 .51 -3 .51 2.5 .51 1 .51 -.5 .51 .5 .51 .5 .52 .5 .51 -2 .51 0 .51 .5 .51 2.5 .51 -3.5 .51 3.5 .51 -5 .52 0 .51 1 .51 0 .51 1 .51 .5 .51 -.5 .51 0 .52 0 .51 2 .51 -6.5 .51 3.5 .51 4 .51 -3.5 .51 -1 .51 1 .52 -2 .51 0 .51 -3 .51 3 .51 1.5 .51 -1 .51 2 .51 -4 .52 -.5 .51 0 .51 -.5 .51 -3 .51 .5 .51 1 .51 -2 .51 -1 .52 -1 .51 -3.5 .51 2.5 .51 -.5 .51 -1.5 .51 4 .51 -1.5 .52 1.5 .51 -2 .51 -6.5 .51 12 .51 -3 .51 -.5 .51 3 .51 .5 .52 -.5 .51 3 .51 8 .51 -8 .51 2 .51 -1.5 .51 1 .51 .5 .52 2 .51 -3 .51 1.5 .51 -2 .51 2 .51 -1.5 .51 2 .51 0 .52 .5 .51 -1.5 .51 1 .51 -1.5 .51 2 .51 -2 .51 -2.5 .52 3.5 .51 1.5 .51 0 .51 -3.5 .51 2.5 .51 0 .51 -1 .51 0 .52 0 .51 -.5 .51 4.5 .51 -1 .51 2 .51 -6.5 .51 1.5 .51 1.5 .52 2 .51 -3.5 .51 1 .51 0 .51 3 .51 4 .51 -7.5 .51 1.5 .52 -2.5 .51 .5 .51 2.5 .51 -4 .51 -2.5 .51 4.5 .51 -1 .52 -.5 .51 -.5 .51 -2.5 .51 3 .51 0 .51 1.5 .51 0 .51 -2.5 .52 .5 .51 -1 .51 -1.5 .51 -.5 .51 0 .51 -.5 .51 2.5 .51 -3 .52 -1 .51 -1.5 .51 -2 .51 -2 .51 0 .51 -3 .51 -1.5 .51 -4 .52 -4 .51 -2.5 .51 -2 .51 -3 .51 0 .51 0 .51 -.5 .52 1 .51 -.5 .51 3 .51 1 .51 1.5 .51 2.5 .51 2.5 .51 3 .52 .5 .51 4.5 .51 1 .51 3 .51 .5 .51 -.5 .51 2.5 .51 2 .52 1 .51 -.5 .51 -.5 .51 1.5 .51 1.5 .51 .5 .51 -1.5 .51 -.5 .52 3.5 .51 2 .51 .5 .51 -2 .51 3 .51 -4 .51 4.5 .52 -2.5 .51 -.5 .51 -1 .51 1 .51 1 .51 .5 .51 -1.5 .51 -.5 .52 1 .51 0 .51 -1 .51 0 .51 0 .51 .5 .51 1 .51 -2 .52 2 .51 -2 .51 6.5 .51 -5 .51 -2 .51 1 .51 6 .51 -7 .52 1.5 .51 .5 .51 1 .51 -1 .51 -1 .51 0 .51 1.5 .52 -2 .51 0 .51 3.5 .51 -2 .51 3.5 .51 3 .51 -5.5 .51 -2 .52 .5 .51 5 .51 -3 .51 -.5 .51 -1.5 .51 .5 .51 .5 .51 -.5 .52 .5 .51 -1 .51 1.5 .51 -2 .51 1 .51 0 .51 0 .51 -.5 .52 2.5 .51 -4 .51 .5 .51 4 .51 -5.5 .51 5 .51 5 .52 -8.5 .51 1.5 .51 -1 .51 -.5 .51 1 .51 0 .51 .5 .51 -1.5 .52 1.5 .51 .5 .51 -1 .51 5 .51 -4 .51 -1 .51 .5 .51 -4.5 .52 4.5 .51 -2 .51 2 .51 -.5 .51 2 .51 -1.5 .51 1 .51 0 .52 0 .51 0 .51 -1.5 .51 1 .51 -2 .51 4 .51 -2.5 .52 -.5 .51 -1 .51 0 .51 5 .51 -2.5 .51 -1 .51 4 .51 -5.5 .52 .5 .51 .5 .51 1.5 .51 1 .51 -2.5 .51 .5 .51 2 .51 -3 .52 2L953.01 733.5Z"/><path fill="none" stroke-miterlimit="40" d="M37.80 677.0l.51 -4.5 .51 -7 .51 -9 .51 -11 .51 -10.5 .51 -9 .52 -1.5 .51 3 .51 5 .51 8.5 .51 10 .51 12.5 .51 6M39.33 656.5l.51 -11 .51 -10.5 .51 -9 .52 -1.5 .51 3 .51 5 .51 8.5 .51 10 .51 12.5 .51 6 .51 7.5 .52 2M219.30 691.5l.52 -3.5 .51 -5 .51 -5 .51 -4 .51 -4.5 .51 -4 .51 -4 .52 -1 .51 .5 .51 3.5 .51 .5 .51 5 .51 5 .51 3.5 .51 5.5 .52 1.5M220.33 683.0l.51 -5 .51 -4 .51 -4.5 .51 -4 .51 -4 .52 -1 .51 .5 .51 3.5 .51 .5 .51 5 .51 5 .51 3.5 .51 5.5 .52 1.5M438.14 668.5l.51 -11 .51 -8.5 .51 -9.5 .51 -10 .51 -8.5 .51 -7.5 .52 -4 .51 -1.5 .51 1.5 .51 5.5 .51 5 .51 7.5 .51 8.5 .51 9.5 .52 9 .51 10M439.16 649.0l.51 -9.5 .51 -10 .51 -8.5 .51 -7.5 .52 -4 .51 -1.5 .51 1.5 .51 5.5 .51 5 .51 7.5 .51 8.5 .51 9.5 .52 9 .51 10M616.58 686.5l.51 -6 .51 -5.5 .51 -4 .51 -6 .51 -5 .51 -2.5 .52 -3 .51 -1.5 .51 3 .51 1.5 .51 2.5 .51 2 .51 4 .52 3.5 .51 5 .51 5M618.11 671.0l.51 -6 .51 -5 .51 -2.5 .52 -3 .51 -1.5 .51 3 .51 1.5 .51 2.5 .51 2 .51 4 .52 3.5 .51 5 .51 5M674.35 703.5l.51 2.5 .52 -7 .51 -2.5 .51 -1 .51 -1 .51 -1.5 .51 1 .51 -2 .51 0 .52 .5 .51 0 .51 0 .51 2 .51 1 .51 .5 .51 3M726.50 691.5l.52 -2.5 .51 -2.5 .51 -4.5 .51 -5.5 .51 -2.5 .51 -3 .51 -2.5 .51 -.5 .52 .5 .51 2.5 .51 1.5 .51 1.5 .51 1.5 .51 3 .51 3.5 .52 4M728.04 682.0l.51 -5.5 .51 -2.5 .51 -3 .51 -2.5 .51 -.5 .52 .5 .51 2.5 .51 1.5 .51 1.5 .51 1.5 .51 3 .51 3.5 .52 4M876.82 694.5l.51 -4 .52 -4 .51 -2.5 .51 -2 .51 -3 .51 0 .51 0 .51 -.5 .52 1 .51 -.5 .51 3 .51 1 .51 1.5 .51 2.5 .51 2.5 .51 3"/><path fill="#2B00FF" d="M15.30 774.5L15.30 740.5l.51 1.5 .51 -2 .51 1.5 .52 2.5 .51 -.5 .51 -3 .51 0 .51 0 .51 2 .51 -1.5 .51 0 .52 0 .51 .5 .51 -2 .51 2 .51 .5 .51 -3 .51 4 .51 -2 .52 -.5 .51 3.5 .51 -2 .51 .5 .51 0 .51 -2 .51 1.5 .51 2.5 .52 -2.5 .51 -2.5 .51 0 .51 2 .51 -2 .51 -.5 .51 2 .52 -2 .51 -2.5 .51 -3 .51 5 .51 -5.5 .51 1 .51 -2.5 .51 -2 .52 -4 .51 -5 .51 -7.5 .51 -8 .51 -8.5 .51 -9.5 .51 -7.5 .51 -1.5 .52 3 .51 4.5 .51 7 .51 7.5 .51 11 .51 6 .51 5.5 .51 4 .52 4 .51 3 .51 1.5 .51 2.5 .51 -.5 .51 .5 .51 2.5 .52 7.5 .51 -3.5 .51 -4 .51 6 .51 -5.5 .51 1 .51 2 .51 -5 .52 5 .51 -2 .51 -3 .51 8 .51 -11.5 .51 7.5 .51 1.5 .51 -.5 .52 1.5 .51 1 .51 -2.5 .51 .5 .51 .5 .51 1 .51 -2 .51 -1 .52 3.5 .51 -3.5 .51 2.5 .51 0 .51 2 .51 -2.5 .51 1.5 .52 -2.5 .51 3 .51 1 .51 -.5 .51 -1 .51 1.5 .51 -1.5 .51 .5 .52 -2.5 .51 .5 .51 -2.5 .51 1.5 .51 2.5 .51 -.5 .51 1 .51 -2 .52 1 .51 -1 .51 1.5 .51 5.5 .51 -6 .51 -6 .51 7.5 .51 -2.5 .52 2 .51 -1 .51 .5 .51 -1.5 .51 -4.5 .51 5.5 .51 -.5 .52 2.5 .51 -1.5 .51 1.5 .51 -2 .51 -6.5 .51 7 .51 -.5 .51 0 .52 0 .51 1.5 .51 8 .51 -8.5 .51 -.5 .51 -.5 .51 2.5 .51 -1.5 .52 0 .51 1.5 .51 -.5 .51 -1.5 .51 -.5 .51 -1 .51 1.5 .51 -1.5 .52 0 .51 1.5 .51 0 .51 -2 .51 2 .51 -1.5 .51 1.5 .52 -.5 .51 2 .51 -1.5 .51 1 .51 1 .51 -3 .51 .5 .51 3 .52 -3 .51 .5 .51 .5 .51 2.5 .51 -4.5 .51 2 .51 -.5 .51 4 .52 -2 .51 6.5 .51 -8 .51 0 .51 .5 .51 2 .51 -3.5 .51 .5 .52 .5 .51 -1 .51 -.5 .51 2.5 .51 -.5 .51 3 .51 -4.5 .52 -3.5 .51 17.5 .51 -20 .51 7 .51 .5 .51 0 .51 -1 .51 -.5 .52 4 .51 -1 .51 4 .51 -5.5 .51 10.5 .51 -11 .51 1 .51 -2.5 .52 3 .51 -8 .51 4.5 .51 3 .51 -2 .51 1 .51 -.5 .51 1.5 .52 -1.5 .51 2.5 .51 -1.5 .51 -.5 .51 -1 .51 2 .51 -1 .52 1 .51 -2.5 .51 .5 .51 0 .51 -1.5 .51 1.5 .51 -3 .51 .5 .52 1.5 .51 1 .51 -2 .51 1 .51 -2.5 .51 2.5 .51 -5 .51 0 .52 -.5 .51 .5 .51 2.5 .51 -7 .51 6 .51 -1.5 .51 4 .51 12.5 .52 -13.5 .51 -.5 .51 7 .51 4.5 .51 -9 .51 4 .51 -2.5 .52 -2.5 .51 3.5 .51 2.5 .51 -6.5 .51 4 .51 -1 .51 4 .51 -4 .52 .5 .51 .5 .51 4.5 .51 -5.5 .51 .5 .51 1 .51 -3.5 .51 2 .52 1 .51 -6 .51 5.5 .51 2.5 .51 -3.5 .51 9.5 .51 -8.5 .51 .5 .52 0 .51 1 .51 2 .51 -1 .51 -2.5 .51 2 .51 -4.5 .52 5 .51 .5 .51 -2 .51 -2.5 .51 3 .51 -1 .51 2.5 .51 -1 .52 .5 .51 -1 .51 -2 .51 3 .51 -2.5 .51 4 .51 -3.5 .51 -1 .52 1 .51 1 .51 -2.5 .51 2 .51 -1.5 .51 1 .51 -.5 .51 2.5 .52 -.5 .51 -1.5 .51 -1 .51 5.5 .51 -4.5 .51 0 .51 .5 .52 -.5 .51 -1 .51 2.5 .51 -1 .51 -1.5 .51 2.5 .51 2.5 .51 -4.5 .52 1.5 .51 -.5 .51 -1 .51 .5 .51 1.5 .51 -.5 .51 1.5 .51 -5.5 .52 2 .51 -.5 .51 0 .51 2.5 .51 3.5 .51 -5.5 .51 -.5 .51 3.5 .52 -.5 .51 -1.5 .51 -1 .51 -1.5 .51 2.5 .51 5 .51 -7.5 .52 .5 .51 5 .51 -1.5 .51 -2.5 .51 2 .51 -5.5 .51 4 .51 2.5 .52 -1.5 .51 6.5 .51 -8 .51 4 .51 -2 .51 0 .51 1 .51 -3 .52 .5 .51 1 .51 -1.5 .51 1.5 .51 -1 .51 1 .51 -2 .51 .5 .52 .5 .51 2 .51 -2.5 .51 3.5 .51 -1.5 .51 1 .51 -5.5 .52 9.5 .51 -4.5 .51 -2 .51 .5 .51 0 .51 .5 .51 -1 .51 5.5 .52 -7 .51 0 .51 .5 .51 -1 .51 0 .51 -2.5 .51 .5 .51 1 .52 -1.5 .51 -1.5 .51 0 .51 -1.5 .51 -1.5 .51 -9.5 .51 7.5 .51 -5.5 .52 -2.5 .51 -2 .51 -5.5 .51 -4.5 .51 -5 .51 -2.5 .51 -2 .52 1.5 .51 2 .51 2.5 .51 3 .51 4 .51 6.5 .51 2 .51 2.5 .52 3.5 .51 2 .51 2 .51 1.5 .51 .5 .51 2.5 .51 0 .51 4.5 .52 -4 .51 4 .51 -1.5 .51 .5 .51 -1 .51 3 .51 -2 .51 1 .52 0 .51 0 .51 -1 .51 4 .51 -1 .51 2.5 .51 -3 .52 .5 .51 .5 .51 -1 .51 -4 .51 3 .51 4 .51 -5 .51 1.5 .52 5.5 .51 -1 .51 -4.5 .51 2.5 .51 -2 .51 -.5 .51 5 .51 -4 .52 -2 .51 3 .51 -3 .51 .5 .51 3.5 .51 -1 .51 -.5 .51 5.5 .52 -4 .51 -2.5 .51 .5 .51 2.5 .51 -4 .51 1 .51 2.5 .52 -1 .51 -1 .51 -.5 .51 0 .51 2 .51 -4 .51 1.5 .51 -1 .52 3 .51 -4 .51 2.5 .51 .5 .51 3 .51 2 .51 -4 .51 -1.5 .52 8 .51 -13 .51 5 .51 1.5 .51 7.5 .51 -10 .51 2 .51 -.5 .52 0 .51 6.5 .51 -7 .51 .5 .51 -.5 .51 -1.5 .51 -1.5 .51 .5 .52 3.5 .51 -2 .51 4 .51 -5 .51 .5 .51 -3.5 .51 4 .52 1.5 .51 -.5 .51 1.5 .51 -2.5 .51 -.5 .51 .5 .51 -1 .51 -1.5 .52 1.5 .51 1.5 .51 -3 .51 3 .51 -1.5 .51 .5 .51 -1.5 .51 .5 .52 2.5 .51 .5 .51 -5.5 .51 1.5 .51 -2 .51 1.5 .51 -4 .51 2.5 .52 -3.5 .51 4 .51 -3 .51 0 .51 -1 .51 -1.5 .51 .5 .52 -4 .51 1.5 .51 -3.5 .51 -5 .51 -3 .51 -5 .51 -6 .51 -10.5 .52 -11 .51 -16 .51 -19 .51 -23.5 .51 -29.5 .51 -34 .51 -37.5 .51 -41 .52 -42 .51 -41 .51 -37 .51 -29 .51 -18 .51 -3.5 .51 11 .51 23 .52 34 .51 38 .51 42.5 .51 42.5 .51 38.5 .51 36.5 .51 31.5 .52 26 .51 23 .51 17.5 .51 14.5 .51 10 .51 7.5 .51 5.5 .51 5 .52 2.5 .51 2 .51 2 .51 3 .51 2 .51 .5 .51 .5 .51 1.5 .52 2.5 .51 -1.5 .51 .5 .51 1.5 .51 -1 .51 3 .51 -.5 .51 -2 .52 2 .51 1.5 .51 -2 .51 1 .51 -1.5 .51 -1 .51 1.5 .52 3 .51 -2 .51 1.5 .51 -.5 .51 1 .51 -1 .51 2.5 .51 -2 .52 0 .51 -1 .51 4 .51 -2.5 .51 -1.5 .51 -1.5 .51 4 .51 -1 .52 -2.5 .51 -2.5 .51 7 .51 2 .51 -5 .51 -1.5 .51 1 .51 -.5 .52 0 .51 -.5 .51 -1.5 .51 2 .51 -.5 .51 2 .51 -.5 .52 1.5 .51 -2.5 .51 8 .51 -5.5 .51 -3.5 .51 3 .51 .5 .51 1 .52 1.5 .51 -3 .51 2 .51 -2 .51 3 .51 -3 .51 1.5 .51 -3.5 .52 5.5 .51 -1 .51 -1.5 .51 1.5 .51 .5 .51 -1 .51 -1 .51 2 .52 7 .51 -5.5 .51 -3 .51 2 .51 -2 .51 2.5 .51 -2 .52 1.5 .51 -2.5 .51 .5 .51 1.5 .51 1 .51 0 .51 -2.5 .51 -.5 .52 2.5 .51 0 .51 -1 .51 2.5 .51 -3.5 .51 1.5 .51 -.5 .51 0 .52 -3 .51 3 .51 1 .51 -7.5 .51 7.5 .51 .5 .51 2 .51 -3 .52 .5 .51 -1 .51 1.5 .51 -.5 .51 0 .51 -1.5 .51 3.5 .52 1.5 .51 -3 .51 -2 .51 4.5 .51 -6 .51 3.5 .51 -.5 .51 1 .52 1 .51 .5 .51 -1.5 .51 -2 .51 4 .51 -5 .51 3 .51 -2 .52 4.5 .51 -4.5 .51 .5 .51 -.5 .51 1.5 .51 -3 .51 .5 .51 2.5 .52 2.5 .51 -4 .51 2.5 .51 0 .51 -2.5 .51 3 .51 -2.5 .52 3.5 .51 -3.5 .51 3 .51 -1.5 .51 -.5 .51 .5 .51 2.5 .51 -2 .52 -2 .51 .5 .51 2 .51 -1.5 .51 -2 .51 9.5 .51 -9.5 .51 4 .52 -8.5 .51 6 .51 0 .51 1.5 .51 -1 .51 0 .51 1 .51 -2 .52 6.5 .51 -6 .51 .5 .51 -.5 .51 1 .51 -1 .51 .5 .52 -3.5 .51 5.5 .51 -2.5 .51 -4 .51 4.5 .51 -1.5 .51 4.5 .51 -1.5 .52 -2 .51 -3.5 .51 4 .51 -1 .51 1 .51 1 .51 1 .51 -3 .52 1.5 .51 -1.5 .51 2 .51 -.5 .51 8.5 .51 -7 .51 -3 .51 1.5 .52 -1.5 .51 1.5 .51 -2.5 .51 2 .51 -2.5 .51 1.5 .51 2 .52 -2 .51 .5 .51 0 .51 0 .51 0 .51 3 .51 -4 .51 -.5 .52 .5 .51 0 .51 -3 .51 0 .51 3.5 .51 -3.5 .51 3 .51 0 .52 -1 .51 -3 .51 2.5 .51 -4 .51 3.5 .51 0 .51 .5 .51 -4.5 .52 1.5 .51 -.5 .51 0 .51 0 .51 -1.5 .51 -3 .51 .5 .52 -3.5 .51 -2.5 .51 -1.5 .51 -4.5 .51 -6.5 .51 -5 .51 -6.5 .51 -8.5 .52 -8 .51 -10.5 .51 -9 .51 -9 .51 -6.5 .51 -4.5 .51 -.5 .51 1.5 .52 4 .51 5 .51 6 .51 9 .51 9 .51 9 .51 7.5 .51 7 .52 12.5 .51 -.5 .51 5.5 .51 3.5 .51 1.5 .51 4 .51 2.5 .52 1 .51 0 .51 1.5 .51 2.5 .51 -6 .51 6 .51 -.5 .51 2 .52 -.5 .51 0 .51 3.5 .51 -4 .51 .5 .51 .5 .51 1.5 .51 -1 .52 1.5 .51 -1 .51 .5 .51 0 .51 .5 .51 .5 .51 2.5 .51 -4 .52 1.5 .51 .5 .51 -.5 .51 -.5 .51 1 .51 -2 .51 3 .52 2.5 .51 -4.5 .51 1.5 .51 -1 .51 8.5 .51 -8.5 .51 0 .51 1 .52 1.5 .51 -3 .51 1 .51 1 .51 -2.5 .51 1.5 .51 .5 .51 0 .52 1 .51 -4.5 .51 0 .51 3 .51 4.5 .51 -5.5 .51 -.5 .51 2.5 .52 -3.5 .51 4 .51 -7 .51 6 .51 -4 .51 2 .51 .5 .52 .5 .51 0 .51 -1 .51 -.5 .51 1 .51 .5 .51 -.5 .51 .5 .52 .5 .51 -.5 .51 1.5 .51 -1.5 .51 -1 .51 .5 .51 2.5 .51 -2.5 .52 .5 .51 -1 .51 7 .51 -7 .51 1 .51 -1 .51 1 .51 -.5 .52 -3 .51 3.5 .51 2 .51 -4.5 .51 -3 .51 0 .51 -.5 .52 1.5 .51 -2 .51 -.5 .51 -1.5 .51 -2 .51 -.5 .51 -.5 .51 -2.5 .52 -1.5 .51 -1 .51 2.5 .51 -2 .51 .5 .51 -1 .51 1.5 .51 1 .52 0 .51 1.5 .51 .5 .51 .5 .51 -1 .51 5 .51 2.5 .51 .5 .52 -9.5 .51 10.5 .51 1 .51 0 .51 -.5 .51 5 .51 -9 .52 5 .51 .5 .51 -1.5 .51 .5 .51 1.5 .51 1 .51 -1 .51 1 .52 1 .51 -2 .51 0 .51 1.5 .51 -1 .51 0 .51 .5 .51 3.5 .52 -4.5 .51 1 .51 1.5 .51 -2.5 .51 1.5 .51 -1.5 .51 -8.5 .51 12 .52 -2.5 .51 0 .51 1 .51 -.5 .51 1 .51 -3.5 .51 3 .52 0 .51 -1.5 .51 1.5 .51 -1 .51 -.5 .51 4.5 .51 -3 .51 -.5 .52 2.5 .51 -3 .51 1 .51 10 .51 -9 .51 -1.5 .51 .5 .51 2.5 .52 -3.5 .51 .5 .51 -2 .51 3 .51 .5 .51 -1.5 .51 .5 .51 -.5 .52 1.5 .51 0 .51 -.5 .51 1 .51 .5 .51 -3 .51 1.5 .52 -.5 .51 .5 .51 -1 .51 0 .51 2.5 .51 10 .51 -14.5 .51 4.5 .52 -1.5 .51 -.5 .51 .5 .51 -4 .51 4 .51 -1.5 .51 1.5 .51 3 .52 0 .51 -5 .51 7.5 .51 -8 .51 3 .51 .5 .51 -.5 .51 -1 .52 -.5 .51 1.5 .51 -2 .51 2 .51 -.5 .51 3 .51 -4 .52 -3.5 .51 2.5 .51 10 .51 -5 .51 -5.5 .51 1 .51 1.5 .51 -1.5 .52 1.5 .51 .5 .51 -1.5 .51 -.5 .51 1 .51 -1 .51 -.5 .51 -1.5 .52 3.5 .51 -.5 .51 -2 .51 4 .51 -1.5 .51 0 .51 -2.5 .51 2 .52 -1 .51 1.5 .51 1.5 .51 -.5 .51 -1 .51 -1.5 .51 2 .52 0 .51 -2 .51 .5 .51 .5 .51 0 .51 -2.5 .51 -3 .51 3 .52 3.5 .51 .5 .51 -1.5 .51 -.5 .51 .5 .51 -1 .51 2 .51 -2.5 .52 1.5 .51 -1 .51 -.5 .51 2.5 .51 -2.5 .51 8.5 .51 -3.5 .51 -4 .52 -1 .51 3.5 .51 -3.5 .51 3 .51 -3 .51 0 .51 3 .52 -3.5 .51 .5 .51 5.5 .51 -4.5 .51 .5 .51 -2 .51 -1 .51 2 .52 0 .51 -.5 .51 2 .51 -2 .51 4.5 .51 -1 .51 -4 .51 4.5 .52 -4.5 .51 6.5 .51 -4.5 .51 -1 .51 .5 .51 -1 .51 0 .51 -.5 .52 1 .51 -2 .51 -.5 .51 2 .51 .5 .51 -2.5 .51 1.5 .52 -1.5 .51 -1.5 .51 0 .51 -.5 .51 -.5 .51 0 .51 -1.5 .51 0 .52 -2 .51 -3 .51 .5 .51 -2 .51 1.5 .51 -6 .51 -1.5 .51 -3.5 .52 -4 .51 -3 .51 -4.5 .51 -5.5 .51 -4.5 .51 -3 .51 -1.5 .51 -1 .52 2 .51 .5 .51 3 .51 1 .51 4 .51 2.5 .51 4 .52 4.5 .51 4 .51 3 .51 2.5 .51 4.5 .51 -.5 .51 2.5 .51 2.5 .52 2.5 .51 -1 .51 1.5 .51 1.5 .51 -2.5 .51 8 .51 -7 .51 -1.5 .52 4 .51 -1.5 .51 -.5 .51 1.5 .51 3 .51 -2.5 .51 15 .51 -11 .52 -1 .51 1 .51 0 .51 -2 .51 1 .51 .5 .51 -1.5 .52 1.5 .51 1 .51 -3.5 .51 1.5 .51 .5 .51 -3.5 .51 11.5 .51 -6 .52 0 .51 -1 .51 0 .51 .5 .51 -.5 .51 3 .51 -1.5 .51 0 .52 2 .51 -3.5 .51 0 .51 .5 .51 1.5 .51 -.5 .51 -1.5 .51 6 .52 -4.5 .51 -4.5 .51 .5 .51 2.5 .51 -1.5 .51 0 .51 .5 .52 0 .51 -1 .51 2 .51 2.5 .51 .5 .51 -5.5 .51 2 .51 0 .52 0 .51 0 .51 0 .51 3 .51 -4 .51 0 .51 3 .51 -12 .52 10 .51 0 .51 .5 .51 -3 .51 2.5 .51 -.5 .51 .5 .51 -1 .52 -5 .51 3.5 .51 -4.5 .51 3 .51 -1 .51 3.5 .51 -4 .52 .5 .51 -5 .51 2.5 .51 -5 .51 4 .51 -1 .51 -2.5 .51 1 .52 -2.5 .51 -2.5 .51 -1 .51 -.5 .51 -.5 .51 1 .51 1.5 .51 -1.5 .52 1.5 .51 -.5 .51 1 .51 1.5 .51 1 .51 0 .51 3.5 .51 0 .52 2.5 .51 1 .51 0 .51 .5 .51 .5 .51 1 .51 .5 .52 .5 .51 0 .51 3.5 .51 -3.5 .51 1.5 .51 5 .51 -4.5 .51 7 .52 -10 .51 3.5 .51 4.5 .51 -5 .51 2.5 .51 -2.5 .51 1.5 .51 -2 .52 1 .51 -1 .51 4 .51 0 .51 -1.5 .51 0 .51 -1 .51 1.5 .52 -2 .51 -1.5 .51 2 .51 1 .51 5.5 .51 -5 .51 7 .52 -8.5 .51 2.5 .51 -2 .51 -1 .51 -.5 .51 1.5 .51 0 .51 0 .52 1 .51 -1 .51 -1 .51 3.5 .51 -3 .51 -4 .51 5.5 .51 -1 .52 -2 .51 1.5 .51 .5 .51 .5 .51 -1 .51 0 .51 -1.5 .51 2.5 .52 -2 .51 -1.5 .51 1.5 .51 1.5 .51 -.5 .51 -3 .51 4 .52 -1 .51 -2 .51 -.5 .51 2.5 .51 -2 .51 -1.5 .51 -1 .51 -1.5 .52 .5 .51 -1 .51 -1.5 .51 -3 .51 -.5 .51 -1 .51 -2 .51 -3.5 .52 -3.5 .51 -1.5 .51 -2 .51 -3.5 .51 -3.5 .51 -2 .51 2 .51 .5 .52 1.5 .51 1 .51 2 .51 -.5 .51 5 .51 .5 .51 4.5 .52 1.5 .51 2.5 .51 4 .51 -1 .51 6.5 .51 -3.5 .51 1.5 .51 1.5 .52 0 .51 1 .51 .5 .51 1.5 .51 0 .51 8 .51 -8 .51 0 .52 .5 .51 0 .51 -1.5 .51 2 .51 0 .51 .5 .51 1 .51 0 .52 1.5 .51 -3 .51 1 .51 0 .51 .5 .51 -.5 .51 .5 .52 0 .51 .5 .51 1 .51 .5 .51 -3.5 .51 2 .51 -.5 .51 -2 .52 4.5 .51 -2.5 .51 -1.5 .51 2 .51 1 .51 -.5 .51 1 .51 -3 .52 .5 .51 0 .51 .5 .51 2 .51 -1.5 .51 0 .51 -1.5 .51 3.5 .52 -1 .51 -.5 .51 -4 .51 4.5 .51 -1 .51 -.5 .51 1 .52 0 .51 -1 .51 1.5 .51 -.5 .51 -.5 .51 2.5 .51 .5 .51 -3 .52 1 .51 -1 .51 2 .51 -1 .51 -4 .51 3.5 .51 0 .51 3.5 .52 -1.5 .51 -7 .51 3.5 .51 0 .51 0 .51 0 .51 1.5 .51 1.5 .52 -2 .51 -1.5 .51 .5 .51 2.5 .51 -1.5 .51 1 .51 -1.5 .51 1 .52 -.5 .51 .5 .51 -.5 .51 .5 .51 -5 .51 5.5 .51 6 .52 -6.5 .51 0 .51 -.5 .51 0 .51 1.5 .51 -1.5 .51 -3.5 .51 5 .52 0 .51 -3 .51 3 .51 -2 .51 1 .51 -1 .51 -.5 .51 1.5 .52 0 .51 1 .51 -2.5 .51 3 .51 -2 .51 -2 .51 1.5 .51 .5 .52 0 .51 1 .51 8 .51 -10 .51 .5 .51 -3 .51 2.5 .52 1.5 .51 1 .51 1 .51 -1 .51 -3 .51 1.5 .51 0 .51 -.5 .52 .5 .51 .5 .51 -2.5 .51 3.5 .51 -4.5 .51 4 .51 2 .51 0 .52 -4.5 .51 -.5 .51 -.5 .51 .5 .51 0 .51 1.5 .51 0 .51 .5 .52 1 .51 0 .51 -3 .51 1 .51 -.5 .51 .5 .51 .5 .52 4 .51 -5 .51 -.5 .51 0 .51 1 .51 .5 .51 4 .51 -4 .52 -3.5 .51 4.5 .51 -5 .51 2.5 .51 -3 .51 -2 .51 1 .51 -1 .52 .5 .51 -.5 .51 -3.5 .51 -.5 .51 -1.5 .51 2 .51 -3 .51 -1.5 .52 2 .51 -1 .51 2 .51 2.5 .51 -4 .51 3 .51 -1 .52 5.5 .51 3.5 .51 -3 .51 -.5 .51 -2 .51 4 .51 1 .51 -4.5 .52 7.5 .51 -.5 .51 -.5 .51 -2 .51 2 .51 2 .51 -1 .51 -2 .52 0 .51 11 .51 -10 .51 -1 .51 -1.5 .51 3.5 .51 0 .51 -2 .52 1.5 .51 .5 .51 -1.5 .51 -.5 .51 1 .51 2 .51 4.5 .52 -5.5 .51 -.5 .51 -1.5 .51 3.5 .51 -.5 .51 -1 .51 .5 .51 -1 .52 0 .51 0 .51 1 .51 -1 .51 1 .51 -.5 .51 2 .51 -2.5 .52 1 .51 -1 .51 -.5 .51 0 .51 -1 .51 1 .51 .5 .51 -2.5 .52 4 .51 -2.5 .51 -.5 .51 .5 .51 0 .51 -9.5 .51 9.5 .52 1.5 .51 -1 .51 -.5 .51 -2 .51 -1.5 .51 -.5 .51 .5 .51 -1 .52 -1 .51 2.5 .51 -2 .51 -.5 .51 -2.5 .51 -1 .51 -2 .51 -3 .52 -1 .51 -2.5 .51 -4.5 .51 -2.5 .51 -3 .51 -3 .51 -2 .51 -1.5 .52 -1 .51 1.5 .51 2 .51 0 .51 1 .51 1.5 .51 3.5 .52 2.5 .51 2 .51 1 .51 4.5 .51 1.5 .51 1.5 .51 0 .51 5 .52 1.5 .51 .5 .51 .5 .51 1 .51 .5 .51 0 .51 2 .51 -.5 .52 .5 .51 2 .51 -1.5 .51 1 .51 -2 .51 3 .51 -1.5 .51 .5 .52 0 .51 1.5 .51 -1 .51 .5 .51 1 .51 .5 .51 -1 .52 -4 .51 4.5 .51 -1 .51 1 .51 -2 .51 -.5 .51 1 .51 0 .52 1.5 .51 -3 .51 -2 .51 12.5 .51 -12.5 .51 4 .51 .5 .51 2 .52 -3.5 .51 1 .51 .5 .51 1 .51 -1.5 .51 1.5 .51 -1 .51 4.5 .52 -3 .51 -6 .51 6 .51 -1.5 .51 0 .51 .5 .51 -1.5 .52 -1 .51 2.5 .51 -6.5 .51 6.5 .51 .5 .51 -3.5 .51 2.5 .51 -.5 .52 0 .51 .5 .51 -.5 .51 2 .51 -2 .51 -.5 .51 0 .51 1 .52 0 .51 .5 .51 -2 .51 2 .51 1.5 .51 -1.5 .51 2.5 .51 -.5 .52 -1.5 .51 -.5 .51 1.5 .51 -1.5 .51 5 .51 -5 .51 0 .52 0 .51 3 .51 -3.5 .51 -2.5 .51 2.5 .51 -1 .51 1 .51 -.5 .52 .5 .51 0 .51 .5 .51 1 .51 .5 .51 -1.5 .51 0 .51 -1.5 .52 1 .51 3.5 .51 -2.5 .51 1 .51 -1 .51 0 .51 7.5 .51 -6.5 .52 1 .51 -2 .51 -1 .51 1.5 .51 -1 .51 3 .51 -3 .52 1 .51 -.5 .51 -1.5 .51 1.5 .51 -1.5 .51 -1 .51 2.5 .51 2.5 .52 4 .51 -5 .51 .5 .51 -2.5 .51 1 .51 -3 .51 1.5 .51 0 .52 1L953.01 774.5Z"/><path fill="none" stroke-miterlimit="40" d="M37.29 725.5l.51 -5 .51 -7.5 .51 -8 .51 -8.5 .51 -9.5 .51 -7.5 .51 -1.5 .52 3 .51 4.5 .51 7 .51 7.5 .51 11 .51 6M38.82 705.0l.51 -8.5 .51 -9.5 .51 -7.5 .51 -1.5 .52 3 .51 4.5 .51 7 .51 7.5 .51 11 .51 6 .51 5.5 .51 4M218.79 735.5l.51 -5.5 .52 -2.5 .51 -2 .51 -5.5 .51 -4.5 .51 -5 .51 -2.5 .51 -2 .52 1.5 .51 2 .51 2.5 .51 3 .51 4 .51 6.5 .51 2 .51 2.5M220.33 725.5l.51 -5.5 .51 -4.5 .51 -5 .51 -2.5 .51 -2 .52 1.5 .51 2 .51 2.5 .51 3 .51 4 .51 6.5 .51 2 .51 2.5M436.60 711.5l.51 -8.5 .52 -8 .51 -10.5 .51 -9 .51 -9 .51 -6.5 .51 -4.5 .51 -.5 .51 1.5 .52 4 .51 5 .51 6 .51 9 .51 9 .51 9 .51 7.5M437.63 695.0l.51 -10.5 .51 -9 .51 -9 .51 -6.5 .51 -4.5 .51 -.5 .51 1.5 .52 4 .51 5 .51 6 .51 9 .51 9 .51 9 .51 7.5M615.55 728.5l.52 -4 .51 -3 .51 -4.5 .51 -5.5 .51 -4.5 .51 -3 .51 -1.5 .51 -1 .52 2 .51 .5 .51 3 .51 1 .51 4 .51 2.5 .51 4 .52 4.5M617.09 717.0l.51 -5.5 .51 -4.5 .51 -3 .51 -1.5 .51 -1 .52 2 .51 .5 .51 3 .51 1 .51 4 .51 2.5 .51 4 .52 4.5M725.48 738.5l.51 -2 .51 -3.5 .52 -3.5 .51 -1.5 .51 -2 .51 -3.5 .51 -3.5 .51 -2 .51 2 .51 .5 .52 1.5 .51 1 .51 2 .51 -.5 .51 5 .51 .5M873.76 736.0l.51 -2.5 .51 -4.5 .51 -2.5 .51 -3 .51 -3 .51 -2 .51 -1.5 .52 -1 .51 1.5 .51 2 .51 0 .51 1 .51 1.5 .51 3.5 .52 2.5 .51 2"/><path fill="#8C00FF" d="M15.30 815.0L15.30 781.0l.51 1 .51 .5 .51 -3 .52 3 .51 -2.5 .51 6.5 .51 -2.5 .51 -5.5 .51 3 .51 -2 .51 2.5 .52 -1.5 .51 0 .51 .5 .51 1.5 .51 .5 .51 .5 .51 -2 .51 -1 .52 3 .51 -3 .51 1 .51 2 .51 -2 .51 -5.5 .51 6 .51 .5 .52 -1 .51 .5 .51 0 .51 -3.5 .51 4.5 .51 1.5 .51 -5.5 .52 -4 .51 4 .51 0 .51 -3.5 .51 -1.5 .51 -1.5 .51 -4 .51 -4 .52 -3.5 .51 -7.5 .51 -6 .51 -8 .51 -8 .51 -5 .51 .5 .51 5 .52 3 .51 9 .51 7 .51 7 .51 6 .51 3.5 .51 1.5 .51 5 .52 1 .51 1 .51 -.5 .51 3 .51 0 .51 2 .51 1 .52 .5 .51 1 .51 1 .51 -1.5 .51 -1.5 .51 2 .51 -1 .51 1.5 .52 .5 .51 -4.5 .51 2 .51 1.5 .51 2 .51 4 .51 -6.5 .51 1.5 .52 .5 .51 -1.5 .51 2.5 .51 -1 .51 4.5 .51 -6.5 .51 3.5 .51 -1.5 .52 0 .51 1.5 .51 -.5 .51 .5 .51 -7 .51 3 .51 -10 .52 18.5 .51 -4.5 .51 -2.5 .51 2 .51 -3.5 .51 3 .51 4.5 .51 -5 .52 -.5 .51 -.5 .51 1 .51 8 .51 -7 .51 0 .51 -1.5 .51 0 .52 2.5 .51 -1 .51 -4 .51 4 .51 1 .51 -1 .51 2 .51 -1 .52 -2 .51 .5 .51 -1 .51 1.5 .51 2.5 .51 .5 .51 -1 .52 -2 .51 -2 .51 1 .51 2 .51 -2 .51 -1 .51 2 .51 -2 .52 -.5 .51 3 .51 3.5 .51 -2.5 .51 2 .51 -3 .51 2 .51 -2.5 .52 -1.5 .51 4 .51 -1 .51 1 .51 -2.5 .51 1 .51 5.5 .51 -6 .52 1.5 .51 0 .51 -2.5 .51 1 .51 2.5 .51 -3.5 .51 0 .52 0 .51 -1 .51 3 .51 -3.5 .51 7.5 .51 -6.5 .51 .5 .51 1.5 .52 -4.5 .51 4 .51 .5 .51 0 .51 -2 .51 3 .51 -1.5 .51 1 .52 -2 .51 2.5 .51 -1 .51 -4 .51 5 .51 -.5 .51 -.5 .51 0 .52 0 .51 .5 .51 -1 .51 1.5 .51 3.5 .51 1.5 .51 -6 .52 -.5 .51 1.5 .51 -2 .51 2.5 .51 1 .51 -1 .51 -3.5 .51 3 .52 -1 .51 0 .51 .5 .51 -.5 .51 0 .51 .5 .51 2 .51 -3 .52 -.5 .51 .5 .51 1 .51 -1 .51 1 .51 .5 .51 -3.5 .51 2.5 .52 -.5 .51 2 .51 0 .51 -3.5 .51 3 .51 -1.5 .51 -1 .52 .5 .51 0 .51 -2 .51 .5 .51 1.5 .51 -2.5 .51 2.5 .51 -1 .52 -.5 .51 -.5 .51 0 .51 -3 .51 1 .51 -.5 .51 -2 .51 .5 .52 1.5 .51 0 .51 -2 .51 2.5 .51 -.5 .51 .5 .51 0 .51 2 .52 -.5 .51 2.5 .51 0 .51 0 .51 .5 .51 0 .51 -1.5 .52 1.5 .51 .5 .51 .5 .51 -.5 .51 -1.5 .51 1.5 .51 -.5 .51 6 .52 -4 .51 -.5 .51 3 .51 7.5 .51 -3 .51 -7.5 .51 7.5 .51 -5.5 .52 -2 .51 1 .51 -1.5 .51 0 .51 -.5 .51 1.5 .51 -1 .51 2 .52 -1 .51 1 .51 0 .51 -2 .51 -2 .51 -.5 .51 5.5 .52 -7 .51 6.5 .51 1 .51 -2.5 .51 3.5 .51 -3 .51 -.5 .51 1.5 .52 2 .51 -2.5 .51 -1 .51 -4 .51 3 .51 2 .51 -8 .51 8.5 .52 -3 .51 2.5 .51 4.5 .51 -7.5 .51 1 .51 8.5 .51 -7 .51 2.5 .52 -3 .51 1.5 .51 .5 .51 -.5 .51 .5 .51 -2 .51 -.5 .52 -1 .51 2 .51 2 .51 -5 .51 2.5 .51 -.5 .51 0 .51 .5 .52 -1 .51 1 .51 -.5 .51 -2 .51 1 .51 2.5 .51 -2.5 .51 1.5 .52 .5 .51 1 .51 .5 .51 -.5 .51 -3 .51 4.5 .51 -6.5 .51 3.5 .52 3 .51 -1.5 .51 -.5 .51 0 .51 -1 .51 .5 .51 -.5 .52 2 .51 0 .51 -.5 .51 -1 .51 -.5 .51 -4.5 .51 5 .51 -2 .52 1 .51 -.5 .51 2.5 .51 -1 .51 -3 .51 1 .51 5.5 .51 -3 .52 -5 .51 5 .51 -1.5 .51 0 .51 1 .51 -1 .51 .5 .51 5.5 .52 -6 .51 4.5 .51 -7 .51 4 .51 -.5 .51 -2 .51 .5 .52 .5 .51 -1.5 .51 -1 .51 5 .51 -2 .51 -1.5 .51 -.5 .51 0 .52 -2 .51 2.5 .51 -1 .51 -.5 .51 0 .51 -1 .51 0 .51 -1 .52 -9.5 .51 6 .51 -.5 .51 -3 .51 -.5 .51 -4 .51 -2.5 .51 -3 .52 -4 .51 -6 .51 -3.5 .51 -3.5 .51 -3 .51 2 .51 -.5 .52 2.5 .51 -.5 .51 6.5 .51 3.5 .51 3.5 .51 3.5 .51 5 .51 3 .52 3 .51 .5 .51 2.5 .51 2.5 .51 -.5 .51 0 .51 1.5 .51 1.5 .52 -.5 .51 3.5 .51 -2.5 .51 1.5 .51 -5 .51 3.5 .51 -1.5 .51 2 .52 1 .51 -3 .51 4 .51 -2 .51 4 .51 -2.5 .51 .5 .52 .5 .51 -1.5 .51 1 .51 1 .51 -1.5 .51 -.5 .51 -1 .51 .5 .52 .5 .51 2 .51 -.5 .51 -1 .51 .5 .51 9.5 .51 -6.5 .51 -5.5 .52 3 .51 -1 .51 3 .51 -1.5 .51 2 .51 -2 .51 .5 .51 -3 .52 3.5 .51 -.5 .51 4.5 .51 -3.5 .51 1.5 .51 -4 .51 1 .52 -1 .51 1 .51 -3.5 .51 2.5 .51 -.5 .51 0 .51 1.5 .51 -.5 .52 -1 .51 4 .51 -3.5 .51 0 .51 1.5 .51 -3.5 .51 2.5 .51 -.5 .52 1.5 .51 .5 .51 .5 .51 -1 .51 1 .51 -2.5 .51 -.5 .51 0 .52 0 .51 .5 .51 1 .51 -.5 .51 -.5 .51 1.5 .51 0 .51 -2 .52 1.5 .51 .5 .51 -1.5 .51 1 .51 -1 .51 0 .51 .5 .52 0 .51 0 .51 0 .51 -.5 .51 -.5 .51 -1.5 .51 1.5 .51 1 .52 -2 .51 0 .51 -1 .51 0 .51 1.5 .51 -1 .51 0 .51 0 .52 -.5 .51 0 .51 -.5 .51 -1.5 .51 -2 .51 1.5 .51 -.5 .51 1 .52 -2 .51 .5 .51 -1.5 .51 2.5 .51 -4 .51 -1 .51 .5 .52 -3.5 .51 -1.5 .51 -3 .51 -3.5 .51 -5 .51 -6.5 .51 -9.5 .51 -13.5 .52 -17.5 .51 -24 .51 -27.5 .51 -35.5 .51 -40.5 .51 -44 .51 -46 .51 -45.5 .52 -39 .51 -28.5 .51 -12.5 .51 5.5 .51 21.5 .51 34.5 .51 43.5 .51 46.5 .52 45.5 .51 42 .51 36 .51 32.5 .51 26.5 .51 18.5 .51 15 .52 12 .51 7 .51 7 .51 5 .51 2.5 .51 1.5 .51 1.5 .51 1 .52 2 .51 -1 .51 -.5 .51 -2 .51 6.5 .51 .5 .51 2 .51 -2 .52 4 .51 -2 .51 6 .51 -6 .51 1 .51 2 .51 -1.5 .51 -.5 .52 2 .51 -1 .51 -.5 .51 0 .51 1 .51 0 .51 1 .52 -2 .51 .5 .51 2 .51 -1 .51 0 .51 .5 .51 -.5 .51 -.5 .52 5.5 .51 -5.5 .51 .5 .51 4 .51 -5.5 .51 3.5 .51 -3.5 .51 -1 .52 2 .51 2.5 .51 -1.5 .51 -1.5 .51 -1.5 .51 .5 .51 .5 .51 -3 .52 3.5 .51 -1 .51 -1 .51 -1 .51 3 .51 -1 .51 -1 .52 1.5 .51 1.5 .51 -.5 .51 0 .51 -.5 .51 1 .51 2.5 .51 -2.5 .52 -.5 .51 4 .51 -2.5 .51 1.5 .51 .5 .51 1.5 .51 -4 .51 .5 .52 .5 .51 9.5 .51 -8.5 .51 3 .51 -4 .51 0 .51 1.5 .51 0 .52 -1 .51 .5 .51 0 .51 1 .51 1 .51 -.5 .51 -.5 .52 -1.5 .51 1.5 .51 -1 .51 2.5 .51 -1.5 .51 -1.5 .51 .5 .51 -.5 .52 -1 .51 1.5 .51 3.5 .51 -4.5 .51 0 .51 1.5 .51 -.5 .51 0 .52 .5 .51 -.5 .51 1 .51 -2 .51 3.5 .51 -2 .51 -5 .51 4 .52 .5 .51 0 .51 .5 .51 1.5 .51 .5 .51 -3 .51 -1.5 .52 3.5 .51 -.5 .51 -.5 .51 1 .51 -2.5 .51 2.5 .51 0 .51 .5 .52 -1 .51 -1.5 .51 4 .51 -1 .51 -2 .51 0 .51 2.5 .51 -1.5 .52 -2 .51 1.5 .51 .5 .51 1.5 .51 -2.5 .51 2 .51 -1.5 .51 -1 .52 6 .51 -5 .51 2.5 .51 -2.5 .51 3 .51 -3 .51 0 .52 -.5 .51 1.5 .51 -1 .51 0 .51 0 .51 .5 .51 -.5 .51 4 .52 -1.5 .51 -3 .51 .5 .51 -1.5 .51 2.5 .51 -1 .51 .5 .51 1.5 .52 -4 .51 3 .51 -1 .51 1.5 .51 -3 .51 0 .51 0 .51 3.5 .52 -2.5 .51 -.5 .51 1 .51 -.5 .51 -3 .51 4 .51 -1 .52 -4 .51 4 .51 1.5 .51 -2.5 .51 2 .51 -3 .51 1.5 .51 1 .52 .5 .51 8 .51 -6.5 .51 .5 .51 -2 .51 2 .51 -7.5 .51 4 .52 0 .51 2 .51 -1.5 .51 3 .51 -1 .51 -3.5 .51 0 .51 2 .52 1.5 .51 -2 .51 0 .51 -1 .51 2 .51 -2 .51 .5 .52 .5 .51 .5 .51 -.5 .51 -1 .51 -1 .51 3.5 .51 -3 .51 0 .52 0 .51 1 .51 -1 .51 1.5 .51 -1.5 .51 1 .51 -2.5 .51 5.5 .52 -4.5 .51 1.5 .51 -2 .51 -3 .51 3 .51 -1 .51 0 .51 -4 .52 2 .51 0 .51 -4 .51 1 .51 -3 .51 -1.5 .51 -3 .52 -4.5 .51 -2.5 .51 -6 .51 -6 .51 -8 .51 -8.5 .51 -9 .51 -9 .52 -8 .51 -7 .51 -5 .51 -1 .51 1 .51 3 .51 5 .51 5.5 .52 7.5 .51 9 .51 8 .51 7 .51 7 .51 7.5 .51 5 .51 1 .52 8 .51 0 .51 6 .51 1.5 .51 2 .51 -1 .51 2 .52 1.5 .51 3 .51 -3.5 .51 1.5 .51 .5 .51 1.5 .51 -4 .51 4.5 .52 -.5 .51 -3 .51 3.5 .51 -2.5 .51 -.5 .51 1.5 .51 3 .51 -3 .52 1.5 .51 1.5 .51 -1 .51 1 .51 -1.5 .51 .5 .51 1 .51 5 .52 -5.5 .51 -2 .51 3 .51 -1 .51 -10 .51 9.5 .51 1.5 .52 -1 .51 1 .51 -5.5 .51 4.5 .51 8.5 .51 -6.5 .51 -.5 .51 1.5 .52 -2.5 .51 .5 .51 -.5 .51 .5 .51 -1 .51 3 .51 -3 .51 -.5 .52 0 .51 2.5 .51 -2 .51 2 .51 1 .51 -2 .51 -.5 .51 -.5 .52 .5 .51 -2.5 .51 -7.5 .51 9.5 .51 6 .51 -4 .51 -1 .52 2 .51 -3 .51 -.5 .51 1 .51 0 .51 1 .51 -4 .51 3 .52 -.5 .51 1 .51 -.5 .51 1 .51 -.5 .51 -2 .51 .5 .51 .5 .52 -1 .51 -1.5 .51 2 .51 -1.5 .51 -1.5 .51 -1 .51 -3 .51 8.5 .52 1 .51 -6 .51 4 .51 -1.5 .51 -3 .51 0 .51 .5 .52 -2 .51 -1 .51 1.5 .51 -1.5 .51 2.5 .51 -3.5 .51 -1 .51 0 .52 -.5 .51 -.5 .51 .5 .51 0 .51 .5 .51 -.5 .51 2 .51 -.5 .52 2 .51 -1.5 .51 2 .51 2 .51 -.5 .51 -1 .51 3.5 .51 -2 .52 1 .51 1.5 .51 2 .51 -.5 .51 -1 .51 0 .51 .5 .52 .5 .51 -1 .51 0 .51 3 .51 -1 .51 -.5 .51 3.5 .51 -4.5 .52 1.5 .51 -1.5 .51 2.5 .51 -1 .51 -2 .51 1.5 .51 -1.5 .51 1 .52 2.5 .51 -2 .51 1.5 .51 4 .51 -4.5 .51 -1 .51 -1.5 .51 2.5 .52 -1 .51 0 .51 -.5 .51 1 .51 -1 .51 3 .51 1 .52 -3.5 .51 0 .51 -.5 .51 0 .51 2 .51 -2 .51 0 .51 2 .52 0 .51 1 .51 -2 .51 2 .51 -1.5 .51 3 .51 -2 .51 0 .52 0 .51 -1 .51 2.5 .51 -2.5 .51 -1 .51 1.5 .51 -.5 .51 1.5 .52 8 .51 -8 .51 -.5 .51 -2 .51 11 .51 -11 .51 .5 .52 .5 .51 4 .51 -5 .51 .5 .51 1.5 .51 .5 .51 -1.5 .51 -.5 .52 .5 .51 -1 .51 0 .51 -1.5 .51 .5 .51 3.5 .51 -2 .51 9.5 .52 -7.5 .51 1 .51 -1.5 .51 -1.5 .51 -.5 .51 2 .51 1.5 .51 -3 .52 -.5 .51 1.5 .51 0 .51 -1.5 .51 -1.5 .51 1 .51 4 .52 -2 .51 -.5 .51 0 .51 8 .51 -9.5 .51 4.5 .51 -2.5 .51 -1 .52 -1 .51 2 .51 -1 .51 -1 .51 0 .51 1 .51 -3.5 .51 5 .52 -1 .51 3.5 .51 -4 .51 -1 .51 1 .51 -5 .51 7 .51 -1.5 .52 1.5 .51 -4.5 .51 1.5 .51 1.5 .51 -2 .51 -1 .51 3 .52 0 .51 0 .51 -1.5 .51 .5 .51 -.5 .51 2.5 .51 0 .51 1.5 .52 0 .51 -3.5 .51 .5 .51 -1.5 .51 2 .51 -4 .51 4 .51 0 .52 .5 .51 -.5 .51 0 .51 .5 .51 2.5 .51 -4.5 .51 2.5 .51 -1 .52 0 .51 3 .51 -.5 .51 -2.5 .51 -1 .51 .5 .51 -1.5 .52 1.5 .51 .5 .51 -1 .51 .5 .51 -1 .51 2 .51 -4 .51 5 .52 -2.5 .51 -1 .51 2 .51 -.5 .51 .5 .51 .5 .51 -3 .51 0 .52 2 .51 -1 .51 0 .51 0 .51 0 .51 -.5 .51 .5 .51 -.5 .52 -1.5 .51 -1 .51 2.5 .51 0 .51 -2 .51 0 .51 0 .52 -.5 .51 -2.5 .51 2 .51 -1.5 .51 0 .51 -3.5 .51 0 .51 -1 .52 -1 .51 -2.5 .51 -.5 .51 -6 .51 1.5 .51 -4.5 .51 -4.5 .51 -5 .52 -3.5 .51 -5 .51 -4.5 .51 -3.5 .51 -3.5 .51 1 .51 -1 .51 3 .52 -1.5 .51 7.5 .51 2 .51 3 .51 4.5 .51 5.5 .51 3 .52 2.5 .51 4 .51 4.5 .51 -.5 .51 3 .51 .5 .51 2.5 .51 6 .52 -2.5 .51 -.5 .51 -.5 .51 0 .51 4 .51 -.5 .51 .5 .51 -.5 .52 0 .51 1 .51 1 .51 0 .51 9.5 .51 -10.5 .51 2 .51 0 .52 0 .51 .5 .51 -.5 .51 2.5 .51 -1 .51 .5 .51 -1.5 .52 -1.5 .51 2 .51 -2.5 .51 1.5 .51 7 .51 -6 .51 -1 .51 -.5 .52 2 .51 8 .51 -7.5 .51 -1.5 .51 .5 .51 -1 .51 4.5 .51 -5.5 .52 4.5 .51 -3 .51 2.5 .51 -2 .51 -.5 .51 1 .51 .5 .51 1 .52 -3 .51 -1 .51 -3.5 .51 7.5 .51 -1 .51 -2 .51 1.5 .52 0 .51 -2 .51 2.5 .51 -1.5 .51 1.5 .51 .5 .51 -2.5 .51 3.5 .52 -.5 .51 -4.5 .51 3.5 .51 -3.5 .51 4 .51 -2.5 .51 -1 .51 0 .52 -1.5 .51 3 .51 .5 .51 -2.5 .51 -1.5 .51 2.5 .51 -3.5 .51 2 .52 2 .51 -1.5 .51 -1.5 .51 1 .51 -3 .51 -1.5 .51 2 .52 -2.5 .51 1 .51 -2 .51 .5 .51 .5 .51 -3 .51 -2 .51 -5 .52 5 .51 -2 .51 -1 .51 1.5 .51 0 .51 -1.5 .51 1 .51 1 .52 1.5 .51 0 .51 1.5 .51 .5 .51 1 .51 1 .51 1 .51 2 .52 -1 .51 1.5 .51 -.5 .51 1.5 .51 1.5 .51 0 .51 .5 .52 2.5 .51 -.5 .51 5 .51 -7 .51 -.5 .51 4 .51 -3 .51 1 .52 1 .51 -1.5 .51 3 .51 -5.5 .51 4 .51 -3.5 .51 2 .51 1.5 .52 2.5 .51 -1 .51 0 .51 -3 .51 1.5 .51 .5 .51 .5 .51 -1 .52 -5 .51 5 .51 1 .51 0 .51 1 .51 -2.5 .51 2.5 .52 -1.5 .51 -.5 .51 .5 .51 -.5 .51 1.5 .51 -1 .51 0 .51 -1.5 .52 .5 .51 3 .51 -3.5 .51 .5 .51 -1.5 .51 1.5 .51 .5 .51 1.5 .52 -2 .51 0 .51 4.5 .51 -4.5 .51 1.5 .51 -2.5 .51 4 .51 -3.5 .52 7.5 .51 -7 .51 -1.5 .51 .5 .51 -6.5 .51 5 .51 1 .52 -1.5 .51 -.5 .51 6.5 .51 -8.5 .51 -1 .51 2 .51 -3.5 .51 -.5 .52 -2.5 .51 -1.5 .51 -3 .51 -4 .51 -6 .51 -.5 .51 -2.5 .51 -2 .52 -3 .51 -2 .51 -.5 .51 1 .51 .5 .51 1.5 .51 1.5 .51 1.5 .52 3 .51 2 .51 3.5 .51 3 .51 2 .51 2.5 .51 -.5 .52 5 .51 0 .51 2.5 .51 -1 .51 2.5 .51 -1 .51 6 .51 -3.5 .52 1 .51 -2 .51 4.5 .51 0 .51 -.5 .51 -2 .51 1.5 .51 0 .52 1.5 .51 2.5 .51 -3 .51 .5 .51 0 .51 0 .51 0 .51 0 .52 2.5 .51 -2.5 .51 .5 .51 2 .51 -1 .51 -.5 .51 -.5 .52 .5 .51 0 .51 .5 .51 -.5 .51 1 .51 -.5 .51 1.5 .51 -2 .52 -.5 .51 0 .51 0 .51 0 .51 2.5 .51 0 .51 -1.5 .51 1 .52 -2 .51 -.5 .51 3 .51 -1.5 .51 -1 .51 6 .51 -6 .51 2 .52 2 .51 -2.5 .51 3.5 .51 -3.5 .51 -1.5 .51 3 .51 -1 .52 .5 .51 -1.5 .51 1.5 .51 -1 .51 .5 .51 1 .51 -1.5 .51 3 .52 -3.5 .51 1 .51 1.5 .51 -2.5 .51 -.5 .51 1.5 .51 1 .51 0 .52 -1 .51 -.5 .51 10 .51 -9.5 .51 -1 .51 1 .51 -2 .51 1 .52 -2 .51 1.5 .51 1 .51 -1.5 .51 2 .51 -2 .51 .5 .51 1 .52 1 .51 -1 .51 1 .51 -4 .51 3.5 .51 -.5 .51 -6 .52 6.5 .51 -.5 .51 1.5 .51 -1 .51 0 .51 -1.5 .51 1.5 .51 -.5 .52 -2.5 .51 .5 .51 2 .51 -1 .51 3 .51 -.5 .51 0 .51 -1 .52 .5 .51 -1 .51 -4 .51 8 .51 -2.5 .51 -1.5 .51 3 .51 -2.5 .52 1.5 .51 -2 .51 1.5 .51 -1.5 .51 0 .51 .5 .51 0 .52 -2 .51 5 .51 -3 .51 -.5 .51 0 .51 -1 .51 1.5 .51 -.5 .52 -1 .51 2 .51 1.5 .51 -3 .51 2 .51 -.5 .51 -.5 .51 .5 .52 -1.5 .51 1 .51 -1 .51 1 .51 0 .51 -1 .51 -1 .51 2 .52 -.5 .51 -1.5 .51 -1 .51 1.5 .51 -1.5 .51 -.5 .51 2.5 .52 -1 .51 .5 .51 -1.5 .51 1 .51 -3.5 .51 4 .51 -2 .51 -.5 .52 -1.5 .51 -2 .51 1.5 .51 -2.5 .51 -1 .51 1 .51 -2 .51 -2 .52 0 .51 -2 .51 -1 .51 -4 .51 3.5 .51 3 .51 -3 .51 .5 .52 2 .51 3 .51 -2 .51 -1 .51 -.5 .51 4 .51 2 .52 -.5 .51 .5 .51 1.5 .51 .5 .51 .5 .51 1 .51 .5 .51 6 .52 -6.5 .51 2.5 .51 8 .51 -9 .51 1.5 .51 -1 .51 .5 .51 0 .52 -3 .51 1 .51 3 .51 .5 .51 -2 .51 .5 .51 -1 .51 0 .52 0 .51 .5 .51 -1 .51 3 .51 -1.5 .51 2.5 .51 -1.5 .52 -1.5 .51 1 .51 -3.5 .51 3.5 .51 -1.5 .51 2.5 .51 -.5 .51 -.5 .52 .5 .51 -4 .51 2 .51 -4.5 .51 5 .51 .5 .51 0 .51 0 .52 4 .51 -4 .51 -.5 .51 -1 .51 -1 .51 -1 .51 4 .51 -4.5 .52 2.5 .51 -7.5 .51 7.5 .51 -1 .51 .5 .51 -2 .51 1 .52 -1 .51 -.5 .51 2.5 .51 -3 .51 1 .51 -1 .51 -1 .51 -1.5 .52 1.5 .51 -2.5 .51 -1.5 .51 0 .51 -3 .51 -1.5 .51 -3 .51 -2.5 .52 -2.5 .51 -4 .51 -3 .51 -2.5 .51 -3.5 .51 -1.5 .51 1 .51 -.5 .52 1.5 .51 1 .51 4.5 .51 -2.5 .51 3 .51 4 .51 0 .52 2.5 .51 3 .51 2.5 .51 2.5 .51 2.5 .51 -.5 .51 3 .51 3.5 .52 -1.5 .51 0 .51 2.5 .51 1.5 .51 -.5 .51 .5 .51 -1 .51 0 .52 1.5 .51 -.5 .51 1.5 .51 -.5 .51 -2 .51 1 .51 1 .51 0 .52 .5 .51 -1.5 .51 .5 .51 4 .51 0 .51 -1 .51 -2.5 .52 1.5 .51 -.5 .51 -.5 .51 1 .51 -.5 .51 -.5 .51 -2 .51 4 .52 3 .51 -4.5 .51 -1 .51 4.5 .51 -2.5 .51 2 .51 -3.5 .51 2 .52 -.5 .51 .5 .51 0 .51 -1.5 .51 1 .51 0 .51 1 .51 0 .52 1 .51 3 .51 -4.5 .51 -2 .51 2 .51 2.5 .51 -3 .52 1.5 .51 -2.5 .51 .5 .51 -2 .51 3 .51 -1.5 .51 -2 .51 2 .52 0 .51 -2 .51 2 .51 2 .51 -3 .51 1 .51 3.5 .51 -1.5 .52 -.5 .51 -.5 .51 -.5 .51 -1 .51 1.5 .51 1 .51 -2 .51 1 .52 1 .51 3 .51 -5 .51 2 .51 4 .51 -4 .51 -2 .52 -.5 .51 1.5 .51 -1.5 .51 -3.5 .51 4 .51 2 .51 1.5 .51 -1.5 .52 -1 .51 -1 .51 2.5 .51 -2.5 .51 0 .51 3 .51 -3 .51 1 .52 -.5 .51 -1.5 .51 2 .51 -.5 .51 -1.5 .51 1.5 .51 -.5 .51 -1 .52 3.5 .51 -2 .51 1.5 .51 1.5 .51 1.5 .51 -3 .51 -2 .52 2.5 .51 -1 .51 -.5 .51 4 .51 -4 .51 .5 .51 -1 .51 2 .52 -1.5 .51 1.5 .51 -5 .51 2.5 .51 1 .51 -2.5 .51 1 .51 2 .52 -.5L953.01 815.0Z"/><path fill="none" stroke-miterlimit="40" d="M36.26 768.5l.51 -4 .52 -3.5 .51 -7.5 .51 -6 .51 -8 .51 -8 .51 -5 .51 .5 .51 5 .52 3 .51 9 .51 7 .51 7M38.31 747.5l.51 -8 .51 -8 .51 -5 .51 .5 .51 5 .52 3 .51 9 .51 7 .51 7 .51 6 .51 3.5M217.77 775.5l.51 -4 .51 -2.5 .51 -3 .52 -4 .51 -6 .51 -3.5 .51 -3.5 .51 -3 .51 2 .51 -.5 .52 2.5 .51 -.5 .51 6.5 .51 3.5 .51 3.5 .51 3.5M219.30 766.0l.52 -4 .51 -6 .51 -3.5 .51 -3.5 .51 -3 .51 2 .51 -.5 .52 2.5 .51 -.5 .51 6.5 .51 3.5 .51 3.5 .51 3.5M435.07 756.0l.51 -8 .51 -8.5 .51 -9 .51 -9 .52 -8 .51 -7 .51 -5 .51 -1 .51 1 .51 3 .51 5 .51 5.5 .52 7.5 .51 9 .51 8 .51 7M436.60 730.5l.51 -9 .52 -8 .51 -7 .51 -5 .51 -1 .51 1 .51 3 .51 5 .51 5.5 .52 7.5 .51 9 .51 8 .51 7M614.02 774.0l.51 -4.5 .51 -4.5 .51 -5 .52 -3.5 .51 -5 .51 -4.5 .51 -3.5 .51 -3.5 .51 1 .51 -1 .51 3 .52 -1.5 .51 7.5 .51 2 .51 3 .51 4.5M616.07 756.5l.51 -5 .51 -4.5 .51 -3.5 .51 -3.5 .51 1 .51 -1 .51 3 .52 -1.5 .51 7.5 .51 2 .51 3 .51 4.5M723.95 778.0l.51 -4 .51 -6 .51 -.5 .51 -2.5 .51 -2 .52 -3 .51 -2 .51 -.5 .51 1 .51 .5 .51 1.5 .51 1.5 .51 1.5 .52 3 .51 2 .51 3.5M872.22 779.5l.51 -3 .51 -2.5 .52 -2.5 .51 -4 .51 -3 .51 -2.5 .51 -3.5 .51 -1.5 .51 1 .51 -.5 .52 1.5 .51 1 .51 4.5 .51 -2.5 .51 3 .51 4M874.78 764.5l.51 -2.5 .51 -3.5 .51 -1.5 .51 1 .51 -.5 .52 1.5 .51 1 .51 4.5 .51 -2.5 .51 3 .51 4"/><path fill="#FF00FF" d="M15.30 856.0L15.30 824.0l.51 3 .51 -3 .51 1 .52 1.5 .51 -1 .51 1 .51 -2.5 .51 3.5 .51 -3.5 .51 3.5 .51 -5.5 .52 4 .51 .5 .51 -1 .51 1.5 .51 -1 .51 -2 .51 1 .51 2 .52 -2 .51 .5 .51 6 .51 -7 .51 0 .51 1.5 .51 .5 .51 0 .52 -1 .51 -1 .51 -.5 .51 0 .51 -.5 .51 3 .51 -3.5 .52 -3 .51 3.5 .51 .5 .51 -1 .51 -5 .51 2 .51 0 .51 -4.5 .52 -4.5 .51 -3.5 .51 -2 .51 -4 .51 -1 .51 1 .51 1 .51 3.5 .52 4 .51 5.5 .51 0 .51 3 .51 2 .51 2.5 .51 1 .51 -.5 .52 -.5 .51 2.5 .51 -6.5 .51 7 .51 -1 .51 0 .51 1.5 .52 -1.5 .51 1 .51 6 .51 -6 .51 1.5 .51 1 .51 0 .51 -2 .52 1.5 .51 -2 .51 -1.5 .51 -.5 .51 2 .51 1 .51 -.5 .51 -3 .52 2.5 .51 8.5 .51 -9 .51 1 .51 2 .51 2 .51 -2 .51 -1 .52 1.5 .51 -3 .51 4 .51 -1.5 .51 -2 .51 0 .51 1 .52 -2 .51 1 .51 .5 .51 1 .51 2 .51 1 .51 -2.5 .51 0 .52 -1 .51 -.5 .51 -.5 .51 3 .51 -2.5 .51 1.5 .51 0 .51 -.5 .52 -2 .51 2 .51 2.5 .51 -2.5 .51 -2.5 .51 2.5 .51 7 .51 -8 .52 3.5 .51 -1 .51 -2.5 .51 1 .51 -2 .51 .5 .51 2 .52 -.5 .51 1.5 .51 -2 .51 2.5 .51 -2 .51 0 .51 1 .51 2.5 .52 -2 .51 2 .51 -5.5 .51 1.5 .51 4.5 .51 -5 .51 1.5 .51 -1 .52 2.5 .51 4.5 .51 -4.5 .51 0 .51 1 .51 -2 .51 -.5 .51 1.5 .52 0 .51 -.5 .51 1 .51 -2.5 .51 .5 .51 -.5 .51 1 .52 1.5 .51 0 .51 -3 .51 3 .51 2.5 .51 -2 .51 .5 .51 -2 .52 1.5 .51 .5 .51 -2.5 .51 -2.5 .51 3.5 .51 2.5 .51 -4 .51 1 .52 -.5 .51 0 .51 1 .51 1.5 .51 1 .51 -2 .51 -3.5 .51 3.5 .52 0 .51 -1 .51 1 .51 -1 .51 1.5 .51 -2 .51 3 .52 -1 .51 -6 .51 6.5 .51 -1 .51 -1.5 .51 3 .51 -4.5 .51 2.5 .52 0 .51 -1 .51 -1 .51 4.5 .51 -1 .51 -3 .51 -9 .51 11.5 .52 -2 .51 .5 .51 1.5 .51 -1 .51 .5 .51 -.5 .51 -1.5 .51 1 .52 1 .51 -1.5 .51 1.5 .51 2.5 .51 2.5 .51 -7.5 .51 2.5 .52 -2.5 .51 1.5 .51 .5 .51 1 .51 -1.5 .51 2 .51 2.5 .51 -4.5 .52 -1.5 .51 2.5 .51 -1 .51 0 .51 10.5 .51 -11 .51 -.5 .51 4 .52 -2 .51 -1.5 .51 -.5 .51 2 .51 1.5 .51 -2 .51 -3.5 .51 -1 .52 1.5 .51 4 .51 .5 .51 11.5 .51 -13 .51 -1 .51 2 .52 -3 .51 1.5 .51 1 .51 -2 .51 1 .51 2 .51 -3 .51 -1.5 .52 2.5 .51 -1 .51 1.5 .51 3.5 .51 .5 .51 -3.5 .51 -2.5 .51 1.5 .52 3 .51 -3.5 .51 .5 .51 0 .51 1.5 .51 -3 .51 2.5 .51 -.5 .52 0 .51 -4 .51 3.5 .51 1.5 .51 -1 .51 .5 .51 -1 .52 2.5 .51 -2 .51 -2.5 .51 5 .51 -3.5 .51 1.5 .51 -.5 .51 -1 .52 -.5 .51 5 .51 -1.5 .51 -3 .51 3 .51 -3 .51 1.5 .51 -1 .52 2 .51 0 .51 -4 .51 2.5 .51 -.5 .51 -1.5 .51 3 .51 0 .52 -1.5 .51 1 .51 1.5 .51 -.5 .51 -1 .51 -1.5 .51 2 .52 -1.5 .51 1.5 .51 -6 .51 4.5 .51 1.5 .51 -1 .51 -1.5 .51 .5 .52 5 .51 -3 .51 4 .51 -6 .51 -1 .51 5 .51 -5.5 .51 -.5 .52 4.5 .51 -4 .51 8.5 .51 -6 .51 .5 .51 -3.5 .51 3 .51 1 .52 -2 .51 5.5 .51 -6 .51 1.5 .51 2.5 .51 -4 .51 1.5 .52 .5 .51 -.5 .51 .5 .51 3 .51 .5 .51 -5 .51 -4 .51 6 .52 -2.5 .51 1 .51 -1.5 .51 -1 .51 3 .51 -.5 .51 -.5 .51 2.5 .52 -1.5 .51 -1 .51 -.5 .51 0 .51 1 .51 1 .51 -.5 .51 .5 .52 0 .51 -3.5 .51 3.5 .51 -1.5 .51 .5 .51 0 .51 -1 .52 3 .51 0 .51 -4 .51 3 .51 -1 .51 1 .51 -.5 .51 -2 .52 2 .51 -1 .51 -.5 .51 0 .51 .5 .51 0 .51 .5 .51 -3 .52 -1 .51 0 .51 -1 .51 -.5 .51 0 .51 -3 .51 3 .51 -.5 .52 -3 .51 -.5 .51 .5 .51 0 .51 1 .51 1.5 .51 5 .52 -6 .51 2.5 .51 -.5 .51 0 .51 3 .51 .5 .51 .5 .51 0 .52 3 .51 -3.5 .51 2 .51 -.5 .51 6 .51 -5 .51 1.5 .51 -1.5 .52 0 .51 1 .51 -7.5 .51 6.5 .51 0 .51 .5 .51 -2 .51 1 .52 2 .51 -1.5 .51 .5 .51 .5 .51 -1.5 .51 -3.5 .51 5.5 .52 2.5 .51 1 .51 -1.5 .51 -2 .51 -3.5 .51 1.5 .51 1.5 .51 .5 .52 .5 .51 -.5 .51 0 .51 0 .51 1 .51 -.5 .51 -6.5 .51 5 .52 .5 .51 -.5 .51 0 .51 1 .51 2 .51 -3.5 .51 0 .51 2.5 .52 -2 .51 -.5 .51 -.5 .51 5 .51 -2 .51 0 .51 -.5 .52 -1 .51 0 .51 2 .51 -1.5 .51 -.5 .51 -.5 .51 1.5 .51 0 .52 .5 .51 -1 .51 .5 .51 -.5 .51 -1.5 .51 2 .51 -2.5 .51 1.5 .52 0 .51 -.5 .51 -.5 .51 -1 .51 -.5 .51 2.5 .51 0 .51 -3 .52 2 .51 1 .51 0 .51 7.5 .51 -8.5 .51 5.5 .51 -6 .51 3 .52 -3.5 .51 -.5 .51 1.5 .51 2 .51 -12 .51 11.5 .51 -.5 .52 -1.5 .51 4.5 .51 -6 .51 1 .51 -2 .51 2 .51 -2 .51 4.5 .52 -4 .51 2 .51 -1 .51 0 .51 -2 .51 .5 .51 -.5 .51 -.5 .52 -1 .51 -1 .51 1.5 .51 -1 .51 1.5 .51 -.5 .51 -1.5 .51 0 .52 -3 .51 2 .51 0 .51 -1.5 .51 -.5 .51 -1 .51 1 .52 -2 .51 -1 .51 -1 .51 .5 .51 -1.5 .51 -1 .51 0 .51 -2.5 .52 -2 .51 -2 .51 0 .51 -1 .51 -1 .51 -2.5 .51 -.5 .51 -3.5 .52 -2.5 .51 -2 .51 -3.5 .51 -5 .51 -8 .51 -12 .51 -15.5 .51 -24.5 .52 -31 .51 -39.5 .51 -44.5 .51 -46 .51 -39 .51 -23.5 .51 -1 .52 21.5 .51 37.5 .51 45.5 .51 45 .51 40 .51 30.5 .51 27 .51 17.5 .52 12.5 .51 8.5 .51 8 .51 -.5 .51 4 .51 3 .51 1 .51 0 .52 3 .51 1.5 .51 2.5 .51 4.5 .51 -2.5 .51 1.5 .51 1.5 .51 1 .52 .5 .51 2 .51 -.5 .51 2 .51 5 .51 -4 .51 -3.5 .52 3.5 .51 1 .51 -.5 .51 4.5 .51 0 .51 .5 .51 -2 .51 1.5 .52 -.5 .51 0 .51 0 .51 2 .51 -1 .51 0 .51 .5 .51 -3.5 .52 4.5 .51 -2 .51 1 .51 -1 .51 2 .51 .5 .51 -1 .51 2 .52 .5 .51 -5.5 .51 6 .51 -2.5 .51 6.5 .51 -5 .51 1 .52 -3.5 .51 3.5 .51 2 .51 -1 .51 .5 .51 -1 .51 -.5 .51 0 .52 2.5 .51 -2 .51 1 .51 -1.5 .51 2.5 .51 -3 .51 4.5 .51 -4.5 .52 -1 .51 3.5 .51 -.5 .51 1 .51 -2 .51 1.5 .51 -.5 .51 -5 .52 5 .51 1.5 .51 2.5 .51 -4.5 .51 0 .51 -1 .51 3 .52 -1 .51 -1.5 .51 3 .51 6.5 .51 -8 .51 -1 .51 3 .51 -2.5 .52 1.5 .51 -.5 .51 -1 .51 -2 .51 4 .51 -.5 .51 3 .51 -3 .52 -3 .51 4 .51 -2.5 .51 1 .51 3.5 .51 -4.5 .51 .5 .51 2 .52 0 .51 .5 .51 -1 .51 -3.5 .51 3 .51 1.5 .51 -1 .52 -2 .51 4 .51 -3 .51 -2 .51 2 .51 1 .51 1 .51 -1.5 .52 -1.5 .51 1.5 .51 .5 .51 0 .51 -.5 .51 -3 .51 3 .51 1.5 .52 -2 .51 .5 .51 -2 .51 2 .51 0 .51 -3.5 .51 5 .51 -3 .52 -1 .51 1.5 .51 -.5 .51 1.5 .51 .5 .51 1.5 .51 0 .52 -.5 .51 -2 .51 2.5 .51 -1.5 .51 0 .51 -.5 .51 1 .51 -.5 .52 .5 .51 -1 .51 -2.5 .51 2.5 .51 1.5 .51 -1.5 .51 1 .51 -.5 .52 -.5 .51 2 .51 0 .51 -2 .51 2 .51 -1.5 .51 0 .51 .5 .52 0 .51 -.5 .51 -1 .51 3 .51 3 .51 -4 .51 -1.5 .52 .5 .51 0 .51 1 .51 1 .51 1 .51 -2.5 .51 -2 .51 2 .52 1.5 .51 -2.5 .51 1 .51 1 .51 -2.5 .51 0 .51 2 .51 -1 .52 0 .51 -.5 .51 2 .51 -.5 .51 0 .51 -2 .51 2 .51 -2 .52 2.5 .51 -1 .51 0 .51 1 .51 -2.5 .51 2.5 .51 0 .52 .5 .51 -3.5 .51 3 .51 .5 .51 -.5 .51 -6.5 .51 8 .51 -4 .52 2 .51 1 .51 -1.5 .51 0 .51 1 .51 1.5 .51 -1 .51 -2.5 .52 -2.5 .51 .5 .51 4.5 .51 -1.5 .51 1 .51 -1 .51 .5 .51 -1.5 .52 3 .51 -1 .51 -.5 .51 -.5 .51 -2 .51 2 .51 -.5 .52 1 .51 -5 .51 5.5 .51 .5 .51 -3 .51 3 .51 -2.5 .51 1.5 .52 -1 .51 -2 .51 4 .51 -1 .51 -.5 .51 2 .51 -1.5 .51 1 .52 -1.5 .51 -2 .51 3 .51 -1 .51 1.5 .51 -2.5 .51 2 .51 1.5 .52 -1.5 .51 -4 .51 3.5 .51 0 .51 0 .51 .5 .51 1 .52 -.5 .51 4 .51 -4.5 .51 -.5 .51 .5 .51 .5 .51 -.5 .51 -2 .52 1 .51 0 .51 1 .51 0 .51 0 .51 7 .51 -4.5 .51 -3 .52 2 .51 -9 .51 7 .51 1.5 .51 -.5 .51 .5 .51 -1.5 .51 .5 .52 .5 .51 -2 .51 0 .51 4.5 .51 -3 .51 2 .51 -.5 .52 .5 .51 -2 .51 -.5 .51 1 .51 -2.5 .51 1 .51 -1.5 .51 8.5 .52 -7 .51 1 .51 -1 .51 -.5 .51 2.5 .51 -2 .51 0 .51 .5 .52 .5 .51 1.5 .51 -2 .51 -1 .51 6.5 .51 -5.5 .51 2.5 .51 -3 .52 1 .51 1 .51 1.5 .51 -3.5 .51 1 .51 -3 .51 3 .52 1 .51 -3.5 .51 1.5 .51 1 .51 1 .51 -6 .51 7 .51 -2.5 .52 -1 .51 1 .51 -.5 .51 -.5 .51 1 .51 .5 .51 -.5 .51 1.5 .52 -2 .51 -1 .51 1 .51 -1 .51 2 .51 -1 .51 -2 .51 .5 .52 .5 .51 .5 .51 -1 .51 -1 .51 -1.5 .51 1.5 .51 -1 .52 1.5 .51 -2.5 .51 -.5 .51 -1.5 .51 -.5 .51 -.5 .51 -.5 .51 -.5 .52 .5 .51 0 .51 -.5 .51 .5 .51 -.5 .51 2 .51 1 .51 -1 .52 .5 .51 2 .51 -1 .51 2 .51 -1 .51 -.5 .51 4 .51 -3 .52 1.5 .51 3.5 .51 -3.5 .51 2 .51 -.5 .51 1.5 .51 -.5 .52 -1.5 .51 1.5 .51 -2 .51 .5 .51 3.5 .51 -5 .51 2.5 .51 -.5 .52 3.5 .51 -1 .51 -2.5 .51 1.5 .51 .5 .51 .5 .51 -1 .51 0 .52 1 .51 1.5 .51 -1.5 .51 -1 .51 .5 .51 -1 .51 2.5 .51 0 .52 -2 .51 0 .51 .5 .51 1.5 .51 -1.5 .51 1 .51 -1.5 .52 -.5 .51 1 .51 .5 .51 .5 .51 -1.5 .51 2 .51 -2 .51 -1 .52 1 .51 -.5 .51 .5 .51 -.5 .51 .5 .51 1 .51 -.5 .51 -1.5 .52 .5 .51 1 .51 5.5 .51 -4 .51 1.5 .51 -2.5 .51 .5 .51 -.5 .52 -1 .51 2 .51 -.5 .51 -1 .51 -.5 .51 1.5 .51 -1 .52 0 .51 0 .51 -1 .51 1 .51 0 .51 .5 .51 -2 .51 2 .52 0 .51 -6 .51 4 .51 .5 .51 6.5 .51 -4.5 .51 -1 .51 0 .52 0 .51 1.5 .51 -2.5 .51 1 .51 .5 .51 -5 .51 5.5 .51 -3 .52 1.5 .51 7.5 .51 -7.5 .51 1.5 .51 0 .51 -1.5 .51 2.5 .52 -1.5 .51 -.5 .51 -2.5 .51 3 .51 .5 .51 -1.5 .51 1 .51 -1 .52 1 .51 -.5 .51 2 .51 -2.5 .51 1 .51 1.5 .51 -1.5 .51 3 .52 -6.5 .51 4.5 .51 .5 .51 -1 .51 -2.5 .51 2.5 .51 -.5 .51 .5 .52 0 .51 1 .51 -1 .51 0 .51 -1 .51 -4 .51 4.5 .52 0 .51 1 .51 -1 .51 -3.5 .51 5 .51 .5 .51 -4 .51 3 .52 .5 .51 -2.5 .51 1 .51 .5 .51 2 .51 -2 .51 -1 .51 -3.5 .52 5.5 .51 -2.5 .51 1.5 .51 -.5 .51 1.5 .51 -2.5 .51 0 .51 1.5 .52 1 .51 -.5 .51 -1 .51 .5 .51 -2.5 .51 1.5 .51 0 .52 1 .51 -.5 .51 3 .51 -1 .51 -2.5 .51 -1 .51 2 .51 -.5 .52 .5 .51 -1 .51 .5 .51 1.5 .51 3 .51 -5 .51 0 .51 1 .52 0 .51 -1 .51 2.5 .51 1 .51 -4 .51 1 .51 -1.5 .51 1.5 .52 -.5 .51 -2.5 .51 4 .51 0 .51 0 .51 7.5 .51 -8.5 .52 2 .51 -3 .51 1 .51 2 .51 -.5 .51 -.5 .51 0 .51 0 .52 -.5 .51 -.5 .51 -1.5 .51 2.5 .51 1.5 .51 -1 .51 -2 .51 2.5 .52 0 .51 -3 .51 2.5 .51 -3 .51 -1 .51 -.5 .51 2.5 .51 -.5 .52 .5 .51 .5 .51 7.5 .51 -9.5 .51 1 .51 0 .51 0 .52 3 .51 -2 .51 .5 .51 -1 .51 .5 .51 1.5 .51 -.5 .51 -.5 .52 .5 .51 -1 .51 0 .51 -1 .51 2 .51 -3 .51 3.5 .51 -.5 .52 -1 .51 -1 .51 0 .51 .5 .51 0 .51 .5 .51 -5.5 .51 6 .52 -3.5 .51 1 .51 0 .51 3 .51 -1.5 .51 .5 .51 -.5 .52 -.5 .51 -1.5 .51 2.5 .51 -2.5 .51 0 .51 3.5 .51 -2.5 .51 1 .52 -1 .51 -.5 .51 -1.5 .51 1.5 .51 2 .51 -.5 .51 -.5 .51 -2.5 .52 1 .51 .5 .51 .5 .51 -.5 .51 0 .51 -.5 .51 2 .51 -3 .52 -.5 .51 1 .51 -1 .51 0 .51 1 .51 -.5 .51 .5 .52 -1 .51 -.5 .51 -.5 .51 0 .51 1 .51 -4 .51 2 .51 -1.5 .52 1.5 .51 .5 .51 -1.5 .51 0 .51 -2.5 .51 1.5 .51 -.5 .51 -1.5 .52 -2.5 .51 -.5 .51 .5 .51 1.5 .51 -2 .51 -4 .51 1.5 .51 -2.5 .52 -2 .51 -3 .51 -3 .51 -4.5 .51 -6 .51 -6 .51 -10.5 .52 -7.5 .51 -10 .51 -10 .51 -8 .51 -6 .51 -3 .51 1 .51 5 .52 5 .51 7 .51 8.5 .51 6 .51 5.5 .51 5 .51 5.5 .51 4 .52 -.5 .51 1.5 .51 -1.5 .51 .5 .51 -.5 .51 -1 .51 -.5 .51 -.5 .52 -.5 .51 2 .51 3.5 .51 0 .51 3 .51 4.5 .51 3.5 .52 4.5 .51 1.5 .51 2.5 .51 2 .51 3 .51 0 .51 3 .51 -.5 .52 1.5 .51 1.5 .51 .5 .51 1.5 .51 1 .51 -1.5 .51 2.5 .51 .5 .52 -.5 .51 1.5 .51 -.5 .51 1.5 .51 2 .51 0 .51 1.5 .51 -5.5 .52 4.5 .51 0 .51 7.5 .51 -7.5 .51 1 .51 -1 .51 1 .52 -1 .51 -.5 .51 -4 .51 7 .51 -1.5 .51 0 .51 0 .51 .5 .52 -2 .51 2 .51 0 .51 1 .51 0 .51 -1 .51 -2 .51 .5 .52 1 .51 2 .51 -1 .51 -1 .51 1.5 .51 .5 .51 -.5 .51 -.5 .52 1 .51 -1 .51 2.5 .51 -1 .51 .5 .51 -1.5 .51 0 .52 1 .51 -2 .51 2 .51 5.5 .51 -4.5 .51 -1 .51 -1.5 .51 -.5 .52 2 .51 -1.5 .51 9 .51 -11 .51 4.5 .51 -2.5 .51 1.5 .51 2 .52 -2 .51 7.5 .51 -3.5 .51 -5 .51 6.5 .51 -5 .51 0 .51 .5 .52 -.5 .51 -1 .51 0 .51 1 .51 0 .51 1 .51 -2 .52 .5 .51 -.5 .51 -2.5 .51 0 .51 3.5 .51 -1.5 .51 3 .51 -3 .52 1 .51 2 .51 -2 .51 -1 .51 3 .51 -3 .51 2 .51 -2.5 .52 -7.5 .51 9.5 .51 -3 .51 2.5 .51 -1.5 .51 1.5 .51 -1 .51 6.5 .52 -4 .51 -1.5 .51 .5 .51 -1 .51 .5 .51 1 .51 -2 .52 -.5 .51 1.5 .51 1.5 .51 -1.5 .51 .5 .51 .5 .51 1.5 .51 -1.5 .52 -.5 .51 -2 .51 2.5 .51 1 .51 -1 .51 -2 .51 1.5 .51 3.5 .52 -3.5 .51 0 .51 1.5 .51 -1.5 .51 .5 .51 -.5 .51 1.5 .51 -4 .52 4.5 .51 -1.5 .51 1 .51 -.5 .51 -.5 .51 0 .51 -.5 .52 0 .51 0 .51 0 .51 -1 .51 1 .51 -.5 .51 1 .51 -5 .52 5 .51 0 .51 -2 .51 2 .51 0 .51 .5 .51 -1 .51 -1.5 .52 1.5 .51 .5 .51 -2 .51 .5 .51 1.5 .51 -2.5 .51 0 .51 3 .52 .5 .51 -1 .51 .5 .51 -.5 .51 -3 .51 3 .51 -.5 .51 0 .52 1.5 .51 -1 .51 0 .51 2 .51 -2 .51 0 .51 -.5 .52 1 .51 1.5 .51 -3 .51 .5 .51 2 .51 -6.5 .51 3.5 .51 .5 .52 .5 .51 0 .51 -.5 .51 1.5 .51 -1.5 .51 .5 .51 -.5 .51 3 .52 -2.5 .51 .5 .51 2.5 .51 -3 .51 2 .51 1 .51 -2 .51 -1.5 .52 -3.5 .51 3.5 .51 .5 .51 2 .51 -2.5 .51 1.5 .51 -.5 .52 -1 .51 2 .51 -1.5 .51 -1 .51 3 .51 -.5 .51 -3 .51 2.5 .52 -1.5 .51 -1 .51 .5 .51 1 .51 -2 .51 4.5 .51 -4.5 .51 -1 .52 -.5 .51 3 .51 -1 .51 3.5 .51 -3 .51 2 .51 -1.5 .51 0 .52 -1 .51 1 .51 -1 .51 1 .51 -2 .51 1.5 .51 -1.5 .52 .5 .51 -1.5 .51 .5 .51 -.5 .51 6 .51 -6.5 .51 -.5 .51 -1.5 .52 -1 .51 2 .51 -2.5 .51 1 .51 -1 .51 -2 .51 1.5 .51 1.5 .52 -1.5 .51 -1 .51 3 .51 4.5 .51 -2 .51 -3.5 .51 1 .51 1.5 .52 -1.5 .51 .5 .51 1 .51 -2.5 .51 1.5 .51 1 .51 -2.5 .52 -1 .51 .5 .51 -1 .51 -.5 .51 -2 .51 -.5 .51 -.5 .51 -2.5 .52 0 .51 1.5 .51 -.5 .51 2.5 .51 -.5 .51 -1 .51 6.5 .51 -7 .52 4 .51 1 .51 .5 .51 -6.5 .51 10 .51 -.5 .51 1 .51 -.5 .52 1 .51 -1 .51 3.5 .51 .5 .51 -2 .51 0 .51 2.5 .52 -2.5 .51 -.5 .51 1 .51 3 .51 -.5 .51 -1 .51 -2 .51 2 .52 0 .51 .5 .51 -1 .51 -1 .51 2 .51 -.5 .51 1 .51 -1.5 .52 1 .51 5 .51 -9.5 .51 4.5 .51 .5 .51 -.5 .51 1 .51 -1 .52 -2 .51 2 .51 -1.5 .51 1.5 .51 -1 .51 -.5 .51 6 .52 -6 .51 2.5 .51 -8 .51 5.5 .51 .5 .51 1 .51 -.5 .51 -1.5 .52 2.5 .51 0 .51 2 .51 -2.5 .51 -3 .51 4.5 .51 7 .51 -9 .52 1 .51 -1 .51 -.5 .51 0 .51 -1.5 .51 .5 .51 4 .51 -3 .52 .5 .51 -.5 .51 2 .51 -3.5 .51 2 .51 1.5 .51 -2 .52 1 .51 -2 .51 5 .51 -3 .51 -1 .51 1 .51 -3 .51 5 .52 -3 .51 -.5 .51 .5 .51 0 .51 -.5 .51 -3.5 .51 4.5 .51 1 .52 0 .51 -.5 .51 1.5 .51 .5 .51 -2 .51 -2 .51 -1.5 .51 4 .52 0 .51 -1.5 .51 -1.5 .51 -.5 .51 .5 .51 .5 .51 1 .52 -1 .51 1 .51 -2.5 .51 1.5 .51 -1 .51 .5 .51 -2 .51 -1.5 .52 .5 .51 .5 .51 -2 .51 -.5 .51 1 .51 -1 .51 .5 .51 .5 .52 -2 .51 2 .51 -.5 .51 -1 .51 2 .51 2 .51 0 .51 .5 .52 -1.5 .51 -.5 .51 1.5 .51 0 .51 2 .51 0 .51 0 .52 .5 .51 .5 .51 2 .51 -1.5 .51 -1 .51 1 .51 0 .51 -1 .52 0 .51 -.5 .51 1.5 .51 0 .51 1 .51 0 .51 1 .51 -1.5 .52 -1 .51 1 .51 -.5 .51 0 .51 -.5 .51 -.5 .51 1 .51 -1 .52 0 .51 3 .51 -2 .51 -1.5 .51 .5 .51 1 .51 -1 .52 0 .51 6 .51 -3.5 .51 -2 .51 5 .51 -5.5 .51 1 .51 .5 .52 -1 .51 1 .51 2 .51 -2 .51 -2 .51 3 .51 -3.5 .51 4.5 .52 -1 .51 1 .51 -3.5 .51 2.5 .51 -1 .51 -.5 .51 1 .51 -1.5 .52 9.5 .51 -9 .51 1 .51 0 .51 -2.5 .51 0 .51 1 .52 0 .51 0 .51 .5 .51 3.5 .51 -3 .51 .5 .51 .5 .51 2 .52 -3 .51 1 .51 0 .51 -1.5 .51 -1.5 .51 1.5 .51 1 .51 -1.5 .52 2L953.01 856.0Z"/><path fill="none" stroke-miterlimit="40" d="M35.75 820.0l.51 0 .51 -4.5 .52 -4.5 .51 -3.5 .51 -2 .51 -4 .51 -1 .51 1 .51 1 .51 3.5 .52 4 .51 5.5M302.13 751.5l.51 -24.5 .52 -31 .51 -39.5 .51 -44.5 .51 -46 .51 -39 .51 -23.5 .51 -1 .52 21.5 .51 37.5 .51 45.5 .51 45 .51 40 .51 30.5 .51 27 .51 17.5M669.75 800.5l.51 -6 .51 -10.5 .52 -7.5 .51 -10 .51 -10 .51 -8 .51 -6 .51 -3 .51 1 .51 5 .52 5 .51 7 .51 8.5 .51 6 .51 5.5 .51 5M669.75 800.5l.51 -6 .51 -10.5 .52 -7.5 .51 -10 .51 -10 .51 -8 .51 -6 .51 -3 .51 1 .51 5 .52 5 .51 7 .51 8.5 .51 6 .51 5.5 .51 5M679.98 793.0l.51 -1.5 .51 .5 .51 -.5 .51 -1 .51 -.5 .51 -.5 .52 -.5 .51 2 .51 3.5 .51 0 .51 3 .51 4.5 .51 3.5 .52 4.5 .51 1.5"/><path fill="#FF00DD" d="M15.30 896.5L15.30 867.0l.51 2 .51 1.5 .51 -2.5 .52 -4 .51 5 .51 -2 .51 2.5 .51 -.5 .51 .5 .51 -4.5 .51 -3.5 .52 7.5 .51 0 .51 -1.5 .51 0 .51 2 .51 -1 .51 -.5 .51 1 .52 4.5 .51 -4 .51 -1 .51 -2 .51 1.5 .51 .5 .51 1 .51 -2.5 .52 5 .51 -5 .51 1.5 .51 14.5 .51 -13.5 .51 1 .51 1.5 .52 -2.5 .51 -4.5 .51 3.5 .51 .5 .51 -3 .51 4 .51 -.5 .51 1 .52 -1.5 .51 -1 .51 1 .51 .5 .51 3.5 .51 -3 .51 -5 .51 4.5 .52 0 .51 1 .51 -2.5 .51 1 .51 -1.5 .51 3 .51 -1 .51 1 .52 -1.5 .51 1.5 .51 -2 .51 2.5 .51 .5 .51 -5.5 .51 5 .52 -.5 .51 -5 .51 7 .51 -2.5 .51 0 .51 -2.5 .51 2 .51 0 .52 .5 .51 0 .51 1.5 .51 -2.5 .51 .5 .51 2.5 .51 0 .51 -.5 .52 -2.5 .51 2.5 .51 0 .51 1 .51 -6 .51 5 .51 -2.5 .51 -.5 .52 -.5 .51 2 .51 -1 .51 1 .51 1 .51 .5 .51 -.5 .52 1.5 .51 -2.5 .51 -2 .51 4 .51 -3 .51 2 .51 9 .51 -10 .52 .5 .51 -.5 .51 .5 .51 -1 .51 2 .51 -2 .51 1 .51 1 .52 -.5 .51 1.5 .51 -.5 .51 -1.5 .51 2.5 .51 -2.5 .51 1 .51 -1 .52 1.5 .51 -1.5 .51 1 .51 -1.5 .51 -.5 .51 1 .51 6 .52 -6 .51 0 .51 1.5 .51 .5 .51 -2.5 .51 1.5 .51 0 .51 0 .52 -1.5 .51 0 .51 .5 .51 -.5 .51 -3.5 .51 2.5 .51 3 .51 -9 .52 7.5 .51 -4.5 .51 -.5 .51 -2 .51 -5 .51 -1 .51 -5 .51 -4.5 .52 -7 .51 -2 .51 -4 .51 2.5 .51 2 .51 4.5 .51 4.5 .52 4 .51 4 .51 5 .51 1.5 .51 3 .51 .5 .51 -1.5 .51 4 .52 1 .51 4 .51 2 .51 -4 .51 .5 .51 -.5 .51 -1.5 .51 .5 .52 0 .51 2.5 .51 -1.5 .51 1 .51 -.5 .51 -1.5 .51 -.5 .51 0 .52 3.5 .51 -2 .51 .5 .51 -1 .51 2 .51 -3 .51 2 .52 -1.5 .51 3.5 .51 -2 .51 -1 .51 3 .51 -1.5 .51 -4 .51 6.5 .52 -4.5 .51 3 .51 .5 .51 -2 .51 1.5 .51 -4.5 .51 1.5 .51 -6 .52 8.5 .51 -1.5 .51 1.5 .51 1.5 .51 -2 .51 -2.5 .51 9 .51 -5 .52 0 .51 -1.5 .51 -2 .51 3 .51 -12.5 .51 14 .51 -3 .52 1.5 .51 -1 .51 -1.5 .51 0 .51 -2 .51 4.5 .51 -1.5 .51 -1 .52 2 .51 0 .51 -.5 .51 .5 .51 -2 .51 9.5 .51 -7 .51 -3.5 .52 1 .51 2.5 .51 -.5 .51 -3.5 .51 2 .51 .5 .51 2 .51 -1 .52 -1 .51 2 .51 -1.5 .51 0 .51 -2 .51 0 .51 2 .52 -1.5 .51 -.5 .51 2 .51 1 .51 0 .51 -.5 .51 0 .51 -1.5 .52 -2.5 .51 4 .51 -7 .51 3.5 .51 2.5 .51 0 .51 -.5 .51 -2 .52 2.5 .51 -1 .51 1 .51 -.5 .51 0 .51 -.5 .51 0 .51 -1 .52 3 .51 -.5 .51 -3.5 .51 4.5 .51 1 .51 0 .51 -4 .52 1 .51 -1.5 .51 2.5 .51 -1.5 .51 1 .51 .5 .51 3.5 .51 -2.5 .52 -5.5 .51 6 .51 -3.5 .51 1 .51 0 .51 2.5 .51 -1 .51 -1 .52 -.5 .51 -5 .51 5.5 .51 -1.5 .51 0 .51 2.5 .51 -.5 .51 -.5 .52 -3 .51 2.5 .51 -4 .51 2 .51 .5 .51 2 .51 -2 .52 1 .51 3 .51 -4 .51 3 .51 -.5 .51 0 .51 -2.5 .51 -3 .52 3.5 .51 0 .51 -.5 .51 .5 .51 0 .51 .5 .51 -1.5 .51 2 .52 1 .51 -3.5 .51 5 .51 -2 .51 -1.5 .51 1.5 .51 3 .51 -2.5 .52 -2.5 .51 2.5 .51 -3 .51 2.5 .51 -.5 .51 -2.5 .51 .5 .52 1.5 .51 -.5 .51 -3.5 .51 5 .51 -.5 .51 -3.5 .51 .5 .51 -.5 .52 -1 .51 -2 .51 -2 .51 -5.5 .51 -2.5 .51 0 .51 -3 .51 -3 .52 .5 .51 4.5 .51 -.5 .51 6 .51 -.5 .51 2 .51 3 .51 1 .52 2.5 .51 .5 .51 3 .51 -1.5 .51 .5 .51 -.5 .51 -.5 .52 1.5 .51 -1.5 .51 0 .51 1.5 .51 .5 .51 .5 .51 1.5 .51 -2 .52 1 .51 -2.5 .51 1.5 .51 -1 .51 .5 .51 1.5 .51 2 .51 -5 .52 3.5 .51 0 .51 -1 .51 -1.5 .51 -3 .51 7.5 .51 -.5 .51 -2 .52 1 .51 2.5 .51 -6 .51 1.5 .51 .5 .51 1 .51 3 .52 -.5 .51 -3.5 .51 1 .51 -.5 .51 0 .51 .5 .51 -.5 .51 5 .52 -5.5 .51 -.5 .51 1.5 .51 -2.5 .51 1.5 .51 3.5 .51 -3.5 .51 4.5 .52 -5.5 .51 2.5 .51 -1.5 .51 5.5 .51 -5 .51 3 .51 -3.5 .51 4.5 .52 -3 .51 0 .51 1 .51 0 .51 -2 .51 0 .51 -1 .52 2.5 .51 -3.5 .51 3 .51 .5 .51 1 .51 -2 .51 -1.5 .51 -1.5 .52 6 .51 -2.5 .51 0 .51 -1 .51 -4 .51 6 .51 6.5 .51 -8.5 .52 -1 .51 1 .51 -.5 .51 .5 .51 3 .51 -1.5 .51 -.5 .51 -1 .52 1.5 .51 -3 .51 4 .51 -1.5 .51 -1.5 .51 1.5 .51 .5 .52 -.5 .51 -2.5 .51 2.5 .51 -2 .51 1.5 .51 -1 .51 .5 .51 0 .52 -1 .51 1.5 .51 -.5 .51 -2.5 .51 2 .51 1 .51 -3 .51 3.5 .52 -2.5 .51 3 .51 -2 .51 .5 .51 -2.5 .51 0 .51 5 .51 -5 .52 1 .51 -1 .51 .5 .51 -1.5 .51 -1 .51 .5 .51 -2 .51 .5 .52 -1 .51 2 .51 -6.5 .51 -2 .51 -2.5 .51 -4.5 .51 -3.5 .52 -1.5 .51 2 .51 -.5 .51 1.5 .51 2 .51 2 .51 3 .51 1.5 .52 2.5 .51 1.5 .51 1 .51 1 .51 .5 .51 .5 .51 .5 .51 -.5 .52 .5 .51 0 .51 1.5 .51 -3 .51 1 .51 -1 .51 -.5 .51 0 .52 1 .51 1 .51 -2 .51 -4.5 .51 2 .51 -.5 .51 -1.5 .52 0 .51 1 .51 -2 .51 -.5 .51 -2 .51 -1.5 .51 -.5 .51 1.5 .52 -5 .51 -1 .51 -1.5 .51 -2 .51 -1 .51 -3 .51 -1.5 .51 -1 .52 -5 .51 -2.5 .51 -7 .51 -2 .51 -6 .51 -7.5 .51 -12 .51 -15.5 .52 -23.5 .51 -32 .51 -40 .51 -49 .51 -53 .51 -50.5 .51 -38 .52 -16.5 .51 10.5 .51 33.5 .51 48.5 .51 53 .51 50 .51 42.5 .51 35 .52 25.5 .51 17.5 .51 12 .51 8.5 .51 6 .51 6 .51 4.5 .51 .5 .52 4.5 .51 1.5 .51 4.5 .51 .5 .51 2 .51 2.5 .51 1.5 .51 1.5 .52 1.5 .51 2.5 .51 0 .51 .5 .51 2.5 .51 -1 .51 2.5 .52 .5 .51 3 .51 .5 .51 -.5 .51 -4 .51 2.5 .51 3.5 .51 -1 .52 1.5 .51 0 .51 1 .51 0 .51 -.5 .51 1.5 .51 -1 .51 -.5 .52 5.5 .51 -1.5 .51 -3.5 .51 -1 .51 3.5 .51 -1 .51 1.5 .51 -.5 .52 1 .51 -.5 .51 -1 .51 -.5 .51 5 .51 -3 .51 1 .52 -1.5 .51 0 .51 4 .51 -4 .51 0 .51 1.5 .51 2.5 .51 -4 .52 .5 .51 1.5 .51 .5 .51 0 .51 -.5 .51 0 .51 3.5 .51 -4.5 .52 1.5 .51 0 .51 .5 .51 -1 .51 -1.5 .51 1.5 .51 2 .51 0 .52 .5 .51 -5 .51 3.5 .51 .5 .51 -1 .51 -.5 .51 .5 .52 0 .51 1 .51 0 .51 -2 .51 2.5 .51 -5 .51 5 .51 -1 .52 -1 .51 1 .51 -2 .51 1.5 .51 0 .51 -1 .51 0 .51 -.5 .52 2 .51 1 .51 -1.5 .51 -1.5 .51 1.5 .51 1 .51 -1 .51 2.5 .52 -2.5 .51 -1 .51 -1 .51 -2 .51 .5 .51 .5 .51 0 .52 -1 .51 .5 .51 -3.5 .51 1.5 .51 -1 .51 -3.5 .51 3.5 .51 -2.5 .52 -1 .51 -2 .51 .5 .51 -2 .51 2.5 .51 -4.5 .51 3 .51 1 .52 .5 .51 .5 .51 1 .51 .5 .51 -7 .51 9 .51 2.5 .51 4.5 .52 -3.5 .51 -.5 .51 1.5 .51 1 .51 -4 .51 2 .51 3.5 .52 -1 .51 -1.5 .51 1 .51 .5 .51 2.5 .51 -4 .51 11 .51 -8.5 .52 -2.5 .51 3.5 .51 0 .51 -2.5 .51 3 .51 -1 .51 0 .51 1 .52 -2 .51 0 .51 0 .51 3 .51 0 .51 1.5 .51 -2 .51 1.5 .52 -1.5 .51 .5 .51 -1 .51 1 .51 -.5 .51 1 .51 -2 .52 .5 .51 0 .51 1 .51 -2 .51 2 .51 1 .51 -1.5 .51 -1 .52 2 .51 -1 .51 0 .51 1 .51 -.5 .51 1.5 .51 -1.5 .51 -1 .52 0 .51 .5 .51 1 .51 -1 .51 .5 .51 -.5 .51 1 .51 .5 .52 .5 .51 -1.5 .51 -2.5 .51 3 .51 -1 .51 -1.5 .51 5 .52 -1.5 .51 3 .51 -4.5 .51 0 .51 -.5 .51 1 .51 3 .51 -4.5 .52 1.5 .51 -.5 .51 4 .51 -5.5 .51 -.5 .51 2.5 .51 2.5 .51 -2 .52 0 .51 1.5 .51 -1.5 .51 2 .51 -2.5 .51 .5 .51 -2.5 .51 4 .52 -2.5 .51 -1 .51 1.5 .51 0 .51 2.5 .51 -1 .51 2 .52 -2 .51 -.5 .51 0 .51 -.5 .51 1 .51 -2 .51 1.5 .51 2 .52 -2 .51 -1.5 .51 .5 .51 2.5 .51 -5.5 .51 5 .51 -1 .51 -1 .52 -.5 .51 .5 .51 0 .51 1.5 .51 -1 .51 -1 .51 2 .51 0 .52 -1.5 .51 .5 .51 1.5 .51 -1 .51 -3.5 .51 5 .51 -2.5 .52 0 .51 .5 .51 -.5 .51 1 .51 0 .51 -6 .51 8 .51 -3 .52 -.5 .51 -1.5 .51 2.5 .51 -.5 .51 -2 .51 2 .51 0 .51 -.5 .52 3 .51 -1 .51 0 .51 -1.5 .51 0 .51 -3.5 .51 3.5 .51 .5 .52 0 .51 -.5 .51 2 .51 1 .51 -3 .51 1.5 .51 .5 .52 -3 .51 1.5 .51 .5 .51 -1 .51 1.5 .51 .5 .51 -1 .51 0 .52 0 .51 2.5 .51 -1 .51 -2 .51 -.5 .51 1 .51 -.5 .51 .5 .52 1 .51 0 .51 -1 .51 -3.5 .51 4 .51 1.5 .51 -2 .51 .5 .52 -.5 .51 1.5 .51 -1.5 .51 1 .51 -.5 .51 1.5 .51 -2 .52 2.5 .51 -3 .51 1.5 .51 8 .51 -9 .51 -.5 .51 -1 .51 2 .52 -1 .51 0 .51 0 .51 2 .51 -1 .51 0 .51 1.5 .51 -2 .52 1 .51 -1.5 .51 1.5 .51 -1 .51 3.5 .51 -4.5 .51 1.5 .51 -1 .52 3.5 .51 -5 .51 2 .51 -.5 .51 1.5 .51 -2 .51 1.5 .52 -1 .51 1.5 .51 .5 .51 -1 .51 4 .51 -3.5 .51 0 .51 2 .52 -3 .51 -1 .51 1 .51 2.5 .51 -2 .51 7 .51 -7.5 .51 0 .52 4 .51 .5 .51 -2 .51 0 .51 -2 .51 -1.5 .51 0 .51 .5 .52 -.5 .51 1.5 .51 -3.5 .51 4 .51 2 .51 -3.5 .51 .5 .52 1 .51 0 .51 -1 .51 0 .51 .5 .51 -.5 .51 2 .51 -.5 .52 -2.5 .51 -.5 .51 0 .51 0 .51 0 .51 -.5 .51 0 .51 -.5 .52 -.5 .51 1 .51 -1.5 .51 .5 .51 -1 .51 1.5 .51 -2.5 .51 -1 .52 -2.5 .51 0 .51 .5 .51 -3.5 .51 0 .51 -1.5 .51 -1.5 .52 -1 .51 -1.5 .51 1 .51 -.5 .51 .5 .51 .5 .51 1 .51 1.5 .52 2 .51 2 .51 .5 .51 .5 .51 7.5 .51 -4.5 .51 0 .51 -1 .52 5 .51 0 .51 -.5 .51 -1 .51 1.5 .51 0 .51 -.5 .51 -.5 .52 1.5 .51 1.5 .51 -2 .51 9 .51 -7.5 .51 1 .51 -1 .52 -1.5 .51 1.5 .51 -1.5 .51 1 .51 -.5 .51 4.5 .51 -.5 .51 -2 .52 1.5 .51 -3 .51 1 .51 .5 .51 1 .51 -2.5 .51 .5 .51 1 .52 -3.5 .51 3 .51 3.5 .51 -3.5 .51 .5 .51 .5 .51 -2.5 .51 4 .52 -2 .51 -.5 .51 3 .51 -1.5 .51 -1.5 .51 -1.5 .51 1.5 .52 .5 .51 -.5 .51 -.5 .51 .5 .51 .5 .51 2 .51 -.5 .51 -2 .52 -1 .51 .5 .51 1.5 .51 .5 .51 0 .51 -1.5 .51 .5 .51 0 .52 .5 .51 -.5 .51 0 .51 1.5 .51 -2 .51 .5 .51 2.5 .51 -1.5 .52 -1 .51 0 .51 -9 .51 6.5 .51 3 .51 -3 .51 9 .52 -5.5 .51 -.5 .51 -6 .51 3.5 .51 1.5 .51 2.5 .51 -2.5 .51 1.5 .52 -1 .51 2.5 .51 -1 .51 -2 .51 1 .51 0 .51 -.5 .51 7 .52 -7 .51 -2 .51 .5 .51 1 .51 -.5 .51 -.5 .51 1 .51 2 .52 -.5 .51 -3 .51 2.5 .51 -2 .51 -1 .51 1 .51 -1.5 .52 -2 .51 2.5 .51 5.5 .51 -8 .51 -.5 .51 -1 .51 2 .51 -4 .52 .5 .51 -1 .51 -1.5 .51 0 .51 -.5 .51 -1 .51 -1 .51 0 .52 .5 .51 0 .51 .5 .51 1 .51 -.5 .51 1 .51 2 .51 1 .52 -.5 .51 2 .51 0 .51 1 .51 0 .51 2.5 .51 2.5 .52 -2 .51 -2.5 .51 1 .51 3 .51 -2 .51 1 .51 0 .51 5 .52 -5 .51 -2.5 .51 4 .51 -1.5 .51 -.5 .51 7.5 .51 -6 .51 2 .52 1.5 .51 -3.5 .51 -3 .51 3.5 .51 0 .51 -.5 .51 0 .51 -.5 .52 0 .51 -3.5 .51 3.5 .51 1.5 .51 -.5 .51 0 .51 1 .52 -1 .51 5.5 .51 -5.5 .51 1.5 .51 -1 .51 -.5 .51 3.5 .51 -3.5 .52 -1 .51 1 .51 1.5 .51 -3 .51 3 .51 -1.5 .51 0 .51 3 .52 -3.5 .51 1 .51 -1.5 .51 1.5 .51 0 .51 .5 .51 .5 .51 -3.5 .52 .5 .51 1 .51 -2 .51 .5 .51 1.5 .51 1.5 .51 -2.5 .52 0 .51 0 .51 -.5 .51 .5 .51 0 .51 -.5 .51 2 .51 -2.5 .52 1.5 .51 -1 .51 -1 .51 1 .51 1 .51 -1 .51 -3 .51 1 .52 .5 .51 -.5 .51 .5 .51 .5 .51 0 .51 0 .51 .5 .51 1 .52 -3.5 .51 0 .51 -.5 .51 1 .51 0 .51 -2 .51 2 .52 -3.5 .51 1.5 .51 0 .51 -.5 .51 -1.5 .51 .5 .51 1 .51 -2.5 .52 1 .51 -1 .51 -1 .51 -.5 .51 .5 .51 -3 .51 .5 .51 0 .52 -3.5 .51 3.5 .51 -4.5 .51 -.5 .51 -1.5 .51 -2 .51 -1.5 .51 -5 .52 0 .51 -5 .51 -3.5 .51 -8.5 .51 -6 .51 -14.5 .51 -13.5 .52 -14.5 .51 -17 .51 -13.5 .51 -13 .51 -9 .51 -4 .51 2.5 .51 6 .52 10 .51 13 .51 12.5 .51 11.5 .51 9.5 .51 9 .51 6 .51 3 .52 0 .51 -1 .51 -4.5 .51 -5 .51 -7.5 .51 -7 .51 -5 .51 -6 .52 -2.5 .51 1 .51 3.5 .51 7 .51 8.5 .51 10 .51 10 .52 9 .51 8.5 .51 5.5 .51 8 .51 3.5 .51 4.5 .51 1.5 .51 4 .52 1.5 .51 1 .51 1.5 .51 1.5 .51 .5 .51 0 .51 1.5 .51 0 .52 1.5 .51 2 .51 -2.5 .51 3 .51 .5 .51 -1 .51 2 .51 3 .52 -1 .51 -.5 .51 0 .51 -.5 .51 -.5 .51 2 .51 1.5 .52 -1.5 .51 -1.5 .51 2 .51 1.5 .51 .5 .51 -1 .51 .5 .51 0 .52 3 .51 -1 .51 .5 .51 -1.5 .51 1 .51 -2 .51 2.5 .51 -2 .52 1.5 .51 1.5 .51 -2 .51 1.5 .51 -2.5 .51 .5 .51 0 .51 5 .52 -3 .51 -1 .51 -1 .51 1.5 .51 .5 .51 -4 .51 4.5 .52 5 .51 -3.5 .51 -6.5 .51 5 .51 0 .51 -.5 .51 1 .51 1 .52 -4 .51 4 .51 -1.5 .51 -2 .51 1 .51 .5 .51 -.5 .51 3 .52 -2.5 .51 -1 .51 2 .51 -5 .51 5 .51 -1.5 .51 -1 .51 1.5 .52 2 .51 -2 .51 0 .51 2.5 .51 -1.5 .51 -9.5 .51 9.5 .52 -1 .51 .5 .51 1 .51 -2 .51 1.5 .51 -1.5 .51 1 .51 -1 .52 1.5 .51 1 .51 0 .51 -1 .51 -1 .51 .5 .51 1 .51 .5 .52 -1.5 .51 1 .51 0 .51 4 .51 -2.5 .51 -1.5 .51 0 .51 -.5 .52 -.5 .51 0 .51 2 .51 -5.5 .51 5 .51 -1.5 .51 .5 .52 0 .51 0 .51 .5 .51 -1 .51 .5 .51 1.5 .51 -.5 .51 0 .52 -1 .51 .5 .51 1 .51 -1.5 .51 .5 .51 .5 .51 0 .51 -3 .52 5.5 .51 -4.5 .51 1 .51 2 .51 .5 .51 -3.5 .51 1.5 .51 .5 .52 1 .51 -2 .51 2 .51 -1 .51 .5 .51 0 .51 -1 .52 2.5 .51 -1.5 .51 -.5 .51 -1 .51 -.5 .51 -3 .51 4.5 .51 .5 .52 -.5 .51 0 .51 -1 .51 2.5 .51 0 .51 2.5 .51 -5.5 .51 -1.5 .52 3 .51 -.5 .51 1 .51 -1.5 .51 -2 .51 1.5 .51 1 .51 2 .52 -1 .51 -5.5 .51 1.5 .51 4 .51 -3 .51 .5 .51 0 .51 .5 .52 3 .51 -4 .51 2 .51 .5 .51 -1 .51 2 .51 -1.5 .52 2 .51 -1.5 .51 0 .51 3 .51 -3 .51 -.5 .51 -.5 .51 2.5 .52 -2 .51 2 .51 .5 .51 -3.5 .51 3 .51 -2 .51 -1.5 .51 1 .52 1 .51 -.5 .51 -1 .51 .5 .51 -2.5 .51 3.5 .51 0 .51 -1 .52 -1 .51 5 .51 -5 .51 2 .51 -.5 .51 -1 .51 -1.5 .52 2 .51 -.5 .51 7.5 .51 -10 .51 2.5 .51 .5 .51 -.5 .51 0 .52 1.5 .51 -4 .51 1.5 .51 4 .51 -4 .51 .5 .51 -.5 .51 .5 .52 -.5 .51 0 .51 -2 .51 1 .51 .5 .51 -4.5 .51 2.5 .51 1.5 .52 -1.5 .51 1 .51 -2.5 .51 .5 .51 -.5 .51 2.5 .51 -5.5 .52 -1.5 .51 1 .51 2.5 .51 -1 .51 0 .51 -3 .51 0 .51 0 .52 -1.5 .51 -5 .51 4.5 .51 0 .51 -1 .51 -1.5 .51 2.5 .51 -2.5 .52 1.5 .51 2 .51 -2.5 .51 1.5 .51 -1.5 .51 -3 .51 3.5 .51 -.5 .52 3 .51 -.5 .51 4 .51 -3.5 .51 2.5 .51 -2 .51 .5 .52 0 .51 -.5 .51 -1 .51 -.5 .51 0 .51 0 .51 -.5 .51 0 .52 -3.5 .51 2 .51 2 .51 -2.5 .51 .5 .51 1.5 .51 .5 .51 .5 .52 -1.5 .51 -.5 .51 2.5 .51 .5 .51 1 .51 .5 .51 .5 .51 1.5 .52 .5 .51 -1.5 .51 2 .51 0 .51 2.5 .51 -2 .51 2.5 .52 -2 .51 .5 .51 1.5 .51 -.5 .51 1 .51 -.5 .51 -1.5 .51 1.5 .52 .5 .51 .5 .51 .5 .51 -.5 .51 1 .51 0 .51 -.5 .51 -1 .52 2 .51 -1.5 .51 3.5 .51 -3 .51 1 .51 -1.5 .51 3 .51 -.5 .52 -1.5 .51 .5 .51 5 .51 -5 .51 0 .51 0 .51 -1 .52 .5 .51 1 .51 0 .51 1.5 .51 -1.5 .51 1 .51 .5 .51 -2 .52 0 .51 .5 .51 -1.5 .51 1.5 .51 -.5 .51 -.5 .51 .5 .51 2 .52 -.5 .51 -3.5 .51 2.5 .51 4 .51 -4.5 .51 1.5 .51 0 .51 -2 .52 -1 .51 1 .51 2 .51 .5 .51 -2.5 .51 -6.5 .51 7 .52 3 .51 -2.5 .51 1 .51 -2.5 .51 .5 .51 -.5 .51 1.5 .51 0 .52 0 .51 -1 .51 1 .51 .5 .51 -.5 .51 .5 .51 -3 .51 1.5 .52 4 .51 -1.5 .51 0 .51 -.5 .51 -3 .51 -1 .51 4 .51 -2 .52 0 .51 -1 .51 1 .51 1 .51 -2.5 .51 .5 .51 0 .52 -1 .51 -4.5 .51 3 .51 1 .51 -3.5 .51 .5 .51 -.5 .51 -2 .52 .5 .51 0 .51 -1 .51 -1.5 .51 -.5 .51 .5 .51 .5 .51 -2.5 .52 3.5 .51 -1.5 .51 1.5 .51 -3.5 .51 5 .51 2 .51 .5 .51 .5 .52 -.5 .51 2 .51 -4 .51 4 .51 1 .51 -1 .51 2.5 .52 -1.5 .51 1 .51 0 .51 2.5 .51 -.5 .51 -1.5 .51 -1.5 .51 2.5 .52 -1.5 .51 1 .51 .5 .51 -1.5 .51 1 .51 1 .51 -1.5 .51 1.5 .52 -2 .51 .5 .51 3 .51 -1 .51 -.5 .51 -.5 .51 .5 .51 2 .52 -3 .51 0 .51 -.5 .51 0 .51 10.5 .51 -10 .51 .5 .52 1 .51 1.5 .51 -2 .51 -1.5 .51 2 .51 4 .51 -3.5 .51 -1 .52 1 .51 -2 .51 0 .51 .5 .51 -.5 .51 1 .51 .5 .51 1.5 .52 -3 .51 .5 .51 0 .51 -1 .51 1 .51 2.5 .51 -2 .51 1.5 .52 -1.5 .51 -1.5 .51 2.5 .51 -1.5 .51 4.5 .51 -3 .51 .5 .52 -1.5 .51 0 .51 -.5 .51 .5 .51 0 .51 0 .51 0 .51 .5 .52 .5 .51 0 .51 -1 .51 0 .51 0 .51 -1.5 .51 1 .51 -1 .52 1.5L953.01 896.5Z"/><path fill="none" stroke-miterlimit="40" d="M90.97 858.5l.51 -1 .51 -5 .51 -4.5 .52 -7 .51 -2 .51 -4 .51 2.5 .51 2 .51 4.5 .51 4.5 .52 4M195.79 867.5l.51 -2 .51 -2 .51 -5.5 .51 -2.5 .51 0 .51 -3 .51 -3 .52 .5 .51 4.5 .51 -.5 .51 6 .51 -.5M271.97 868.0l.51 -6.5 .51 -2 .51 -2.5 .51 -4.5 .51 -3.5 .52 -1.5 .51 2 .51 -.5 .51 1.5 .51 2 .51 2 .51 3M302.64 782.5l.52 -23.5 .51 -32 .51 -40 .51 -49 .51 -53 .51 -50.5 .51 -38 .52 -16.5 .51 10.5 .51 33.5 .51 48.5 .51 53 .51 50 .51 42.5 .51 35 .52 25.5M302.64 782.5l.52 -23.5 .51 -32 .51 -40 .51 -49 .51 -53 .51 -50.5 .51 -38 .52 -16.5 .51 10.5 .51 33.5 .51 48.5 .51 53 .51 50 .51 42.5 .51 35 .52 25.5M669.75 827.5l.51 -14.5 .51 -13.5 .52 -14.5 .51 -17 .51 -13.5 .51 -13 .51 -9 .51 -4 .51 2.5 .51 6 .52 10 .51 13 .51 12.5 .51 11.5 .51 9.5 .51 9M669.75 827.5l.51 -14.5 .51 -13.5 .52 -14.5 .51 -17 .51 -13.5 .51 -13 .51 -9 .51 -4 .51 2.5 .51 6 .52 10 .51 13 .51 12.5 .51 11.5 .51 9.5 .51 9M669.75 827.5l.51 -14.5 .51 -13.5 .52 -14.5 .51 -17 .51 -13.5 .51 -13 .51 -9 .51 -4 .51 2.5 .51 6 .52 10 .51 13 .51 12.5 .51 11.5 .51 9.5 .51 9M679.98 810.5l.51 -4.5 .51 -5 .51 -7.5 .51 -7 .51 -5 .51 -6 .52 -2.5 .51 1 .51 3.5 .51 7 .51 8.5 .51 10 .51 10 .52 9 .51 8.5"/></g></g><rect x="15.7" y="13.4" width="936.9" height="883.1" fill="none" stroke="#000" stroke-width="2.8"/><g stroke="#000" stroke-width="4"><line x1="15.13" y1="896" x2="15.13" y2="909"/><line x1="100.35" y1="896" x2="100.35" y2="919.7"/><line x1="185.56" y1="896" x2="185.56" y2="909"/><line x1="270.78" y1="896" x2="270.78" y2="919.7"/><line x1="356.00" y1="896" x2="356.00" y2="909"/><line x1="441.21" y1="896" x2="441.21" y2="919.7"/><line x1="526.42" y1="896" x2="526.42" y2="909"/><line x1="611.64" y1="896" x2="611.64" y2="919.7"/><line x1="696.86" y1="896" x2="696.86" y2="909"/><line x1="782.07" y1="896" x2="782.07" y2="919.7"/><line x1="867.28" y1="896" x2="867.28" y2="909"/><line x1="952.50" y1="896" x2="952.50" y2="919.7"/></g><g style="will-change:transform" font-family="Liberation Sans, sans-serif" font-size="43.5" letter-spacing="-1.7" fill="#000"><text transform="translate(84.30,954.2) scale(0.95,1)">20</text><text transform="translate(254.65,954.2) scale(0.95,1)">25</text><text transform="translate(425.75,954.2) scale(0.95,1)">30</text><text transform="translate(596.60,954.2) scale(0.95,1)">35</text><text transform="translate(766.10,954.2) scale(0.95,1)">40</text><text transform="translate(936.60,954.2) scale(0.95,1)">45</text></g><path fill="#000" d="M957.6 506.6L964.0 500.8L967.7 500.8L967.7 527.7L964.1 527.7L964.1 505.0L958.8 510.3L957.6 509.6Z"/><g style="will-change:transform" font-family="Liberation Sans, sans-serif" font-size="37.5" letter-spacing="-0.85" fill="#000"><text transform="translate(973.10,527.4) scale(0.94,1)">00</text><text transform="translate(956.75,692.2) scale(0.94,1)">500</text><text transform="translate(955.85,730.2) scale(0.94,1)">520</text><text transform="translate(956.05,774.6) scale(0.94,1)">540</text><text transform="translate(954.70,814.5) scale(0.94,1)">560</text><text transform="translate(954.50,855.4) scale(0.94,1)">580</text><text transform="translate(955.75,900.8) scale(0.94,1)">600</text></g><g style="will-change:transform" font-family="Liberation Sans, sans-serif" fill="#000"><text x="398.4" y="1006" font-size="51.5">2</text><text x="438.2" y="1006" font-size="51.5" letter-spacing="-3.7">Theta</text><text x="566.8" y="1000.3" font-size="42">(</text><text x="581.4" y="981.7" font-size="31">o</text><text x="598" y="1000.3" font-size="42">)</text></g></svg>
</body></html>
